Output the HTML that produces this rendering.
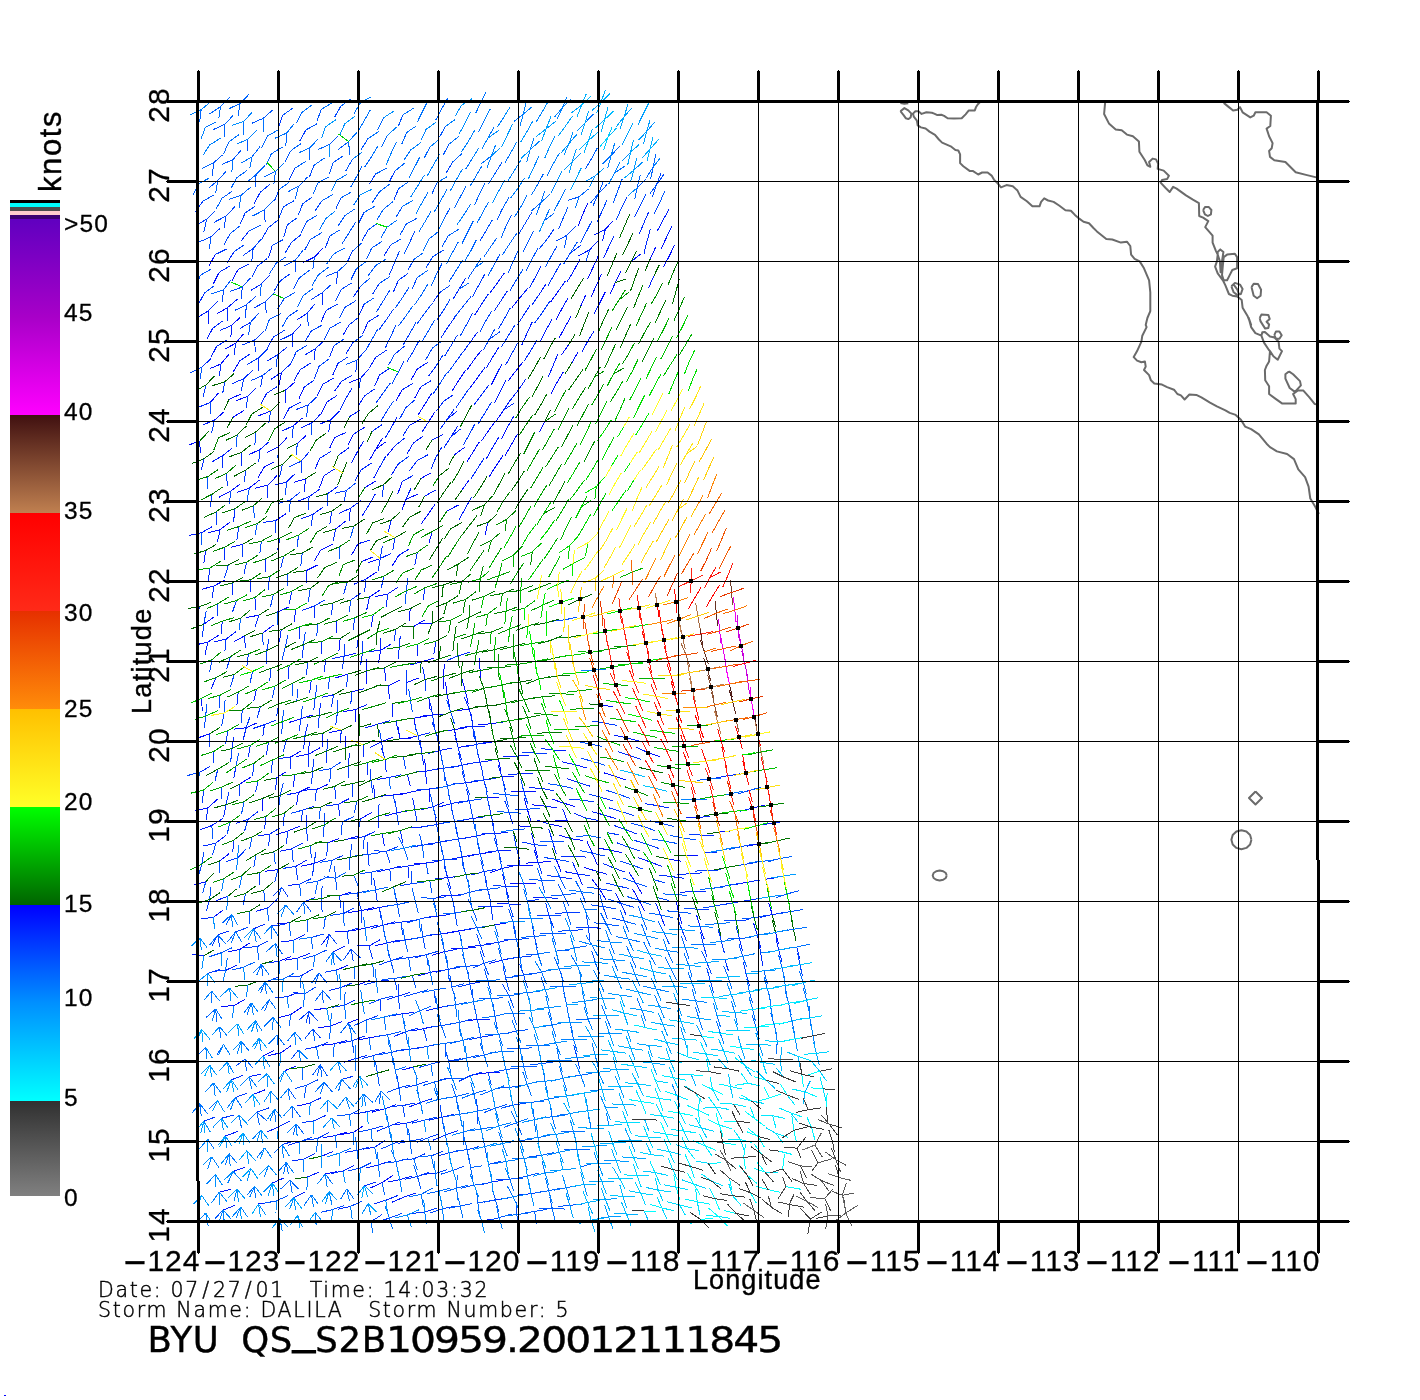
<!DOCTYPE html>
<html lang="en"><head><meta charset="utf-8"><title>BYU QS_S2B10959.20012111845</title>
<style>
#cb{position:absolute;left:10px;top:219px;width:50px;height:977px;background:linear-gradient(to bottom,#6000c0 0.0px,#a800c8 98.0px,#ff00ff 196.0px,#401010 196.0px,#c08050 294.0px,#ff0000 294.0px,#ff2a18 392.0px,#e63000 392.0px,#ff8c0a 490.0px,#ffc000 490.0px,#ffff28 588.0px,#00ff00 588.0px,#006400 686.0px,#0000ff 686.0px,#0090ff 784.0px,#00ffff 882.0px,#303030 882.0px,#808080 977.0px);}
html,body{margin:0;padding:0;background:#fff;}
body{width:1420px;height:1400px;position:relative;overflow:hidden;font-family:"Liberation Sans",sans-serif;color:#000;}
svg{position:absolute;left:0;top:0;}
.t{position:absolute;white-space:nowrap;line-height:1;}
.cl,.xl,.yl{-webkit-text-stroke:0.3px #000;}
#lon,#lat,#kn{-webkit-text-stroke:0.4px #000;}
.cl{font-size:24.5px;height:24px;line-height:24px;letter-spacing:1.2px;}
.xl{font-size:30px;width:100px;height:40px;line-height:40px;text-align:right;letter-spacing:1px;}
.xl .m{display:inline-block;transform:scale(2.5,1.15);transform-origin:100% 62%;margin-right:-2.5px;}
.yl{font-size:30px;letter-spacing:1px;width:60px;height:40px;line-height:40px;text-align:center;transform:rotate(-90deg);transform-origin:50% 50%;}
#lon{left:693px;top:1263.5px;font-size:27px;letter-spacing:1.1px;height:32px;line-height:32px;}
#lat{left:89.5px;top:646px;width:104px;font-size:27px;letter-spacing:1.3px;height:32px;line-height:32px;transform:rotate(-90deg);transform-origin:50% 50%;text-align:center;}
#kn{left:10.5px;top:134.5px;width:80px;font-size:31px;letter-spacing:1.6px;height:34px;line-height:34px;transform:rotate(-90deg);transform-origin:50% 50%;text-align:center;}
.th{font-family:"DejaVu Sans Light","DejaVu Sans","Liberation Sans",sans-serif;font-weight:200;font-size:20px;-webkit-text-stroke:0.45px #000;}
#l1{left:98px;top:1280px;letter-spacing:1.7px;font-size:20.5px;}
.sl{margin:0 2.2px;}
#l2{left:98px;top:1300px;letter-spacing:1.7px;font-size:20.5px;}
#ttl{left:147.5px;top:1321.5px;font-family:"DejaVu Sans","Liberation Sans",sans-serif;font-size:35.5px;letter-spacing:0.6px;word-spacing:10px;-webkit-text-stroke:0.4px #000;}
#ttl .d{display:inline-block;transform:scaleX(1.15);transform-origin:0 50%;letter-spacing:-1.7px;margin-left:-1px;}
#ttl .u{display:inline-block;margin:0 2px;transform:translateY(-7.5px) scaleX(1.25);-webkit-text-stroke:1.2px #000;}
</style></head>
<body>
<svg width="1420" height="1400" viewBox="0 0 1420 1400">
<rect width="1420" height="1400" fill="#fff"/>
<g shape-rendering="crispEdges"><rect x="10" y="200" width="50" height="3" fill="#000"/><rect x="10" y="203" width="50" height="4" fill="#00ffff"/><rect x="10" y="207" width="50" height="4" fill="#4d4d4d"/><rect x="10" y="211" width="50" height="4" fill="#ffcccc"/><rect x="10" y="215" width="50" height="4" fill="#3c0070"/></g>
<g fill="none" stroke-width="1" stroke-linecap="butt" shape-rendering="crispEdges">
<path stroke="#000eff" d="M215.1 254.6L209.0 266.0M582.7 214.5L587.6 203.3M582.7 214.5L577.9 226.6M314.4 257.1L322.8 248.3M314.4 257.1L302.9 262.7M238.2 269.3L232.1 280.4M219.2 272.3L213.3 283.9M605.3 229.2L613.4 220.6M666.3 237.8L661.1 249.1M227.4 307.8L217.2 313.6M669.5 255.6L674.7 244.6M669.5 255.6L663.4 267.3M650.4 258.6L655.7 247.1M631.2 261.6L640.4 254.2M592.9 267.7L598.4 255.6M592.9 267.7L587.6 279.0M573.8 270.8L579.7 259.5M231.5 325.5L240.3 317.3M615.4 282.4L620.9 271.5M615.4 282.4L610.4 293.6M596.3 285.5L601.5 274.1M596.3 285.5L591.1 296.9M558.1 291.5L550.6 302.0M520.0 297.6L511.9 307.5M235.6 343.2L243.6 333.8M235.6 343.2L224.6 349.4M599.7 303.2L605.2 292.1M580.7 306.2L585.5 295.5M561.6 309.3L556.0 319.8M239.7 360.9L233.3 371.7M220.8 364.0L228.8 354.5M220.8 364.0L210.0 368.6M565.1 327.0L571.1 316.2M565.1 327.0L558.7 338.6M281.4 372.6L279.2 384.5M568.6 344.7L561.6 354.8M473.9 359.9L481.5 350.2M473.9 359.9L467.2 369.8M417.2 369.1L410.8 380.4M360.6 378.2L348.7 382.8M304.1 387.3L299.0 398.5M285.3 390.3L294.7 382.3M247.8 396.4L236.4 400.5M229.0 399.5L240.7 394.1M210.3 402.5L218.3 393.2M572.0 362.5L578.3 351.7M515.3 371.6L522.9 362.0M515.3 371.6L507.7 381.5M496.4 374.6L491.2 385.2M477.5 377.7L469.9 388.2M458.6 380.7L465.8 370.0M458.6 380.7L452.3 390.6M420.9 386.8L414.7 398.1M402.1 389.8L396.0 400.9M326.9 402.0L321.1 413.8M270.6 411.1L258.3 415.9M233.1 417.2L243.8 410.6M214.4 420.2L223.9 411.9M556.6 383.2L563.3 372.1M556.6 383.2L551.0 394.0M424.7 404.5L417.8 415.3M293.3 425.8L302.5 418.0M199.8 441.0L188.5 445.1M503.6 410.1L496.4 420.7M428.4 422.2L434.9 411.9M353.4 434.4L348.0 445.4M334.7 437.4L329.6 448.4M297.2 443.5L306.3 435.4M278.6 446.6L287.2 437.4M278.6 446.6L267.4 452.4M259.9 449.6L248.9 454.6M544.8 421.7L539.4 432.2M507.2 427.8L501.4 439.3M488.4 430.9L495.3 421.3M488.4 430.9L481.6 440.7M394.7 446.1L386.7 456.2M375.9 449.1L382.8 437.7M375.9 449.1L369.6 459.8M375.9 449.1L385.6 441.9M263.9 467.3L274.4 461.7M263.9 467.3L258.0 477.9M510.8 445.5L517.5 434.1M510.8 445.5L504.9 455.9M473.3 451.6L479.5 441.6M473.3 451.6L466.6 462.5M454.6 454.7L464.5 447.4M323.8 475.9L319.3 488.4M305.1 479.0L293.8 482.4M267.9 485.1L277.1 475.5M267.9 485.1L255.3 488.2M249.3 488.1L259.5 480.0M249.3 488.1L237.3 492.1M230.7 491.1L240.1 484.2M230.7 491.1L219.1 497.2M495.7 466.3L503.1 455.3M495.7 466.3L488.9 477.2M420.9 478.5L431.3 472.7M402.2 481.5L397.8 494.0M364.9 487.6L375.4 481.3M461.9 490.1L468.9 480.1M406.0 499.2L401.8 510.5M406.0 499.2L418.1 494.0M275.9 520.5L285.8 513.7M220.2 529.6L229.6 522.4M220.2 529.6L208.5 532.7M447.0 510.9L458.5 505.0M428.4 513.9L435.4 503.7M428.4 513.9L421.0 524.1M335.5 529.1L345.5 521.3M242.8 544.3L231.1 547.2M487.9 522.5L485.1 534.9M432.1 531.7L428.9 543.3M357.9 543.8L351.5 555.3M320.8 549.9L332.5 544.3M320.8 549.9L314.2 561.2M398.7 555.5L391.9 566.4M380.2 558.5L368.3 562.5M361.7 561.6L372.9 557.0M306.2 570.7L317.7 564.9M214.0 585.9L225.0 580.0M214.0 585.9L202.3 589.2M365.5 579.3L376.4 572.2M387.8 594.0L398.4 586.9M387.8 594.0L375.2 596.6M369.4 597.0L380.1 589.9M277.2 612.2L289.1 606.8M258.9 615.2L246.5 617.5M203.7 624.4L213.8 617.0M410.1 608.7L409.7 621.2M262.8 633.0L273.3 625.2M244.5 636.0L233.8 641.6M207.8 642.1L218.8 635.1M207.8 642.1L195.6 644.9M432.2 623.4L419.2 623.0M413.8 626.4L424.9 619.9M340.2 638.6L338.9 651.4M380.8 650.2L391.5 643.8M380.8 650.2L378.5 662.6M421.3 661.8L433.8 658.3M421.3 661.8L409.7 665.1M366.3 671.0L366.1 684.0M366.3 671.0L366.3 659.3M348.0 674.0L335.3 678.0M480.1 670.5L481.2 683.3M480.1 670.5L479.5 658.5M443.4 676.5L443.3 689.5M443.4 676.5L444.5 663.7M406.7 682.6L418.5 678.0M388.4 685.7L399.5 680.1M351.8 691.7L363.8 688.9M465.4 691.2L468.3 704.0M465.4 691.2L462.0 679.1M447.1 694.3L449.6 706.6M447.1 694.3L445.4 681.6M428.8 697.3L430.1 709.6M355.6 709.5L342.8 711.8M355.6 709.5L355.8 721.7M300.9 718.6L312.6 715.1M300.9 718.6L289.1 722.5M246.2 727.7L257.4 722.7M246.2 727.7L234.3 729.1M209.8 733.8L198.6 737.7M469.1 709.0L456.1 710.9M432.5 715.0L444.5 714.2M432.5 715.0L419.9 716.4M414.2 718.1L427.2 716.1M414.2 718.1L415.9 730.2M341.2 730.2L329.4 732.6M600.9 705.4L613.0 706.5M491.0 723.7L503.0 722.0M491.0 723.7L478.4 725.0M454.5 729.7L466.6 727.5M454.5 729.7L441.5 731.3M454.5 729.7L456.8 742.1M418.0 735.8L405.6 738.6M399.7 738.9L411.4 738.4M399.7 738.9L398.3 726.8M381.5 741.9L393.2 736.9M345.1 748.0L345.9 736.1M308.7 754.1L320.0 747.8M308.7 754.1L295.8 756.7M290.5 757.1L301.4 750.8M494.7 741.4L482.5 743.7M458.2 747.5L469.7 745.4M276.3 777.9L286.4 771.6M240.0 783.9L250.7 777.2M498.3 759.1L500.9 770.8M425.5 771.3L424.8 759.0M316.5 789.5L328.0 784.3M298.3 792.6L309.4 787.1M262.1 798.6L262.2 811.3M207.8 807.8L217.7 799.1M207.8 807.8L195.6 810.9M647.8 752.5L659.8 756.5M501.9 776.8L514.0 776.2M429.2 789.0L429.3 802.1M411.0 792.0L398.9 795.0M392.9 795.1L404.7 793.3M392.9 795.1L380.3 796.3M614.8 776.3L626.3 780.1M614.8 776.3L603.5 772.7M523.7 791.5L535.6 791.6M523.7 791.5L510.9 791.9M487.4 797.6L499.4 797.0M396.6 812.8L409.3 810.5M396.6 812.8L384.9 816.1M360.4 818.9L371.6 812.6M288.0 831.0L299.9 826.1M288.0 831.0L276.2 834.5M563.7 803.2L575.1 806.5M563.7 803.2L552.2 799.1M545.5 806.2L532.3 804.8M527.3 809.3L530.9 820.5M527.3 809.3L524.1 797.7M346.1 839.7L358.8 835.7M328.0 842.7L339.2 838.5M219.8 860.9L229.3 853.5M567.2 820.9L578.9 822.0M567.2 820.9L555.1 820.2M549.0 824.0L562.0 826.7M530.9 827.0L517.7 825.8M313.9 863.5L301.2 866.2M277.8 869.6L264.6 871.3M205.8 881.7L194.1 884.8M752.5 808.2L764.8 805.0M570.7 838.6L582.6 840.4M570.7 838.6L558.8 835.2M534.5 844.7L537.7 857.6M534.5 844.7L531.6 833.4M480.2 853.8L492.3 852.0M426.0 863.0L413.8 863.0M719.4 832.1L731.8 830.8M610.5 850.3L622.2 852.7M610.5 850.3L598.1 848.0M592.4 853.3L597.6 865.4M592.4 853.3L587.0 841.6M556.2 859.4L560.9 871.4M538.1 862.5L551.2 861.1M538.1 862.5L525.8 863.1M520.0 865.5L533.0 865.9M501.9 868.5L489.7 872.8M339.6 895.9L351.5 891.9M213.7 917.2L223.6 909.8M759.0 843.7L747.3 846.1M686.4 855.9L698.3 855.9M668.3 858.9L681.2 861.3M595.9 871.1L584.0 867.3M523.6 883.2L535.8 883.9M523.6 883.2L510.4 883.8M379.4 907.5L366.6 910.4M361.4 910.6L373.7 907.7M361.4 910.6L348.2 912.5M289.5 922.7L277.2 924.0M635.5 882.7L641.7 893.4M599.4 888.8L605.8 899.5M599.4 888.8L592.1 879.4M365.2 928.3L352.3 930.6M347.2 931.4L335.3 931.9M239.6 949.6L249.6 943.1M239.6 949.6L227.8 951.7M747.5 882.2L734.4 884.6M639.0 900.4L644.4 910.9M639.0 900.4L632.7 889.1M494.7 924.8L507.1 922.8M458.8 930.8L471.0 929.2M458.8 930.8L446.7 933.1M386.9 943.0L375.1 945.8M297.2 958.2L285.2 960.1M279.3 961.2L290.6 956.7M678.5 912.1L676.0 900.6M462.4 948.6L450.7 948.4M444.5 951.6L432.0 955.3M336.9 969.9L348.1 965.3M772.2 914.6L768.8 902.9M430.2 972.4L443.2 970.1M430.2 972.4L417.7 975.9M358.6 984.5L369.8 980.4M233.5 1005.8L244.6 999.6M233.5 1005.8L221.1 1006.3M775.5 932.4L778.7 944.4M326.6 1008.4L314.5 1009.6M290.9 1014.4L301.5 1007.4M290.9 1014.4L278.8 1017.6M437.6 1007.8L449.8 1005.4M348.3 1023.0L359.3 1018.7M330.5 1026.1L342.0 1021.5M330.5 1026.1L318.1 1027.8M477.1 1019.5L465.4 1020.9M369.9 1037.7L382.6 1035.3M369.9 1037.7L358.3 1040.0M334.3 1043.8L321.9 1045.3M280.8 1052.9L290.8 1045.8M280.8 1052.9L268.4 1055.5M263.0 1056.0L273.7 1050.8M284.7 1070.7L295.7 1066.3M413.0 1067.1L401.5 1070.1M253.0 1094.5L265.1 1089.8M488.0 1072.7L499.8 1072.7M488.0 1072.7L475.7 1074.3M310.1 1103.1L297.5 1106.0M384.9 1108.7L372.1 1112.1M353.2 1132.5L363.2 1125.9M353.2 1132.5L340.1 1134.7M335.5 1135.5L347.2 1132.0M325.3 1174.0L337.3 1171.6M219.3 1192.2L230.8 1189.2M382.1 1182.6L393.0 1175.4M382.1 1182.6L370.3 1188.0"/>
<path stroke="#001dff" d="M663.0 220.1L669.1 209.1M663.0 220.1L657.5 230.6M605.3 229.2L594.5 234.8M605.3 229.2L602.6 240.8M666.3 237.8L672.0 226.1M608.7 247.0L603.7 257.7M589.5 250.0L597.4 241.4M589.5 250.0L578.1 255.9M227.4 307.8L237.4 299.2M208.5 310.8L198.3 316.9M208.5 310.8L208.1 323.5M573.8 270.8L567.2 281.7M497.4 282.9L504.5 272.7M497.4 282.9L490.2 292.7M326.2 310.3L321.1 321.7M307.2 313.3L296.6 320.1M231.5 325.5L230.9 337.4M212.6 328.5L206.9 339.0M653.7 276.3L648.5 288.1M558.1 291.5L565.4 281.0M539.1 294.6L545.8 284.4M520.0 297.6L527.7 288.5M481.9 303.7L474.8 314.9M368.0 321.9L362.8 333.7M349.0 325.0L342.8 335.5M292.3 334.1L300.9 324.8M216.7 346.3L211.0 357.1M599.7 303.2L593.9 314.1M561.6 309.3L568.1 297.9M546.1 330.0L551.8 319.5M546.1 330.0L540.5 340.6M527.1 333.1L532.4 321.6M527.1 333.1L521.9 344.8M470.2 342.2L477.7 331.8M375.6 357.4L369.5 368.0M337.9 363.5L332.9 374.7M300.2 369.6L294.2 380.5M281.4 372.6L270.8 379.4M587.5 341.7L594.4 330.5M587.5 341.7L581.6 352.5M492.8 356.9L499.2 346.7M492.8 356.9L486.2 368.2M417.2 369.1L427.6 362.5M379.5 375.1L374.6 386.2M360.6 378.2L368.8 369.0M341.8 381.2L334.7 390.9M323.0 384.2L334.4 377.6M323.0 384.2L317.2 395.7M285.3 390.3L286.0 402.5M266.6 393.4L260.5 404.9M247.8 396.4L256.3 387.6M553.1 365.5L557.9 353.8M553.1 365.5L548.5 376.6M496.4 374.6L501.9 364.1M477.5 377.7L485.2 367.3M364.5 395.9L358.2 405.8M326.9 402.0L337.2 395.4M289.3 408.1L283.3 419.0M214.4 420.2L202.7 425.0M518.9 389.3L526.2 378.4M518.9 389.3L511.0 399.4M500.0 392.3L505.8 380.6M500.0 392.3L494.6 402.9M424.7 404.5L431.7 393.4M349.5 416.7L360.3 410.2M330.8 419.7L339.5 411.0M330.8 419.7L319.6 424.2M312.0 422.8L320.7 414.0M312.0 422.8L300.8 428.1M293.3 425.8L282.6 430.8M199.8 441.0L200.2 453.0M503.6 410.1L511.0 399.1M447.2 419.2L456.8 411.5M428.4 422.2L421.9 432.3M409.6 425.3L420.7 419.1M390.9 428.3L396.9 417.4M353.4 434.4L364.5 427.3M334.7 437.4L345.9 432.6M259.9 449.6L269.1 441.8M222.5 455.7L232.2 448.2M222.5 455.7L212.1 461.8M507.2 427.8L513.7 416.3M450.9 436.9L458.0 425.8M432.1 440.0L442.9 434.6M413.4 443.0L423.0 436.2M413.4 443.0L407.1 453.7M357.2 452.1L363.8 440.7M357.2 452.1L351.6 463.1M338.5 455.2L349.0 447.7M319.9 458.2L314.8 469.3M492.0 448.6L498.6 437.5M492.0 448.6L486.2 458.9M398.4 463.8L391.4 475.0M379.8 466.8L373.9 477.8M323.8 475.9L334.3 469.1M305.1 479.0L304.9 491.9M286.5 482.0L295.0 473.8M286.5 482.0L275.1 485.0M327.7 493.7L338.0 486.1M309.1 496.7L319.5 489.3M309.1 496.7L297.6 501.4M424.6 496.2L436.0 489.9M406.0 499.2L411.3 487.6M368.8 505.3L375.2 494.1M368.8 505.3L361.8 516.3M350.2 508.4L361.0 500.7M350.2 508.4L339.2 513.2M350.2 508.4L349.5 521.1M313.0 514.4L323.3 506.9M313.0 514.4L301.0 518.8M220.2 529.6L217.3 542.2M201.7 532.7L211.9 526.7M201.7 532.7L188.8 535.6M465.6 507.8L471.6 497.1M465.6 507.8L459.1 519.4M391.2 520.0L388.4 531.5M205.8 550.4L203.8 562.9M357.9 543.8L370.5 539.9M398.7 555.5L409.0 549.0M306.2 570.7L306.4 583.4M365.5 579.3L353.6 584.4M369.4 597.0L366.8 609.6M295.7 609.2L294.2 621.9M373.2 614.7L371.1 626.8M336.4 620.8L336.7 633.2M226.1 639.1L236.4 631.4M226.1 639.1L213.6 642.2M207.8 642.1L205.1 654.5M436.0 641.1L433.8 654.2M417.6 644.1L417.7 656.0M380.8 650.2L368.1 651.8M380.8 650.2L380.3 638.5M344.1 656.3L356.2 653.2M215.9 677.6L210.9 689.6M384.6 667.9L385.7 680.9M256.5 689.2L253.8 700.8M201.7 698.3L202.2 711.1M388.4 685.7L389.4 698.6M333.5 694.8L321.7 697.4M392.2 703.4L392.2 716.6M355.6 709.5L367.4 704.4M469.1 709.0L472.5 721.4M396.0 721.1L398.9 733.9M377.7 724.2L390.1 720.6M377.7 724.2L365.3 727.9M323.0 733.3L322.2 746.5M472.7 726.7L485.1 726.5M472.7 726.7L460.2 727.2M381.5 741.9L370.2 747.3M308.7 754.1L309.2 741.2M439.9 750.5L452.5 747.9M439.9 750.5L427.8 753.6M294.4 774.8L293.7 786.6M626.1 737.8L638.5 741.0M626.1 737.8L614.3 735.1M553.0 750.0L566.2 750.8M516.5 756.1L529.3 755.1M516.5 756.1L503.3 756.8M480.1 762.2L492.0 760.5M425.5 771.3L438.0 768.8M425.5 771.3L412.5 772.3M425.5 771.3L426.6 783.7M407.3 774.3L410.4 786.4M389.1 777.4L376.6 779.6M316.5 789.5L303.5 790.2M298.3 792.6L286.7 794.7M298.3 792.6L296.6 804.9M647.8 752.5L636.5 747.4M574.8 764.7L587.5 768.1M574.8 764.7L562.1 761.8M520.1 773.8L533.4 773.6M465.5 782.9L478.3 781.1M411.0 792.0L423.9 789.4M374.7 798.1L373.7 785.3M338.4 804.2L349.0 798.7M247.9 819.4L236.2 823.2M211.8 825.5L222.6 818.6M211.8 825.5L199.5 830.1M578.3 782.4L566.8 778.5M541.9 788.5L529.4 787.6M451.0 803.7L439.3 806.9M432.9 806.7L444.1 802.3M432.9 806.7L421.1 809.8M269.9 834.1L258.2 835.8M215.8 843.2L226.0 835.2M545.5 806.2L557.5 808.1M472.9 818.4L485.0 816.8M472.9 818.4L460.6 820.5M418.5 827.5L406.3 828.1M382.3 833.6L384.2 845.6M291.9 848.8L279.9 851.2M603.5 814.8L615.5 818.6M603.5 814.8L591.6 811.6M567.2 820.9L562.9 809.3M549.0 824.0L537.2 820.3M494.6 833.1L507.9 832.9M476.5 836.1L488.8 833.0M476.5 836.1L463.9 838.2M313.9 863.5L325.9 858.8M295.8 866.5L306.6 860.1M697.9 817.4L710.5 816.5M697.9 817.4L686.1 817.9M498.3 850.8L511.2 850.2M480.2 853.8L467.8 856.4M462.1 856.9L474.2 854.6M462.1 856.9L449.5 859.6M426.0 863.0L438.8 861.4M407.9 866.0L419.8 864.0M389.8 869.0L401.2 866.0M389.8 869.0L377.2 871.8M299.7 884.2L287.9 885.5M227.7 896.4L215.8 900.7M773.9 822.9L761.2 825.0M520.0 865.5L506.7 865.9M501.9 868.5L513.4 866.0M447.7 877.7L459.9 876.1M447.7 877.7L435.1 878.9M267.6 908.1L255.7 911.3M650.2 861.9L662.2 866.6M650.2 861.9L637.9 857.7M595.9 871.1L607.5 874.3M577.8 874.1L565.4 871.8M577.8 874.1L582.6 885.3M505.5 886.3L508.8 898.4M505.5 886.3L502.7 874.4M451.4 895.4L463.5 894.7M451.4 895.4L438.4 896.2M379.4 907.5L391.3 905.1M635.5 882.7L628.8 871.8M545.2 897.9L532.9 897.5M509.1 904.0L496.6 903.2M437.1 916.1L449.9 914.6M437.1 916.1L424.9 918.0M383.1 925.3L395.4 921.7M365.2 928.3L377.7 925.2M329.2 934.4L321.6 944.8M293.4 940.5L304.8 934.8M293.4 940.5L280.7 942.0M203.8 955.7L191.8 954.6M765.6 879.2L777.8 877.5M620.9 903.5L615.5 892.9M440.8 933.9L453.6 932.4M440.8 933.9L427.8 935.5M386.9 943.0L399.4 940.1M369.0 946.0L379.9 939.8M369.0 946.0L356.6 945.1M333.1 952.1L344.5 946.3M297.2 958.2L309.7 953.5M225.6 970.4L237.3 965.0M678.5 912.1L682.1 924.3M660.5 915.1L664.8 926.1M660.5 915.1L655.8 903.3M480.4 945.5L468.5 946.6M462.4 948.6L475.6 947.3M700.0 926.8L704.1 938.8M700.0 926.8L696.6 915.1M502.0 960.2L514.3 957.9M502.0 960.2L489.2 963.5M287.1 996.7L298.3 992.4M757.4 935.4L760.7 947.7M757.4 935.4L753.5 922.8M437.6 1007.8L425.9 1010.9M401.9 1013.9L414.3 1012.3M477.1 1019.5L490.0 1019.4M423.5 1028.6L435.6 1026.2M423.5 1028.6L412.0 1031.1M334.3 1043.8L346.7 1040.6M355.9 1058.5L343.6 1062.6M249.1 1076.7L261.3 1074.0M420.5 1102.6L409.1 1106.9M384.9 1108.7L396.3 1104.7M278.5 1126.9L267.0 1132.0M225.3 1136.0L237.8 1131.4M406.4 1123.3L394.2 1124.6M335.5 1135.5L323.3 1137.7M374.7 1147.2L362.5 1149.3M321.5 1156.3L333.3 1151.3M233.1 1171.5L245.1 1167.3M378.4 1164.9L390.8 1161.0M378.4 1164.9L365.7 1168.1M343.0 1171.0L353.9 1165.6M307.6 1177.0L319.3 1172.0M272.3 1183.1L283.7 1178.0M399.8 1179.6L411.7 1176.2M399.8 1179.6L387.7 1182.0M293.8 1197.8L305.2 1191.8M258.5 1203.9L270.3 1202.2M223.2 1210.0L234.6 1205.5M403.5 1197.3L415.9 1193.1M403.5 1197.3L391.5 1202.4M481.5 1220.6L494.0 1219.2"/>
<path stroke="#002bff" d="M260.2 192.3L254.0 203.9M249.2 230.8L241.1 240.9M272.3 245.4L268.6 257.7M234.2 251.5L227.3 262.6M390.8 244.9L384.1 255.5M238.2 269.3L249.6 263.9M219.2 272.3L230.5 265.6M643.8 223.2L648.5 212.4M643.8 223.2L639.2 234.2M261.3 284.0L270.4 274.5M261.3 284.0L250.6 290.6M204.4 293.1L198.4 304.3M647.1 240.9L650.5 228.6M647.1 240.9L644.0 253.5M608.7 247.0L614.0 236.3M398.4 280.4L393.3 292.2M360.3 286.5L353.5 296.9M322.3 292.6L322.5 305.4M227.4 307.8L227.5 320.6M208.5 310.8L217.8 301.4M535.5 276.9L541.1 266.0M535.5 276.9L529.5 288.0M459.2 289.0L465.8 277.8M459.2 289.0L453.1 299.1M440.2 292.1L433.1 302.0M364.1 304.2L358.8 315.6M307.2 313.3L315.0 303.7M250.4 322.4L240.3 328.4M231.5 325.5L219.9 330.5M212.6 328.5L222.3 321.2M539.1 294.6L531.6 305.4M501.0 300.7L507.5 290.7M501.0 300.7L494.0 311.2M481.9 303.7L488.5 293.9M368.0 321.9L379.3 314.9M292.3 334.1L292.7 346.8M273.4 337.1L267.6 347.7M235.6 343.2L234.0 355.5M216.7 346.3L226.7 340.1M523.6 315.3L530.1 305.3M523.6 315.3L517.1 325.2M447.6 327.5L455.2 316.8M447.6 327.5L441.0 337.8M352.9 342.7L346.1 353.6M334.0 345.8L329.5 357.3M315.1 348.8L324.1 340.8M315.1 348.8L304.6 355.2M315.1 348.8L314.6 360.5M277.4 354.9L287.3 347.0M277.4 354.9L266.7 361.2M258.5 357.9L258.3 371.0M239.7 360.9L250.4 353.8M220.8 364.0L219.5 376.3M202.0 367.0L211.3 358.3M470.2 342.2L463.1 352.0M375.6 357.4L386.6 350.1M300.2 369.6L310.9 363.0M281.4 372.6L291.0 363.5M243.7 378.7L252.6 370.5M243.7 378.7L231.8 383.8M530.6 350.8L537.0 340.2M530.6 350.8L524.2 361.2M511.7 353.9L505.8 364.7M436.1 366.0L428.7 375.9M379.5 375.1L389.9 368.0M341.8 381.2L352.1 375.2M304.1 387.3L314.2 380.0M266.6 393.4L276.9 386.7M210.3 402.5L198.9 407.1M420.9 386.8L431.1 380.7M402.1 389.8L413.3 383.2M364.5 395.9L374.4 389.1M345.7 398.9L352.0 388.0M345.7 398.9L340.2 409.9M289.3 408.1L301.0 402.1M481.1 395.4L488.8 385.0M481.1 395.4L474.1 404.8M443.5 401.5L453.2 394.8M443.5 401.5L435.8 411.6M330.8 419.7L328.7 431.6M503.6 410.1L513.8 403.4M447.2 419.2L454.1 409.5M447.2 419.2L440.2 429.1M409.6 425.3L403.1 435.3M390.9 428.3L384.9 438.5M372.1 431.4L381.8 424.7M241.2 452.6L241.8 465.5M222.5 455.7L222.2 467.7M203.9 458.7L201.4 470.3M450.9 436.9L444.0 447.7M450.9 436.9L460.4 429.0M394.7 446.1L404.9 437.9M319.9 458.2L330.8 451.5M301.2 461.2L309.4 451.6M435.8 457.7L441.8 447.2M435.8 457.7L430.8 469.5M417.1 460.7L428.0 454.7M417.1 460.7L409.4 471.1M379.8 466.8L386.1 455.7M361.1 469.9L371.6 462.9M361.1 469.9L354.6 481.4M267.9 485.1L267.2 498.0M476.9 469.4L484.0 458.3M476.9 469.4L470.7 479.3M402.2 481.5L413.2 475.5M234.7 508.9L233.7 521.6M331.6 511.4L329.8 524.4M275.9 520.5L263.4 522.5M335.5 529.1L333.2 541.1M279.8 538.2L277.7 549.9M224.3 547.4L224.5 560.4M395.0 537.7L392.8 550.2M265.3 559.0L265.1 572.2M209.9 568.1L208.3 581.2M417.3 552.4L414.9 564.7M380.2 558.5L391.1 553.5M250.9 579.8L250.8 591.9M232.4 582.8L232.6 595.0M214.0 585.9L211.9 598.5M365.5 579.3L364.8 592.1M291.7 591.4L289.2 603.8M254.9 597.5L255.8 609.5M424.8 587.9L423.2 599.6M387.8 594.0L386.1 607.1M350.9 600.0L361.5 592.6M314.1 606.1L302.0 610.3M314.1 606.1L314.4 618.0M258.9 615.2L255.2 626.6M222.1 621.3L221.7 633.7M299.6 626.9L299.0 639.3M281.2 629.9L279.5 642.1M244.5 636.0L245.4 648.1M358.6 635.5L356.9 647.9M321.9 641.6L321.3 653.8M399.2 647.2L398.3 659.2M399.2 647.2L400.3 635.5M362.5 653.2L360.6 665.1M344.1 656.3L331.7 658.7M325.8 659.3L324.0 672.0M289.1 665.4L288.1 678.6M458.0 655.8L469.5 652.3M311.3 680.1L309.6 693.3M238.2 692.2L236.9 705.0M425.0 679.6L422.8 667.4M319.1 715.5L320.6 703.3M264.4 724.7L275.7 720.2M264.4 724.7L253.1 728.5M264.4 724.7L262.8 736.4M246.2 727.7L243.1 740.1M469.1 709.0L464.4 697.2M432.5 715.0L430.4 702.7M341.2 730.2L340.5 743.3M304.8 736.3L303.6 749.4M304.8 736.3L307.9 723.7M268.4 742.4L266.5 754.6M250.2 745.4L248.3 757.4M232.0 748.5L233.8 736.8M472.7 726.7L471.1 714.1M418.0 735.8L429.8 732.9M381.5 741.9L383.4 754.8M363.3 744.9L363.1 756.8M326.9 751.0L326.3 763.2M308.7 754.1L308.5 766.8M290.5 757.1L277.8 758.7M290.5 757.1L290.0 770.1M236.0 766.2L233.8 778.0M199.7 772.3L210.1 766.5M476.4 744.4L488.7 741.8M476.4 744.4L464.8 746.9M458.2 747.5L461.5 760.1M458.2 747.5L454.7 734.9M421.7 753.5L423.9 765.4M421.7 753.5L420.3 740.4M385.3 759.6L386.1 771.6M385.3 759.6L381.5 748.1M367.1 762.7L368.0 774.7M348.9 765.7L349.1 753.2M276.3 777.9L275.8 790.2M553.0 750.0L541.2 748.6M480.1 762.2L467.2 763.6M480.1 762.2L483.0 773.9M480.1 762.2L477.0 750.2M461.9 765.2L474.9 762.7M461.9 765.2L449.7 768.1M443.6 768.2L431.0 770.2M389.1 777.4L401.3 774.8M225.9 804.7L223.8 816.7M207.8 807.8L206.1 820.4M629.6 755.6L641.4 759.6M629.6 755.6L617.5 751.6M520.1 773.8L508.3 774.5M501.9 776.8L505.5 789.6M501.9 776.8L498.3 765.4M483.7 779.9L496.4 778.3M465.5 782.9L453.1 783.6M429.2 789.0L441.0 787.3M338.4 804.2L326.1 805.9M338.4 804.2L339.8 816.4M302.2 810.3L313.6 806.5M266.0 816.4L264.6 829.0M247.9 819.4L258.2 811.4M578.3 782.4L590.4 786.3M541.9 788.5L553.7 790.6M451.0 803.7L462.7 801.3M414.8 809.8L412.7 797.8M378.5 815.9L378.5 828.4M306.1 828.0L306.5 815.3M269.9 834.1L280.3 827.6M215.8 843.2L203.3 846.0M727.6 775.8L739.6 773.9M727.6 775.8L715.6 777.9M600.0 797.1L612.5 800.7M509.2 812.3L512.4 823.8M491.0 815.3L494.1 827.4M491.0 815.3L488.6 802.3M436.6 824.5L449.5 821.9M436.6 824.5L434.5 812.5M418.5 827.5L430.6 825.5M400.4 830.5L402.8 842.6M364.2 836.6L375.0 831.4M364.2 836.6L352.4 838.9M291.9 848.8L302.7 843.0M658.1 805.7L669.5 808.2M658.1 805.7L644.9 803.7M585.4 817.9L598.0 820.4M585.4 817.9L573.9 813.2M494.6 833.1L481.5 833.1M458.4 839.1L470.7 837.2M440.3 842.2L452.2 840.0M440.3 842.2L428.5 844.0M752.5 808.2L739.8 811.4M625.2 829.5L636.7 833.9M625.2 829.5L613.9 825.4M552.6 841.7L556.2 853.9M552.6 841.7L548.7 829.1M498.3 850.8L485.9 852.2M407.9 866.0L395.4 868.0M407.9 866.0L409.0 878.1M773.9 822.9L786.0 821.0M701.2 835.1L713.8 835.3M574.3 856.4L586.4 857.1M574.3 856.4L561.5 856.1M538.1 862.5L534.4 850.5M520.0 865.5L517.8 853.2M483.8 871.6L471.6 874.9M447.7 877.7L451.1 889.4M447.7 877.7L444.0 866.0M303.6 902.0L314.8 897.6M267.6 908.1L277.3 899.3M213.7 917.2L200.7 919.0M704.6 852.8L717.5 852.6M614.0 868.0L625.5 872.3M614.0 868.0L603.0 863.5M577.8 874.1L589.9 875.6M577.8 874.1L572.6 862.2M559.7 877.1L572.4 879.0M253.6 928.8L265.2 924.0M217.7 934.9L229.4 930.8M689.8 873.6L702.4 872.9M689.8 873.6L677.0 874.9M671.7 876.6L683.6 878.3M671.7 876.6L658.9 875.1M545.2 897.9L557.9 898.1M509.1 904.0L520.9 904.0M491.1 907.0L503.4 906.7M491.1 907.0L478.1 906.7M401.1 922.2L414.0 920.4M401.1 922.2L388.3 923.9M383.1 925.3L370.7 928.5M347.2 931.4L358.6 928.0M747.5 882.2L759.6 880.0M693.2 891.3L705.8 891.4M693.2 891.3L680.2 892.4M620.9 903.5L626.1 914.9M404.9 940.0L417.5 938.1M404.9 940.0L393.1 942.2M279.3 961.2L266.5 963.0M750.8 899.9L763.4 897.8M750.8 899.9L739.0 901.9M588.4 927.3L601.3 928.3M498.4 942.5L510.5 939.2M498.4 942.5L486.2 943.9M480.4 945.5L493.1 943.7M444.5 951.6L456.7 949.4M301.1 975.9L312.3 969.1M772.2 914.6L784.8 912.4M772.2 914.6L760.4 917.3M376.5 981.5L389.4 980.2M340.7 987.6L352.2 982.9M340.7 987.6L329.1 990.6M739.4 938.4L742.5 951.1M469.8 984.0L481.6 981.6M398.1 996.2L410.1 992.2M398.1 996.2L386.6 999.6M344.5 1005.3L355.5 999.6M796.8 947.0L799.8 959.2M778.7 950.1L782.2 962.3M778.7 950.1L775.9 937.7M760.7 953.1L762.7 965.6M401.9 1013.9L389.2 1016.1M405.6 1031.7L393.7 1036.6M352.1 1040.8L364.5 1036.1M352.1 1040.8L339.2 1043.3M316.5 1046.8L304.5 1049.4M480.7 1037.2L492.9 1035.3M355.9 1058.5L367.4 1055.4M231.4 1079.8L242.6 1075.5M448.7 1061.0L435.7 1062.5M310.1 1103.1L321.5 1097.5M420.5 1102.6L432.4 1098.7M367.2 1111.7L378.7 1109.2M367.2 1111.7L354.5 1114.0M313.9 1120.8L326.1 1115.3M278.5 1126.9L290.1 1121.0M441.9 1117.3L454.3 1114.1M441.9 1117.3L429.1 1120.1M406.4 1123.3L418.0 1119.8M388.7 1126.4L400.0 1122.0M388.7 1126.4L376.5 1131.4M300.0 1141.6L288.3 1145.2M282.3 1144.6L294.5 1140.9M445.6 1135.0L457.6 1130.7M445.6 1135.0L433.3 1140.1M374.7 1147.2L384.7 1140.7M356.9 1150.2L345.2 1152.4M303.8 1159.3L314.8 1153.6M303.8 1159.3L291.9 1160.8M343.0 1171.0L331.5 1173.5M435.2 1173.5L421.9 1174.3M364.4 1185.7L376.4 1182.0M491.9 1182.1L503.6 1179.9M385.8 1200.3L398.1 1195.4M385.8 1200.3L373.9 1203.8M350.5 1206.4L337.6 1209.3M495.5 1199.8L507.9 1198.0M481.5 1220.6L469.8 1223.0"/>
<path stroke="#003aff" d="M282.7 115.3L278.6 126.7M306.0 129.9L299.6 141.2M294.7 168.4L289.1 179.9M394.9 171.0L389.4 181.6M375.6 174.0L369.4 184.1M260.2 192.3L270.4 183.8M202.7 201.4L195.4 212.1M398.6 188.7L394.0 199.6M245.1 213.0L240.3 224.0M206.8 219.1L195.8 225.3M287.4 224.7L283.6 237.4M268.3 227.7L278.5 219.7M268.3 227.7L262.0 238.6M211.0 236.8L220.1 228.3M367.9 230.2L361.9 241.2M329.6 236.3L325.3 248.4M291.4 242.4L301.0 234.7M291.4 242.4L285.1 253.1M253.2 248.5L243.1 255.5M215.1 254.6L226.5 249.1M640.5 205.4L634.7 217.0M621.2 208.5L626.8 197.1M601.9 211.5L596.8 222.6M352.6 251.0L347.3 262.0M257.3 266.2L267.3 258.3M257.3 266.2L252.2 277.1M547.7 238.4L554.3 228.6M394.6 262.7L389.4 274.7M337.4 271.8L336.7 283.7M280.3 280.9L289.9 273.9M280.3 280.9L274.1 291.0M570.3 253.0L580.8 245.4M398.4 280.4L408.0 273.4M379.3 283.4L372.9 293.8M322.3 292.6L311.4 299.5M265.3 301.7L254.1 308.0M554.6 273.8L560.8 263.1M554.6 273.8L548.2 285.4M478.3 286.0L484.7 274.4M478.3 286.0L472.4 296.9M326.2 310.3L337.6 304.1M443.9 309.8L437.0 319.8M386.9 318.9L393.5 309.0M386.9 318.9L379.1 329.6M349.0 325.0L359.2 316.9M311.2 331.1L304.8 341.9M292.3 334.1L280.4 340.0M273.4 337.1L284.6 330.2M254.5 340.2L264.0 331.2M254.5 340.2L242.2 345.0M254.5 340.2L255.5 352.5M542.6 312.3L549.8 301.2M542.6 312.3L534.6 322.9M504.5 318.4L510.2 308.1M504.5 318.4L498.4 329.0M466.6 324.5L472.8 312.8M409.7 333.6L403.2 344.9M390.7 336.6L385.3 348.0M296.2 351.8L291.2 362.9M258.5 357.9L267.9 348.8M258.5 357.9L247.0 364.6M508.1 336.1L514.9 325.1M508.1 336.1L501.5 346.7M451.3 345.2L457.6 334.7M451.3 345.2L444.7 355.9M413.4 351.3L419.4 339.9M413.4 351.3L407.1 361.3M394.5 354.4L404.5 346.2M356.8 360.4L365.1 350.7M356.8 360.4L355.8 372.4M337.9 363.5L348.5 356.5M319.0 366.5L314.3 378.7M262.5 375.6L260.7 387.2M243.7 378.7L241.0 391.4M224.9 381.7L222.7 393.2M206.1 384.8L202.9 397.5M511.7 353.9L517.6 343.3M455.0 363.0L462.7 352.2M436.1 366.0L442.8 355.2M398.3 372.1L403.7 361.4M360.6 378.2L358.7 390.2M247.8 396.4L246.2 408.1M439.8 383.7L433.3 393.7M383.3 392.9L375.9 403.0M308.1 405.0L316.7 397.0M308.1 405.0L296.4 409.4M270.6 411.1L268.7 423.0M214.4 420.2L211.7 432.8M462.3 398.4L469.6 387.8M462.3 398.4L455.7 408.2M405.9 407.6L414.8 399.9M405.9 407.6L399.6 419.0M387.1 410.6L380.6 421.6M293.3 425.8L292.2 438.0M484.8 413.1L491.4 402.1M484.8 413.1L477.8 424.4M259.9 449.6L258.7 462.4M469.6 433.9L475.2 423.4M469.6 433.9L463.2 445.2M301.2 461.2L289.2 466.7M301.2 461.2L301.3 473.2M282.5 464.3L279.5 477.1M245.2 470.4L244.8 482.3M226.6 473.4L227.3 485.9M398.4 463.8L408.8 456.5M212.1 494.2L210.3 506.8M383.6 484.6L382.3 496.9M346.3 490.6L334.9 493.3M346.3 490.6L344.1 502.2M327.7 493.7L327.6 505.7M309.1 496.7L308.0 509.7M290.5 499.8L300.3 492.0M290.5 499.8L278.3 503.6M216.2 511.9L216.2 524.8M313.0 514.4L311.0 526.2M275.9 520.5L275.3 533.4M238.8 526.6L236.9 539.6M242.8 544.3L242.1 557.4M283.8 556.0L280.6 568.5M246.8 562.1L244.0 573.5M228.4 565.1L224.6 577.8M380.2 558.5L378.2 571.1M380.2 558.5L382.4 545.6M269.3 576.8L268.4 589.5M384.0 576.2L381.2 588.0M347.1 582.3L343.8 593.7M236.4 600.6L232.5 612.0M218.0 603.6L217.3 615.7M199.6 606.6L196.1 618.6M332.5 603.1L331.6 615.4M314.1 606.1L325.1 599.9M203.7 624.4L202.3 637.4M354.8 617.8L352.9 630.5M226.1 639.1L224.9 650.9M395.4 629.4L394.6 641.5M303.5 644.6L302.3 657.7M266.8 650.7L267.0 663.9M266.8 650.7L269.1 638.5M248.5 653.8L246.8 666.1M230.2 656.8L226.7 669.1M362.5 653.2L362.7 641.5M344.1 656.3L342.3 668.6M344.1 656.3L344.9 644.0M307.4 662.4L306.6 675.5M270.8 668.4L269.7 681.2M458.0 655.8L446.9 660.5M348.0 674.0L346.4 686.5M425.0 679.6L426.1 691.5M406.7 682.6L406.7 695.0M406.7 682.6L406.5 669.6M351.8 691.7L350.8 704.0M333.5 694.8L331.5 707.3M315.2 697.8L313.8 710.3M278.7 703.9L276.7 716.2M260.4 706.9L257.0 718.2M337.4 712.5L335.8 724.7M319.1 715.5L318.6 728.5M300.9 718.6L299.2 730.9M246.2 727.7L250.1 716.4M228.0 730.8L225.7 743.8M209.8 733.8L209.7 746.7M432.5 715.0L434.6 727.5M286.6 739.4L283.3 751.8M213.8 751.5L213.7 763.4M472.7 726.7L474.4 739.4M436.2 732.8L439.7 744.3M436.2 732.8L431.9 721.7M418.0 735.8L420.8 748.0M326.9 751.0L327.5 739.1M272.3 760.1L271.5 773.3M254.1 763.2L252.5 775.9M217.8 769.2L214.9 781.1M604.3 723.1L616.7 725.3M604.3 723.1L592.3 721.1M439.9 750.5L442.7 762.7M439.9 750.5L437.2 738.4M348.9 765.7L348.7 778.3M312.6 771.8L311.5 784.1M312.6 771.8L313.7 759.1M258.1 780.9L255.5 792.4M240.0 783.9L239.9 796.5M203.7 790.0L202.2 802.7M534.8 753.0L546.6 753.1M534.8 753.0L522.4 752.8M461.9 765.2L458.5 753.5M443.6 768.2L456.5 766.0M370.9 780.4L370.0 768.5M352.8 783.4L353.0 796.7M334.6 786.5L336.0 798.5M316.5 789.5L314.9 801.5M225.9 804.7L229.0 792.2M483.7 779.9L471.0 781.4M483.7 779.9L487.3 792.4M483.7 779.9L481.5 766.8M465.5 782.9L461.8 770.6M429.2 789.0L417.3 789.7M302.2 810.3L301.7 822.3M284.1 813.3L283.8 825.9M247.9 819.4L244.6 831.0M469.2 800.6L457.5 803.4M469.2 800.6L471.8 812.4M469.2 800.6L466.6 789.1M451.0 803.7L453.0 815.4M451.0 803.7L448.2 792.0M414.8 809.8L417.1 822.2M396.6 812.8L395.4 801.2M378.5 815.9L379.1 803.8M342.3 821.9L330.1 821.5M306.1 828.0L308.0 840.8M288.0 831.0L286.2 844.0M269.9 834.1L268.5 846.1M233.8 840.2L232.7 852.3M600.0 797.1L588.4 793.9M581.8 800.1L594.1 801.8M581.8 800.1L569.2 799.3M509.2 812.3L504.8 801.0M436.6 824.5L424.7 826.5M436.6 824.5L438.9 836.3M328.0 842.7L326.6 855.6M237.8 857.9L245.9 849.3M237.8 857.9L225.7 861.8M621.7 811.8L634.2 815.6M621.7 811.8L609.2 807.9M494.6 833.1L497.2 844.6M494.6 833.1L491.7 820.9M458.4 839.1L445.5 840.9M422.2 845.2L434.5 843.8M422.2 845.2L410.5 847.2M386.1 851.3L398.2 846.6M386.1 851.3L373.9 850.8M368.0 854.4L369.1 866.2M368.0 854.4L367.3 842.0M331.9 860.4L343.3 855.3M313.9 863.5L312.5 876.2M313.9 863.5L316.1 851.6M295.8 866.5L282.8 868.4M295.8 866.5L297.6 879.5M259.8 872.6L259.3 884.6M607.0 832.6L619.3 834.9M534.5 844.7L522.3 842.0M516.4 847.8L519.6 859.3M516.4 847.8L513.9 835.3M498.3 850.8L501.4 862.2M444.0 859.9L457.0 859.1M444.0 859.9L432.3 860.7M299.7 884.2L310.8 878.9M281.7 887.3L272.8 896.4M281.7 887.3L288.4 897.4M209.8 899.4L206.3 911.3M701.2 835.1L688.7 834.2M646.8 844.2L659.2 848.6M646.8 844.2L634.5 840.4M628.6 847.3L640.1 851.1M628.6 847.3L616.8 842.7M538.1 862.5L542.0 873.5M483.8 871.6L495.8 869.4M483.8 871.6L486.9 883.0M411.6 883.7L399.6 885.8M375.6 889.8L377.2 901.8M375.6 889.8L373.7 877.5M339.6 895.9L340.7 907.5M559.7 877.1L547.1 875.5M505.5 886.3L518.5 886.0M505.5 886.3L492.6 885.5M433.4 898.4L446.3 896.7M379.4 907.5L381.2 919.1M361.4 910.6L361.7 923.5M361.4 910.6L357.9 898.1M343.4 913.6L354.3 908.0M271.5 925.8L284.7 924.6M217.7 934.9L212.3 945.7M744.2 864.5L757.1 862.4M707.9 870.5L720.6 869.9M707.9 870.5L695.4 871.1M617.5 885.8L628.8 888.5M617.5 885.8L606.0 882.9M599.4 888.8L612.3 890.9M527.2 901.0L539.3 899.5M527.2 901.0L514.5 902.0M491.1 907.0L492.7 919.6M491.1 907.0L489.3 894.4M419.1 919.2L431.8 916.3M257.5 946.5L268.2 940.8M257.5 946.5L244.4 947.7M566.8 912.6L579.9 912.2M566.8 912.6L554.7 913.6M548.8 915.6L536.4 915.0M548.8 915.6L553.8 927.8M548.8 915.6L545.8 903.2M476.8 927.8L464.1 929.7M458.8 930.8L462.1 943.3M369.0 946.0L372.6 958.7M225.6 970.4L213.1 971.3M207.8 973.4L220.3 969.3M732.7 903.0L745.5 900.8M732.7 903.0L720.6 905.1M714.6 906.0L726.6 903.9M696.6 909.1L708.9 909.4M588.4 927.3L575.5 927.0M570.3 930.3L583.0 929.8M534.3 936.4L537.2 947.8M534.3 936.4L532.4 924.8M480.4 945.5L484.4 956.7M426.5 954.6L414.6 957.8M408.6 957.7L421.0 955.7M390.7 960.7L403.3 956.6M390.7 960.7L378.7 965.1M336.9 969.9L324.6 972.2M301.1 975.9L288.1 976.9M265.3 982.0L277.6 977.4M736.1 920.7L748.9 919.8M681.9 929.8L686.5 940.8M681.9 929.8L677.1 917.8M520.0 957.2L532.4 955.9M448.2 969.3L460.0 967.4M448.2 969.3L435.8 972.2M376.5 981.5L363.7 984.8M304.9 993.7L293.0 992.7M287.1 996.7L274.9 997.9M739.4 938.4L736.1 926.5M721.4 941.5L724.5 953.3M721.4 941.5L718.2 929.5M703.3 944.5L706.9 957.1M703.3 944.5L700.6 932.1M523.6 974.9L519.5 963.7M469.8 984.0L457.9 987.0M398.1 996.2L398.3 983.7M380.3 999.2L380.7 1011.4M344.5 1005.3L332.3 1007.2M308.8 1011.4L299.3 1019.8M308.8 1011.4L309.3 1023.7M760.7 953.1L758.7 941.1M724.7 959.2L728.5 971.1M366.2 1020.0L377.8 1015.8M312.6 1029.1L320.5 1037.9M746.0 973.9L749.8 986.3M746.0 973.9L743.4 962.1M405.6 1031.7L417.6 1028.3M316.5 1046.8L328.0 1042.3M480.7 1037.2L468.8 1039.8M427.2 1046.3L438.9 1044.1M427.2 1046.3L415.5 1048.8M409.3 1049.4L421.8 1047.1M409.3 1049.4L396.3 1050.9M373.7 1055.5L385.0 1052.1M373.7 1055.5L361.9 1058.5M448.7 1061.0L460.7 1058.6M341.9 1079.3L353.2 1076.3M235.3 1097.5L246.9 1093.2M470.2 1075.7L482.0 1072.1M470.2 1075.7L459.3 1081.1M452.4 1078.8L440.4 1079.1M416.8 1084.8L428.3 1081.0M416.8 1084.8L404.7 1088.0M256.9 1112.2L269.4 1107.7M221.4 1118.3L234.3 1115.0M203.7 1121.3L215.3 1117.0M402.7 1105.6L414.6 1103.1M402.7 1105.6L390.7 1106.5M313.9 1120.8L302.1 1122.7M424.1 1120.3L411.7 1123.2M370.9 1129.4L382.6 1126.0M317.7 1138.5L329.2 1132.4M317.7 1138.5L304.6 1140.2M427.8 1138.0L439.2 1133.7M410.1 1141.1L398.0 1143.3M392.4 1144.1L404.5 1139.7M356.9 1150.2L369.1 1147.3M449.2 1152.7L437.6 1156.1M413.8 1158.8L424.7 1153.9M417.5 1176.5L428.7 1172.4M417.5 1176.5L404.7 1179.3M491.9 1182.1L479.5 1185.0M530.9 1193.8L518.5 1194.7M424.8 1212.0L436.6 1208.2M424.8 1212.0L411.9 1213.5M389.5 1218.1L377.7 1221.6M371.9 1221.1L381.8 1214.7M371.9 1221.1L359.2 1222.4"/>
<path stroke="#0048ff" d="M340.9 106.1L334.6 117.1M313.9 165.4L309.3 177.4M452.8 161.9L446.0 173.3M279.4 189.2L274.3 201.1M341.0 197.8L336.0 208.5M321.8 200.9L314.8 211.3M302.6 203.9L312.3 197.0M302.6 203.9L298.3 215.2M283.4 206.9L293.8 200.8M283.4 206.9L278.6 218.8M264.3 210.0L265.2 222.3M245.1 213.0L255.0 206.4M226.0 216.1L235.0 206.6M226.0 216.1L214.3 222.2M226.0 216.1L223.9 228.5M206.8 219.1L215.1 210.7M206.8 219.1L203.8 231.8M364.0 212.5L358.4 223.8M306.5 221.6L300.9 233.5M287.4 224.7L297.5 217.6M230.1 233.8L224.0 244.6M211.0 236.8L198.9 242.1M656.5 184.7L661.2 172.6M656.5 184.7L652.4 196.7M656.5 184.7L664.2 173.9M310.5 239.4L304.6 250.2M272.3 245.4L283.0 239.7M253.2 248.5L261.4 238.9M253.2 248.5L251.8 260.7M234.2 251.5L244.3 244.9M659.8 202.4L654.0 213.9M640.5 205.4L645.8 194.6M621.2 208.5L616.3 220.0M601.9 211.5L607.2 199.6M563.4 217.6L558.6 229.2M525.0 223.7L531.8 212.4M525.0 223.7L518.5 234.5M486.6 229.7L480.0 241.1M409.9 241.9L414.8 231.1M295.4 260.1L283.6 266.1M295.4 260.1L295.1 272.2M586.1 232.3L591.6 221.5M586.1 232.3L580.3 243.1M566.9 235.3L576.0 225.8M566.9 235.3L556.0 241.1M547.7 238.4L539.4 248.6M432.8 256.6L443.7 250.2M432.8 256.6L426.1 267.6M413.7 259.6L407.8 270.5M394.6 262.7L399.3 251.4M356.4 268.8L351.0 279.6M337.4 271.8L325.7 276.4M299.3 277.9L293.4 289.3M242.3 287.0L250.6 277.8M242.3 287.0L230.3 291.3M242.3 287.0L241.1 299.4M223.3 290.0L222.6 302.3M204.4 293.1L213.9 286.1M589.5 250.0L586.0 261.7M570.3 253.0L563.8 263.9M551.2 256.1L557.2 245.9M417.4 277.4L412.0 288.9M341.3 289.5L351.6 282.9M341.3 289.5L335.5 301.3M322.3 292.6L331.2 284.6M284.3 298.6L277.7 309.0M265.3 301.7L274.5 292.5M265.3 301.7L266.3 313.5M246.4 304.7L256.3 296.0M246.4 304.7L235.2 310.2M246.4 304.7L245.4 317.5M516.4 279.9L509.9 290.7M440.2 292.1L450.3 285.3M383.1 301.2L389.8 290.1M383.1 301.2L376.5 311.9M345.2 307.2L356.0 300.6M345.2 307.2L339.2 318.2M307.2 313.3L308.4 326.2M288.3 316.4L298.1 309.9M250.4 322.4L259.1 312.9M462.9 306.7L471.0 296.5M462.9 306.7L454.7 317.0M443.9 309.8L449.9 299.6M424.9 312.8L432.7 302.9M424.9 312.8L417.4 323.5M330.1 328.0L340.8 322.1M330.1 328.0L324.1 339.4M311.2 331.1L322.4 324.9M485.5 321.4L491.8 310.7M485.5 321.4L479.7 332.3M466.6 324.5L460.1 336.1M409.7 333.6L416.2 322.0M390.7 336.6L396.0 324.7M371.8 339.7L365.4 351.0M352.9 342.7L363.3 334.8M334.0 345.8L344.2 338.9M296.2 351.8L307.0 345.4M277.4 354.9L276.3 367.1M202.0 367.0L190.5 372.9M489.2 339.2L495.1 328.6M489.2 339.2L483.7 349.8M489.2 339.2L499.9 331.8M432.3 348.3L425.8 359.7M394.5 354.4L388.4 365.4M319.0 366.5L328.4 359.3M262.5 375.6L271.9 368.1M262.5 375.6L251.4 380.4M455.0 363.0L447.4 373.3M398.3 372.1L392.0 383.7M210.3 402.5L210.2 414.5M439.8 383.7L446.6 373.1M383.3 392.9L390.2 383.1M308.1 405.0L306.4 417.3M387.1 410.6L393.6 400.8M312.0 422.8L311.4 435.2M255.8 431.9L254.9 445.0M297.2 443.5L296.5 455.4M278.6 446.6L277.8 458.4M286.5 482.0L285.5 495.0M230.7 491.1L229.4 504.2M346.3 490.6L356.4 482.5M290.5 499.8L289.2 512.2M298.4 535.2L297.3 547.4M261.3 541.3L259.8 553.4M302.3 552.9L300.8 566.0M287.8 573.7L287.7 585.7M310.2 588.4L308.3 601.5M273.3 594.5L270.4 607.2M406.3 590.9L407.8 578.2M350.9 600.0L349.0 612.2M203.7 624.4L206.2 611.3M318.0 623.9L316.7 636.2M262.8 633.0L263.1 644.9M303.5 644.6L305.3 632.0M285.2 647.7L282.1 660.0M285.2 647.7L288.0 634.8M211.9 659.8L209.7 671.6M565.0 619.8L552.0 621.2M252.5 671.5L250.0 683.3M234.2 674.5L230.6 686.7M329.6 677.0L328.2 689.4M274.7 686.2L272.4 698.2M219.9 695.3L219.2 707.7M315.2 697.8L317.0 685.3M297.0 700.9L297.1 689.0M242.2 710.0L241.4 722.9M224.0 713.0L221.7 726.0M205.7 716.1L204.4 728.0M337.4 712.5L338.0 699.9M300.9 718.6L302.4 706.3M282.6 721.6L281.6 733.6M450.8 712.0L454.5 724.1M232.0 748.5L230.7 761.7M418.0 735.8L414.8 724.3M381.5 741.9L379.5 729.6M199.7 772.3L187.0 775.7M476.4 744.4L478.2 756.5M476.4 744.4L474.2 731.5M403.5 756.6L405.5 768.9M330.7 768.7L341.4 761.7M330.7 768.7L319.0 770.8M330.7 768.7L329.8 782.0M221.9 787.0L221.4 798.8M589.5 743.9L601.7 746.3M461.9 765.2L464.7 777.2M370.9 780.4L372.7 793.2M280.2 795.6L278.7 807.2M280.2 795.6L283.3 783.1M593.0 761.6L580.8 758.1M465.5 782.9L469.7 794.6M447.4 786.0L444.2 773.4M392.9 795.1L396.1 807.2M356.6 801.2L354.5 813.5M302.2 810.3L290.7 813.3M229.8 822.4L227.3 833.9M560.1 785.5L572.6 788.4M523.7 791.5L527.7 803.7M523.7 791.5L520.9 779.4M487.4 797.6L489.8 809.5M487.4 797.6L485.9 786.0M469.2 800.6L482.1 798.9M396.6 812.8L398.7 825.0M360.4 818.9L358.3 830.8M342.3 821.9L354.3 816.4M342.3 821.9L341.2 834.6M324.2 825.0L323.3 837.0M324.2 825.0L324.6 812.8M215.8 843.2L212.5 855.3M618.2 794.1L630.3 798.5M618.2 794.1L605.7 790.1M527.3 809.3L515.4 809.6M472.9 818.4L470.5 806.2M454.7 821.4L466.3 819.5M454.7 821.4L456.9 834.3M454.7 821.4L451.5 808.7M364.2 836.6L363.4 849.5M310.0 845.7L311.4 857.6M291.9 848.8L293.2 861.8M255.8 854.9L253.9 866.8M201.8 864.0L198.5 876.1M201.8 864.0L203.8 852.3M749.2 790.5L737.6 794.0M458.4 839.1L456.1 827.4M386.1 851.3L389.9 862.6M368.0 854.4L380.2 852.7M368.0 854.4L354.9 855.9M349.9 857.4L351.8 844.5M277.8 869.6L274.8 881.7M661.5 823.4L674.0 826.4M661.5 823.4L649.9 820.8M643.3 826.5L654.8 830.5M643.3 826.5L630.8 823.1M552.6 841.7L564.5 841.5M534.5 844.7L546.9 845.8M498.3 850.8L494.2 838.3M480.2 853.8L477.0 841.6M462.1 856.9L464.2 868.8M462.1 856.9L459.9 845.4M389.8 869.0L391.0 880.7M371.8 872.1L383.3 869.1M371.8 872.1L359.6 873.7M371.8 872.1L371.3 885.3M317.7 881.2L328.9 876.4M245.7 893.4L242.9 905.3M592.4 853.3L604.9 856.0M556.2 859.4L569.2 861.5M556.2 859.4L543.8 857.4M483.8 871.6L480.6 859.9M411.6 883.7L424.1 882.1M411.6 883.7L411.5 871.0M357.6 892.9L369.1 890.6M357.6 892.9L344.9 894.5M357.6 892.9L359.0 905.2M321.6 898.9L322.1 912.2M321.6 898.9L322.1 886.4M740.9 846.7L753.1 844.2M632.1 865.0L643.3 869.1M632.1 865.0L619.7 860.9M487.5 889.3L490.7 901.6M487.5 889.3L484.8 877.5M469.4 892.3L481.5 889.3M469.4 892.3L457.9 895.8M451.4 895.4L454.4 908.1M451.4 895.4L447.6 883.4M397.4 904.5L394.8 892.0M343.4 913.6L330.4 915.3M343.4 913.6L343.0 901.1M235.6 931.9L247.9 927.4M217.7 934.9L219.6 946.5M744.2 864.5L732.1 866.5M653.6 879.7L665.4 882.8M599.4 888.8L586.9 887.1M509.1 904.0L513.1 916.7M455.1 913.1L457.1 926.0M455.1 913.1L452.9 901.1M419.1 919.2L407.4 922.8M401.1 922.2L402.7 935.4M347.2 931.4L348.5 943.9M329.2 934.4L326.5 946.6M329.2 934.4L336.7 944.0M311.3 937.4L323.5 934.1M729.4 885.2L741.3 883.1M729.4 885.2L717.2 887.5M657.0 897.4L669.0 900.4M620.9 903.5L633.6 907.2M620.9 903.5L608.4 899.1M602.9 906.5L615.8 908.9M602.9 906.5L590.8 904.9M602.9 906.5L607.3 918.6M548.8 915.6L560.6 915.6M422.8 936.9L434.4 933.9M422.8 936.9L425.1 948.7M351.0 949.1L343.5 959.9M351.0 949.1L353.3 961.1M351.0 949.1L360.3 957.9M315.2 955.2L326.5 950.1M315.2 955.2L303.6 958.8M714.6 906.0L702.7 908.1M696.6 909.1L684.0 908.3M624.4 921.2L611.6 917.9M588.4 927.3L589.8 940.3M588.4 927.3L586.3 914.3M570.3 930.3L557.7 931.4M516.4 939.5L529.2 938.4M516.4 939.5L503.6 939.9M480.4 945.5L476.8 934.2M426.5 954.6L438.7 951.1M408.6 957.7L395.5 959.4M754.1 917.7L766.5 915.4M736.1 920.7L723.9 920.8M520.0 957.2L507.3 958.6M484.0 963.3L472.7 968.0M466.1 966.3L479.2 965.3M394.4 978.5L397.2 990.5M304.9 993.7L315.6 987.2M523.6 974.9L527.4 987.6M505.6 978.0L502.8 965.5M433.9 990.1L435.8 1003.1M416.0 993.2L428.5 989.7M416.0 993.2L403.6 996.7M398.1 996.2L399.8 1009.0M380.3 999.2L392.5 996.2M380.3 999.2L368.6 1004.2M308.8 1011.4L306.2 1023.0M308.8 1011.4L317.8 1020.6M706.7 962.2L711.3 973.6M509.2 995.7L502.5 984.4M366.2 1020.0L354.3 1025.5M312.6 1029.1L305.0 1038.5M800.0 964.8L802.5 976.3M800.0 964.8L797.7 953.2M710.1 980.0L713.5 992.7M710.1 980.0L706.7 967.7M459.2 1022.5L471.9 1019.0M441.3 1025.6L454.1 1023.5M441.3 1025.6L429.6 1027.4M423.5 1028.6L426.9 1040.8M387.8 1034.7L375.8 1036.6M298.6 1049.9L290.9 1059.3M245.2 1059.0L235.5 1066.2M516.4 1031.1L503.8 1034.0M391.5 1052.4L403.6 1049.5M430.9 1064.1L442.1 1061.0M430.9 1064.1L418.8 1067.5M306.3 1085.3L318.3 1079.6M306.3 1085.3L294.7 1088.6M577.1 1057.5L579.8 1068.9M577.1 1057.5L573.6 1044.9M505.8 1069.6L494.1 1072.1M399.0 1087.9L410.5 1084.8M399.0 1087.9L387.2 1092.3M399.0 1087.9L396.8 1074.8M402.7 1105.6L404.8 1117.3M349.4 1114.7L360.2 1109.5M513.0 1105.1L525.8 1103.2M477.4 1111.2L478.0 1123.9M477.4 1111.2L476.6 1099.0M441.9 1117.3L440.0 1105.3M424.1 1120.3L436.9 1117.0M370.9 1129.4L358.6 1131.9M300.0 1141.6L312.0 1137.3M427.8 1138.0L416.6 1142.6M410.1 1141.1L423.1 1138.7M392.4 1144.1L381.0 1149.0M467.0 1149.7L479.1 1146.6M449.2 1152.7L461.5 1150.2M431.5 1155.8L442.5 1151.4M413.8 1158.8L401.6 1160.1M396.1 1161.8L408.4 1158.6M360.7 1167.9L371.3 1162.6M360.7 1167.9L347.8 1171.1M488.3 1164.4L501.1 1161.1M452.9 1170.5L464.3 1166.0M435.2 1173.5L446.7 1169.9M509.6 1179.1L496.4 1179.7M350.5 1206.4L361.9 1201.3M332.9 1209.5L344.4 1205.5M332.9 1209.5L320.6 1212.4M530.9 1193.8L543.4 1191.4M495.5 1199.8L483.7 1202.2M442.5 1208.9L454.9 1206.1M442.5 1208.9L430.2 1212.8M389.5 1218.1L401.9 1213.4M516.8 1214.5L516.0 1201.4M499.1 1217.6L486.6 1221.3"/>
<path stroke="#0056ff" d="M321.5 109.2L316.8 121.2M282.7 115.3L293.1 107.9M263.3 118.3L272.4 110.3M263.3 118.3L252.0 123.2M224.6 124.4L213.1 129.6M402.9 114.8L398.3 126.4M306.0 129.9L317.3 123.6M248.0 139.1L247.5 151.2M445.5 126.4L439.6 136.9M368.0 138.6L361.1 149.6M348.6 141.6L338.1 149.7M329.3 144.6L338.0 136.3M290.7 150.7L285.3 161.7M232.9 159.8L241.1 150.1M232.9 159.8L221.8 164.4M213.6 162.9L222.6 154.8M213.6 162.9L212.3 176.0M449.1 144.1L443.0 155.3M352.5 159.3L345.8 170.8M333.2 162.4L343.2 156.0M333.2 162.4L329.1 174.2M256.2 174.5L255.0 187.3M217.7 180.6L225.9 171.6M217.7 180.6L208.5 188.3M298.6 186.2L307.5 177.2M221.9 198.3L231.8 191.5M202.7 201.4L213.4 195.2M591.8 158.3L585.5 168.7M495.0 173.5L501.8 162.6M437.2 182.6L432.0 193.6M379.4 191.8L372.2 202.6M402.4 206.4L396.4 216.7M344.9 215.6L337.9 226.0M306.5 221.6L317.1 215.4M249.2 230.8L260.8 225.0M230.1 233.8L239.5 226.1M211.0 236.8L209.4 248.7M656.5 184.7L649.6 194.3M637.2 187.7L646.2 178.8M617.8 190.7L622.2 179.0M617.8 190.7L613.3 203.0M598.5 193.8L603.0 182.0M598.5 193.8L593.1 205.4M598.5 193.8L607.1 184.5M598.5 193.8L590.5 203.0M579.2 196.8L568.0 200.4M502.2 209.0L497.0 220.1M444.5 218.1L450.1 207.7M406.2 224.2L417.0 218.2M406.2 224.2L400.3 234.4M367.9 230.2L377.9 222.9M348.7 233.3L355.7 222.2M348.7 233.3L341.9 244.0M329.6 236.3L339.5 230.0M310.5 239.4L321.7 232.7M659.8 202.4L664.8 191.0M563.4 217.6L568.2 206.7M505.8 226.7L511.3 215.2M486.6 229.7L492.5 219.6M448.2 235.8L442.2 246.5M409.9 241.9L404.4 253.5M390.8 244.9L401.6 238.7M371.7 248.0L382.2 241.4M371.7 248.0L366.7 258.8M352.6 251.0L361.8 242.9M314.4 257.1L312.9 269.2M295.4 260.1L303.0 250.2M276.3 263.2L286.4 256.7M276.3 263.2L269.1 274.2M200.2 275.3L210.9 269.3M200.2 275.3L196.7 286.6M566.9 235.3L564.5 248.1M528.5 241.4L533.8 230.8M528.5 241.4L522.9 251.7M375.5 265.7L368.3 275.6M337.4 271.8L346.7 263.6M299.3 277.9L309.4 270.3M223.3 290.0L230.9 280.1M570.3 253.0L577.4 241.9M551.2 256.1L545.6 266.9M532.0 259.1L538.3 247.6M532.0 259.1L526.1 270.4M512.9 262.2L518.0 250.8M512.9 262.2L508.0 273.1M493.8 265.2L499.7 254.5M474.7 268.2L468.0 278.4M455.6 271.3L449.2 281.5M436.5 274.3L442.0 263.6M379.3 283.4L389.9 276.6M360.3 286.5L369.6 278.4M284.3 298.6L294.8 292.5M516.4 279.9L523.2 268.8M402.1 298.1L409.0 287.4M402.1 298.1L395.2 308.2M364.1 304.2L374.2 297.8M288.3 316.4L282.1 327.1M269.4 319.4L280.6 313.6M269.4 319.4L265.3 330.7M250.4 322.4L248.5 335.0M405.9 315.9L398.3 326.0M428.6 330.5L434.8 319.7M428.6 330.5L422.3 341.0M371.8 339.7L378.2 328.4M202.0 367.0L200.2 378.8M432.3 348.3L441.8 341.0M356.8 360.4L345.6 364.5M237.1 434.9L236.6 447.0M208.0 476.5L207.4 488.8M249.3 488.1L247.0 501.0M253.3 505.8L254.5 517.7M257.3 523.6L254.9 535.4M201.7 532.7L201.3 545.4M354.0 526.1L350.3 538.0M339.3 546.9L339.7 559.1M406.3 590.9L405.2 603.5M277.2 612.2L278.0 624.7M565.0 619.8L576.8 617.1M293.0 683.1L292.2 695.7M224.0 713.0L225.1 699.8M205.7 716.1L206.8 703.8M410.5 700.4L412.5 712.4M410.5 700.4L408.6 688.6M282.6 721.6L283.5 709.8M450.8 712.0L446.8 700.3M236.0 766.2L238.5 753.2M589.5 743.9L577.2 741.5M443.6 768.2L445.0 781.2M443.6 768.2L441.2 756.6M244.0 801.7L241.5 814.1M593.0 761.6L605.1 765.2M447.4 786.0L459.5 782.8M447.4 786.0L449.7 798.7M320.3 807.2L319.3 819.4M211.8 825.5L213.0 838.7M560.1 785.5L547.6 783.7M505.5 794.6L518.5 795.7M505.5 794.6L493.1 793.4M505.5 794.6L508.4 806.7M505.5 794.6L503.4 782.9M432.9 806.7L436.4 818.3M432.9 806.7L430.4 793.8M251.9 837.1L249.7 848.7M709.4 778.9L697.3 780.3M527.3 809.3L540.0 808.1M509.2 812.3L521.4 813.3M509.2 812.3L496.6 811.6M472.9 818.4L475.4 830.8M454.7 821.4L441.9 823.1M273.9 851.8L275.3 864.1M219.8 860.9L219.7 872.8M749.2 790.5L760.5 787.3M512.8 830.0L524.8 828.9M458.4 839.1L461.0 851.9M440.3 842.2L442.4 854.4M422.2 845.2L419.4 833.7M349.9 857.4L349.7 869.8M331.9 860.4L320.3 862.2M331.9 860.4L329.4 872.1M205.8 881.7L202.7 893.0M588.9 835.6L575.6 836.5M552.6 841.7L540.5 841.3M480.2 853.8L483.5 865.7M444.0 859.9L446.2 872.5M444.0 859.9L441.5 847.6M426.0 863.0L428.2 874.5M353.8 875.1L358.1 886.2M335.7 878.2L324.0 876.9M335.7 878.2L336.7 890.4M335.7 878.2L334.4 865.6M317.7 881.2L305.8 883.3M281.7 887.3L277.8 898.8M263.7 890.3L265.2 902.2M209.8 899.4L210.5 887.4M683.1 838.1L696.0 839.9M683.1 838.1L670.3 835.5M664.9 841.2L677.1 843.5M592.4 853.3L580.1 850.5M501.9 868.5L499.3 856.6M465.8 874.6L469.6 887.3M465.8 874.6L462.0 862.2M429.7 880.7L432.0 893.2M303.6 902.0L311.1 911.5M249.7 911.1L249.5 923.9M740.9 846.7L728.8 849.4M559.7 877.1L565.2 888.7M541.6 880.2L554.7 880.7M541.6 880.2L529.4 879.6M541.6 880.2L544.7 892.6M487.5 889.3L500.0 887.7M487.5 889.3L475.5 891.0M433.4 898.4L420.6 897.6M433.4 898.4L436.3 910.5M397.4 904.5L409.3 902.0M397.4 904.5L385.5 906.4M397.4 904.5L399.5 916.8M325.4 916.7L323.7 929.3M307.4 919.7L307.3 932.5M780.5 858.4L767.9 861.7M635.5 882.7L646.6 886.5M635.5 882.7L623.3 878.1M581.3 891.8L586.1 903.6M563.3 894.9L576.0 893.4M563.3 894.9L550.9 895.8M563.3 894.9L569.0 906.3M563.3 894.9L558.1 883.8M509.1 904.0L506.3 892.0M473.1 910.1L477.2 921.4M473.1 910.1L468.1 898.8M455.1 913.1L467.4 910.8M383.1 925.3L385.1 937.2M383.1 925.3L380.7 913.7M221.7 952.6L232.5 947.5M221.7 952.6L209.1 956.8M639.0 900.4L626.9 896.5M602.9 906.5L599.8 894.0M512.8 921.7L516.1 933.5M512.8 921.7L508.7 909.2M476.8 927.8L488.5 926.0M422.8 936.9L410.0 939.5M422.8 936.9L421.1 923.7M243.5 967.3L231.6 970.1M787.0 893.9L798.7 890.9M787.0 893.9L775.6 897.7M678.5 912.1L691.2 913.3M678.5 912.1L666.7 910.8M606.4 924.2L618.8 926.0M606.4 924.2L593.9 922.7M552.3 933.4L565.5 933.4M552.3 933.4L540.1 933.8M516.4 939.5L513.4 926.5M444.5 951.6L441.6 938.7M426.5 954.6L428.2 966.2M390.7 960.7L394.2 973.5M390.7 960.7L387.9 949.3M319.0 972.9L327.1 983.3M790.3 911.6L803.1 909.5M790.3 911.6L778.3 914.0M754.1 917.7L741.8 918.8M663.9 932.9L669.3 944.1M555.9 951.1L568.9 950.0M537.9 954.1L525.9 954.3M484.0 963.3L496.4 959.7M484.0 963.3L488.6 975.1M484.0 963.3L480.0 951.0M466.1 966.3L453.8 967.2M448.2 969.3L449.3 981.6M412.3 975.4L415.9 987.6M394.4 978.5L406.3 976.1M394.4 978.5L382.5 979.5M739.4 938.4L751.4 937.6M739.4 938.4L726.8 939.1M595.4 962.8L591.7 950.9M559.4 968.8L563.5 981.3M541.5 971.9L528.6 974.9M523.6 974.9L536.3 973.0M523.6 974.9L511.7 976.3M505.6 978.0L518.0 976.4M505.6 978.0L509.1 990.7M487.7 981.0L491.3 993.8M487.7 981.0L484.5 969.0M469.8 984.0L472.5 996.8M469.8 984.0L468.0 971.5M451.8 987.1L463.9 983.7M451.8 987.1L455.5 999.1M451.8 987.1L449.8 974.5M742.7 956.2L738.9 944.1M706.7 962.2L701.6 950.7M509.2 995.7L513.6 1007.5M491.3 998.7L503.4 997.6M491.3 998.7L479.3 998.4M473.4 1001.8L472.0 988.6M455.5 1004.8L467.4 1002.4M455.5 1004.8L443.1 1006.7M494.9 1016.4L497.3 1028.6M494.9 1016.4L493.2 1004.5M477.1 1019.5L480.1 1032.0M477.1 1019.5L474.4 1006.6M459.2 1022.5L446.1 1024.7M387.8 1034.7L400.6 1031.7M352.1 1040.8L354.0 1052.6M516.4 1031.1L528.3 1029.6M445.0 1043.3L445.7 1056.5M391.5 1052.4L379.4 1054.8M320.3 1064.6L312.7 1074.8M320.3 1064.6L327.2 1075.9M520.0 1048.9L532.4 1047.7M520.0 1048.9L507.5 1048.4M484.3 1055.0L472.6 1057.8M466.5 1058.0L479.0 1055.2M466.5 1058.0L454.5 1061.0M448.7 1061.0L444.9 1048.8M377.4 1073.2L379.3 1085.7M377.4 1073.2L375.4 1061.2M306.3 1085.3L304.1 1098.2M288.5 1088.4L295.7 1099.3M541.5 1063.6L554.1 1061.8M541.5 1063.6L529.6 1064.9M523.6 1066.6L536.5 1066.1M505.8 1069.6L517.5 1068.1M488.0 1072.7L491.3 1084.8M452.4 1078.8L465.2 1078.2M434.5 1081.8L446.6 1078.9M434.5 1081.8L423.0 1085.5M509.4 1087.4L522.0 1085.3M509.4 1087.4L496.7 1088.2M349.4 1114.7L337.3 1115.5M513.0 1105.1L500.9 1108.2M495.2 1108.1L507.3 1104.4M495.2 1108.1L483.7 1112.7M441.9 1117.3L444.1 1129.6M520.2 1140.6L531.9 1139.1M520.2 1140.6L508.3 1142.5M484.7 1146.6L487.3 1159.4M484.7 1146.6L482.1 1134.2M467.0 1149.7L454.9 1151.1M396.1 1161.8L383.8 1163.2M577.0 1149.2L564.0 1149.9M541.5 1155.3L528.8 1157.1M452.9 1170.5L440.9 1174.2M417.5 1176.5L420.6 1188.5M276.1 1200.9L287.7 1195.8M276.1 1200.9L264.4 1203.2M223.2 1210.0L214.8 1218.6M527.3 1176.0L539.4 1172.8M527.3 1176.0L515.8 1178.9M509.6 1179.1L522.9 1178.2M474.2 1185.1L485.9 1183.5M474.2 1185.1L461.4 1188.1M495.5 1199.8L491.8 1188.7M477.9 1202.9L489.9 1200.9M460.2 1205.9L471.8 1203.7M460.2 1205.9L448.7 1208.3M569.9 1205.4L582.5 1204.0M569.9 1205.4L557.9 1206.4M552.2 1208.4L565.4 1209.1M552.2 1208.4L539.3 1208.5M534.5 1211.5L546.7 1209.4M534.5 1211.5L522.4 1213.4M516.8 1214.5L518.9 1227.4M499.1 1217.6L511.9 1214.0"/>
<path stroke="#006400" d="M624.5 226.2L629.6 214.3M627.9 243.9L633.0 233.2M627.9 243.9L622.8 254.8M650.4 258.6L645.2 270.8M631.2 261.6L636.6 250.9M631.2 261.6L625.6 272.8M612.0 264.7L616.9 253.0M612.0 264.7L607.4 275.5M653.7 276.3L659.3 265.0M634.5 279.4L638.9 268.0M615.4 282.4L626.6 278.8M577.2 288.5L583.4 278.4M577.2 288.5L570.7 299.3M580.7 306.2L575.8 317.9M584.1 324.0L588.8 312.3M584.1 324.0L579.7 335.7M224.9 381.7L234.1 373.6M224.9 381.7L212.4 385.7M206.1 384.8L214.4 376.1M568.6 344.7L574.9 334.7M549.6 347.8L555.5 337.6M549.6 347.8L543.9 358.8M285.3 390.3L274.4 394.8M229.0 399.5L224.0 410.3M572.0 362.5L565.1 373.8M534.2 368.5L540.4 357.3M534.2 368.5L527.8 379.3M270.6 411.1L280.0 402.3M251.8 414.1L262.5 407.4M233.1 417.2L226.9 428.1M368.3 413.6L377.7 405.7M368.3 413.6L361.9 423.9M349.5 416.7L343.8 428.2M274.6 428.8L285.1 422.2M255.8 431.9L265.6 423.1M255.8 431.9L245.0 437.4M237.1 434.9L246.5 425.9M541.3 404.0L534.8 414.9M466.0 416.2L471.8 405.0M372.1 431.4L367.0 441.9M315.9 440.5L325.8 433.2M297.2 443.5L286.6 448.5M241.2 452.6L250.5 445.1M241.2 452.6L228.9 456.9M203.9 458.7L213.9 451.6M203.9 458.7L191.9 463.5M544.8 421.7L550.5 410.0M432.1 440.0L425.8 450.0M338.5 455.2L333.8 466.9M282.5 464.3L291.8 454.9M245.2 470.4L255.7 462.9M245.2 470.4L234.2 476.2M454.6 454.7L448.8 465.1M342.4 472.9L347.0 461.8M342.4 472.9L337.8 484.8M305.1 479.0L315.9 472.3M458.2 472.4L464.1 461.2M439.6 475.4L449.0 468.2M420.9 478.5L414.3 489.8M383.6 484.6L392.3 476.6M383.6 484.6L372.1 490.0M327.7 493.7L316.4 496.8M518.0 481.0L511.1 491.1M480.6 487.1L486.9 476.6M461.9 490.1L454.8 500.4M443.3 493.2L450.9 482.3M443.3 493.2L436.7 503.3M424.6 496.2L418.5 507.5M387.4 502.3L393.0 491.1M331.6 511.4L342.3 503.7M331.6 511.4L319.7 514.7M294.4 517.5L288.7 527.9M521.5 498.7L515.4 508.8M409.8 517.0L421.1 511.2M409.8 517.0L402.5 527.1M391.2 520.0L400.4 511.9M391.2 520.0L379.8 524.2M372.6 523.0L384.3 518.4M354.0 526.1L364.6 519.0M354.0 526.1L342.3 528.4M335.5 529.1L323.0 532.6M316.9 532.2L327.2 526.2M242.8 544.3L253.1 538.4M205.8 550.4L216.3 544.4M487.9 522.5L497.1 514.1M487.9 522.5L476.6 526.3M450.7 528.6L462.2 522.5M395.0 537.7L406.1 531.4M376.4 540.8L387.4 536.2M376.4 540.8L369.8 551.3M302.3 552.9L313.5 546.8M302.3 552.9L290.3 555.0M228.4 565.1L238.8 559.4M435.8 549.4L442.7 538.2M435.8 549.4L429.0 560.3M306.2 570.7L293.4 572.3M287.8 573.7L275.8 577.9M347.1 582.3L357.7 575.8M310.2 588.4L319.6 581.4M310.2 588.4L298.3 590.7M199.6 606.6L187.8 608.5M443.3 584.9L455.0 580.8M350.9 600.0L339.5 603.4M332.5 603.1L344.3 598.4M277.2 612.2L266.1 615.9M258.9 615.2L269.0 608.8M203.7 624.4L191.5 628.7M502.4 593.5L513.4 589.2M410.1 608.7L421.1 603.0M410.1 608.7L398.1 611.8M391.6 611.7L402.4 606.4M391.6 611.7L381.1 617.3M281.2 629.9L292.5 623.5M262.8 633.0L250.5 636.6M244.5 636.0L255.3 630.2M579.9 599.0L591.7 594.5M579.9 599.0L568.6 604.7M432.2 623.4L443.8 617.2M432.2 623.4L427.8 634.6M432.2 623.4L432.4 610.7M413.8 626.4L401.7 626.6M395.4 629.4L406.3 622.8M377.0 632.5L376.8 645.1M377.0 632.5L380.0 620.7M340.2 638.6L350.3 632.0M285.2 647.7L296.0 642.0M266.8 650.7L278.0 645.0M546.5 622.8L558.5 619.2M546.5 622.8L534.3 625.2M494.8 649.7L482.3 652.1M439.7 658.8L428.2 662.7M421.3 661.8L420.0 673.5M366.3 671.0L354.6 675.4M348.0 674.0L360.8 670.6M461.7 673.5L461.9 686.4M425.0 679.6L437.4 676.2M425.0 679.6L414.2 684.6M388.4 685.7L376.2 685.4M370.1 688.7L358.5 692.9M351.8 691.7L339.3 694.4M333.5 694.8L344.1 689.0M520.4 682.1L532.5 679.8M447.1 694.3L460.0 692.1M447.1 694.3L435.1 696.5M505.7 702.9L494.0 705.8M487.4 705.9L499.2 704.7M487.4 705.9L475.3 706.6M487.4 705.9L490.2 718.8M487.4 705.9L485.2 693.7M469.1 709.0L480.7 706.3M450.8 712.0L438.9 716.6M414.2 718.1L401.5 719.8M377.7 724.2L378.5 737.3M359.5 727.2L371.2 723.8M359.5 727.2L358.8 740.2M359.5 727.2L359.4 714.0M341.2 730.2L352.2 725.3M600.9 705.4L589.2 703.9M491.0 723.7L489.4 711.4M454.5 729.7L450.7 717.8M399.7 738.9L387.5 740.9M345.1 748.0L357.2 744.5M345.1 748.0L345.1 760.3M217.8 769.2L206.3 775.5M512.9 738.3L500.1 738.9M494.7 741.4L507.1 739.2M403.5 756.6L416.5 754.5M348.9 765.7L361.2 761.7M348.9 765.7L337.0 769.6M312.6 771.8L323.2 766.8M312.6 771.8L299.8 773.8M276.3 777.9L264.1 780.3M240.0 783.9L229.4 789.2M498.3 759.1L494.8 747.6M370.9 780.4L382.4 776.3M370.9 780.4L358.9 785.9M280.2 795.6L268.7 798.2M262.1 798.6L273.9 793.8M225.9 804.7L214.2 807.9M501.9 776.8L489.1 778.3M374.7 798.1L386.4 794.2M374.7 798.1L362.2 802.0M320.3 807.2L331.4 802.2M320.3 807.2L308.1 808.6M651.2 770.2L638.8 767.4M487.4 797.6L474.6 797.7M360.4 818.9L347.4 821.8M306.1 828.0L317.2 821.2M306.1 828.0L294.2 832.1M545.5 806.2L539.8 795.4M346.1 839.7L333.6 841.8M273.9 851.8L261.2 854.7M219.8 860.9L207.8 865.2M567.2 820.9L572.5 832.3M549.0 824.0L553.7 835.8M530.9 827.0L543.5 828.2M530.9 827.0L527.4 815.6M512.8 830.0L516.9 841.8M349.9 857.4L362.7 854.8M349.9 857.4L337.4 860.0M277.8 869.6L288.8 863.6M205.8 881.7L214.3 872.5M716.0 814.3L728.6 812.9M716.0 814.3L703.6 815.5M516.4 847.8L529.5 849.3M516.4 847.8L503.8 847.3M353.8 875.1L342.0 876.2M263.7 890.3L273.3 881.9M263.7 890.3L251.5 893.5M245.7 893.4L255.9 885.9M227.7 896.4L236.7 888.8M209.8 899.4L220.1 892.7M719.4 832.1L707.3 833.7M556.2 859.4L552.3 848.3M465.8 874.6L477.6 873.0M393.6 886.8L405.9 881.8M249.7 911.1L260.3 904.5M759.0 843.7L772.0 842.1M686.4 855.9L674.3 855.0M668.3 858.9L656.0 856.4M595.9 871.1L601.4 881.5M325.4 916.7L336.1 911.5M289.5 922.7L301.0 916.5M726.1 867.5L714.2 870.0M473.1 910.1L485.0 907.7M203.8 955.7L214.6 949.7M494.7 924.8L482.5 927.5M261.4 964.3L273.4 960.5M696.6 909.1L700.4 920.5M696.6 909.1L692.4 897.5M372.7 963.8L384.4 960.7M354.8 966.8L367.0 963.9M354.8 966.8L343.0 969.6M247.4 985.1L258.5 981.2M247.4 985.1L235.0 986.3M772.2 914.6L775.5 927.1M718.0 923.7L721.1 936.6M358.6 984.5L345.6 986.2M793.5 929.3L796.0 940.8M793.5 929.3L791.0 917.1M775.5 932.4L772.2 919.6M326.6 1008.4L339.3 1004.7M302.5 1067.6L314.7 1064.3M377.4 1073.2L389.2 1069.8M377.4 1073.2L366.0 1076.7M307.6 1177.0L295.4 1178.9"/>
<path stroke="#0065ff" d="M239.9 103.6L248.7 94.6M239.9 103.6L229.2 108.6M239.9 103.6L238.2 115.9M220.5 106.7L229.7 97.2M220.5 106.7L209.5 114.1M201.2 109.7L199.5 122.4M340.9 106.1L351.1 98.9M302.1 112.2L296.8 122.8M224.6 124.4L233.0 115.6M224.6 124.4L224.4 136.6M441.8 108.7L448.0 97.8M441.8 108.7L435.6 120.4M383.5 117.8L377.6 129.7M286.7 133.0L285.8 145.9M267.4 136.0L261.4 147.9M228.7 142.1L223.5 154.2M406.7 132.5L401.8 144.0M387.3 135.5L381.6 146.7M348.6 141.6L349.7 154.6M329.3 144.6L318.3 149.4M310.0 147.7L309.0 160.4M290.7 150.7L300.8 143.7M271.4 153.8L282.6 147.0M271.4 153.8L265.7 165.4M252.1 156.8L260.1 146.4M213.6 162.9L201.8 168.7M429.8 147.2L424.3 157.9M371.8 156.3L364.9 166.8M313.9 165.4L324.7 157.8M294.7 168.4L305.6 161.5M275.4 171.5L264.4 176.6M275.4 171.5L273.8 184.4M256.2 174.5L265.2 165.4M256.2 174.5L246.6 182.5M236.9 177.6L247.2 170.4M236.9 177.6L231.0 188.3M217.7 180.6L215.7 193.4M198.5 183.7L193.0 195.0M452.8 161.9L462.2 153.4M394.9 171.0L404.8 163.1M375.6 174.0L386.5 168.3M356.3 177.1L361.9 166.1M356.3 177.1L350.5 187.4M317.8 183.1L328.6 177.0M317.8 183.1L313.2 194.1M298.6 186.2L288.1 191.7M298.6 186.2L295.4 198.5M279.4 189.2L289.2 182.4M241.0 195.3L250.8 187.1M241.0 195.3L229.3 199.4M221.9 198.3L216.3 208.7M611.2 155.3L620.2 145.9M591.8 158.3L597.5 147.7M495.0 173.5L488.6 183.8M398.6 188.7L408.4 181.8M379.4 191.8L389.6 184.2M341.0 197.8L351.5 191.9M321.8 200.9L332.7 194.6M264.3 210.0L273.5 200.5M264.3 210.0L252.7 215.9M653.2 166.9L655.8 154.5M653.2 166.9L650.7 178.8M653.2 166.9L646.3 177.8M537.2 185.2L543.3 174.1M479.4 194.3L484.9 183.6M479.4 194.3L474.5 205.1M460.1 197.3L465.8 186.6M460.1 197.3L454.4 207.8M383.2 209.5L392.9 201.7M383.2 209.5L376.7 220.5M364.0 212.5L374.8 206.2M344.9 215.6L355.4 208.6M637.2 187.7L640.3 175.1M637.2 187.7L634.6 199.5M579.2 196.8L588.6 188.8M540.7 202.9L530.8 211.4M502.2 209.0L509.0 197.6M387.0 227.2L381.1 237.6M544.2 220.6L553.7 213.6M505.8 226.7L501.0 238.1M467.4 232.8L473.1 221.2M467.4 232.8L462.1 243.4M448.2 235.8L459.0 229.1M429.1 238.9L438.9 231.3M333.5 254.1L345.1 247.8M333.5 254.1L326.8 263.9M509.3 244.4L516.6 233.5M509.3 244.4L502.3 255.0M490.2 247.5L496.8 237.8M490.2 247.5L483.7 257.2M471.0 250.5L476.3 239.9M451.9 253.6L458.2 242.1M413.7 259.6L423.5 252.6M375.5 265.7L386.3 258.9M356.4 268.8L366.0 261.6M318.4 274.8L328.9 267.0M318.4 274.8L312.1 285.6M261.3 284.0L260.0 296.4M223.3 290.0L210.7 294.2M493.8 265.2L487.8 276.5M474.7 268.2L481.3 257.7M455.6 271.3L462.4 260.3M436.5 274.3L430.9 286.3M417.4 277.4L427.8 270.3M303.3 295.6L313.0 288.6M303.3 295.6L297.4 306.9M459.2 289.0L469.3 282.8M421.2 295.1L427.6 284.5M421.2 295.1L414.5 305.0M405.9 315.9L412.9 306.0M240.5 618.3L239.2 630.1M199.7 772.3L197.1 785.0M389.1 777.4L390.4 789.4M447.4 786.0L435.2 788.9M709.4 778.9L721.4 778.2M476.5 836.1L479.3 848.6M476.5 836.1L475.3 824.4M440.3 842.2L437.6 829.8M422.2 845.2L424.0 857.9M404.1 848.3L407.7 859.5M404.1 848.3L398.6 837.4M588.9 835.6L601.1 838.0M335.7 878.2L346.0 872.3M317.7 881.2L315.3 893.5M299.7 884.2L300.8 896.2M664.9 841.2L652.4 839.0M501.9 868.5L505.4 880.5M393.6 886.8L395.9 899.3M375.6 889.8L388.2 887.0M303.6 902.0L296.6 912.0M267.6 908.1L268.4 921.2M231.7 914.1L222.5 923.1M231.7 914.1L226.1 925.2M559.7 877.1L554.8 866.2M541.6 880.2L537.2 868.1M415.4 901.5L427.3 901.3M415.4 901.5L402.1 901.9M415.4 901.5L418.4 913.4M415.4 901.5L412.1 888.6M343.4 913.6L344.2 925.9M289.5 922.7L290.3 935.9M235.6 931.9L227.3 942.0M780.5 858.4L792.1 856.4M762.3 861.4L775.5 859.7M581.3 891.8L575.6 880.8M455.1 913.1L443.0 914.0M311.3 937.4L312.6 949.3M275.4 943.5L282.6 954.3M257.5 946.5L258.6 959.7M711.3 888.3L723.1 887.2M711.3 888.3L699.7 889.7M675.1 894.4L687.1 895.4M675.1 894.4L662.6 893.9M639.0 900.4L651.1 904.8M566.8 912.6L571.0 924.5M566.8 912.6L563.0 900.8M530.8 918.7L518.6 918.6M494.7 924.8L498.4 936.9M440.8 933.9L437.1 922.4M404.9 940.0L407.7 952.4M404.9 940.0L402.9 928.4M386.9 943.0L388.7 955.6M386.9 943.0L383.5 930.4M297.2 958.2L297.6 970.5M261.4 964.3L262.9 976.1M243.5 967.3L255.0 961.9M660.5 915.1L672.9 917.6M660.5 915.1L648.9 912.9M642.4 918.2L647.3 930.5M642.4 918.2L638.2 905.9M624.4 921.2L636.4 924.3M624.4 921.2L629.0 932.1M624.4 921.2L620.3 910.2M606.4 924.2L600.7 913.0M552.3 933.4L555.9 945.3M534.3 936.4L546.3 935.3M534.3 936.4L521.3 937.4M516.4 939.5L519.9 951.4M444.5 951.6L447.2 963.9M408.6 957.7L410.6 970.8M372.7 963.8L373.9 977.0M354.8 966.8L354.5 978.8M319.0 972.9L311.5 983.2M319.0 972.9L315.4 984.2M301.1 975.9L300.7 987.9M283.2 979.0L293.9 973.3M265.3 982.0L260.5 992.8M663.9 932.9L658.2 921.2M573.9 948.1L587.0 945.9M537.9 954.1L535.3 941.2M520.0 957.2L517.7 944.9M502.0 960.2L505.8 971.7M502.0 960.2L498.3 948.0M466.1 966.3L469.1 978.6M466.1 966.3L462.4 954.0M448.2 969.3L446.6 956.3M358.6 984.5L358.4 996.7M358.6 984.5L358.3 972.6M322.8 990.6L315.4 1000.8M322.8 990.6L323.1 1003.3M322.8 990.6L330.9 999.8M269.2 999.7L264.8 1010.7M215.7 1008.9L206.2 1017.4M215.7 1008.9L216.7 1022.0M793.5 929.3L781.1 931.3M685.3 947.6L689.3 959.5M685.3 947.6L681.6 936.3M631.3 956.7L636.4 968.5M595.4 962.8L599.6 974.0M559.4 968.8L554.1 957.1M541.5 971.9L553.4 969.4M433.9 990.1L446.0 988.0M433.9 990.1L422.0 992.3M344.5 1005.3L345.1 992.2M290.9 1014.4L289.1 1026.0M742.7 956.2L746.8 967.3M563.0 986.6L576.1 986.3M563.0 986.6L550.0 986.9M563.0 986.6L565.4 999.6M563.0 986.6L561.5 973.5M545.1 989.6L541.1 977.0M527.1 992.6L539.5 991.4M509.2 995.7L521.0 993.9M473.4 1001.8L475.6 1013.4M419.8 1010.9L430.9 1006.3M419.8 1010.9L408.8 1015.9M348.3 1023.0L340.6 1033.2M348.3 1023.0L351.4 1034.4M330.5 1026.1L329.6 1038.6M312.6 1029.1L315.1 1041.3M223.5 1044.3L217.1 1054.5M205.7 1047.4L196.9 1055.9M782.0 967.8L785.0 979.4M782.0 967.8L778.7 955.3M764.0 970.9L767.3 983.7M728.1 976.9L723.5 965.6M566.5 1004.3L568.5 1016.0M566.5 1004.3L563.8 992.6M512.8 1013.4L516.8 1025.2M494.9 1016.4L506.4 1013.5M441.3 1025.6L445.6 1037.5M441.3 1025.6L436.9 1013.7M405.6 1031.7L407.6 1044.0M334.3 1043.8L333.1 1057.0M245.2 1059.0L246.5 1071.3M245.2 1059.0L253.3 1068.4M749.4 991.6L752.5 1003.2M588.0 1019.0L575.7 1020.0M498.6 1034.2L511.0 1032.8M480.7 1037.2L478.7 1025.1M462.9 1040.3L474.3 1037.1M462.9 1040.3L450.3 1043.4M445.0 1043.3L457.4 1041.6M391.5 1052.4L393.3 1064.8M320.3 1064.6L317.0 1076.2M320.3 1064.6L321.9 1076.5M302.5 1067.6L302.9 1079.8M573.6 1039.8L570.8 1026.9M484.3 1055.0L495.7 1051.9M484.3 1055.0L480.1 1043.0M448.7 1061.0L450.7 1073.4M395.2 1070.2L397.7 1082.2M324.1 1082.3L332.7 1092.3M217.5 1100.5L208.7 1109.2M199.8 1103.6L196.7 1115.7M773.9 1024.0L770.7 1012.7M756.0 1027.1L752.1 1015.3M523.6 1066.6L511.3 1067.0M399.0 1087.9L400.9 1100.9M381.2 1090.9L379.0 1103.9M292.4 1106.1L292.3 1118.4M292.4 1106.1L300.2 1116.8M256.9 1112.2L259.4 1124.6M256.9 1112.2L266.6 1120.5M580.7 1075.2L592.3 1073.4M580.7 1075.2L568.1 1077.0M491.6 1090.4L480.5 1094.9M473.8 1093.5L486.1 1090.1M456.0 1096.5L468.7 1093.3M456.0 1096.5L443.2 1098.5M456.0 1096.5L458.1 1109.5M456.0 1096.5L451.7 1083.9M296.2 1123.9L293.0 1135.2M296.2 1123.9L303.9 1133.9M530.8 1102.1L543.7 1101.7M459.7 1114.2L472.1 1112.3M459.7 1114.2L446.9 1116.3M406.4 1123.3L408.1 1135.1M282.3 1144.6L274.0 1152.9M552.1 1116.8L550.0 1104.1M534.4 1119.8L532.8 1107.5M516.6 1122.8L504.2 1127.2M516.6 1122.8L522.0 1134.9M481.1 1128.9L492.7 1127.1M463.3 1132.0L463.5 1145.2M445.6 1135.0L447.4 1147.2M410.1 1141.1L411.7 1154.2M410.1 1141.1L408.4 1128.6M356.9 1150.2L358.6 1163.3M573.5 1131.4L561.4 1131.4M467.0 1149.7L469.2 1161.4M467.0 1149.7L464.2 1137.4M431.5 1155.8L418.7 1156.5M396.1 1161.8L391.3 1150.2M290.0 1180.1L280.7 1189.0M290.0 1180.1L298.4 1189.1M577.0 1149.2L590.1 1149.5M541.5 1155.3L553.9 1152.6M470.6 1167.4L482.2 1165.9M470.6 1167.4L472.7 1179.3M470.6 1167.4L468.5 1154.3M417.5 1176.5L413.6 1164.5M382.1 1182.6L384.5 1194.8M580.5 1166.9L592.9 1163.5M456.5 1188.2L468.3 1185.3M456.5 1188.2L444.1 1191.9M456.5 1188.2L457.3 1175.1M438.8 1191.2L426.7 1193.7M421.2 1194.3L432.8 1188.0M548.6 1190.7L561.3 1188.1M548.6 1190.7L535.7 1192.9M495.5 1199.8L498.8 1211.6M477.9 1202.9L476.4 1190.3M552.2 1208.4L549.6 1196.6M534.5 1211.5L536.7 1223.9M516.8 1214.5L529.7 1212.8"/>
<path stroke="#0073ff" d="M220.5 106.7L218.8 118.3M360.3 103.1L354.0 113.5M321.5 109.2L332.2 102.8M302.1 112.2L312.2 104.9M263.3 118.3L263.8 131.5M244.0 121.3L243.1 134.5M205.3 127.4L216.3 121.7M480.7 102.6L485.9 92.0M480.7 102.6L475.6 113.4M422.4 111.7L427.8 100.9M422.4 111.7L417.2 122.3M402.9 114.8L413.8 108.1M364.1 120.8L370.3 109.9M364.1 120.8L358.3 131.0M286.7 133.0L294.2 123.7M286.7 133.0L274.7 138.4M267.4 136.0L278.3 129.8M228.7 142.1L238.9 134.6M523.2 114.2L513.9 121.5M484.3 120.3L478.5 132.0M406.7 132.5L416.6 125.7M368.0 138.6L378.8 131.4M348.6 141.6L357.2 132.0M310.0 147.7L318.1 138.9M310.0 147.7L298.9 152.7M252.1 156.8L240.8 163.2M252.1 156.8L249.7 168.5M232.9 159.8L231.8 172.1M585.0 122.9L593.4 113.9M487.9 138.1L493.9 127.4M449.1 144.1L458.6 136.5M410.4 150.2L403.9 160.4M391.1 153.2L396.5 141.9M371.8 156.3L378.3 145.5M275.4 171.5L284.0 162.9M198.5 183.7L209.6 177.9M510.8 152.7L504.7 163.3M491.5 155.8L481.4 163.7M472.1 158.8L465.7 169.1M414.2 167.9L420.0 156.7M414.2 167.9L408.9 178.5M337.1 180.1L347.3 174.2M241.0 195.3L239.2 207.8M611.2 155.3L602.5 164.2M553.0 164.4L547.2 175.7M475.7 176.6L481.8 166.1M475.7 176.6L469.8 186.6M437.2 182.6L447.3 176.6M360.2 194.8L353.6 205.2M614.5 173.0L625.2 165.9M537.2 185.2L531.3 195.3M440.9 200.4L447.2 188.9M440.9 200.4L434.2 211.8M421.6 203.4L428.1 192.3M402.4 206.4L413.2 200.3M325.7 218.6L319.5 229.9M579.2 196.8L575.3 207.9M560.0 199.8L565.7 188.8M560.0 199.8L554.3 210.5M540.7 202.9L544.6 191.1M540.7 202.9L536.4 214.7M540.7 202.9L549.6 194.3M521.4 205.9L526.9 195.1M521.4 205.9L514.6 216.7M483.0 212.0L488.7 201.7M483.0 212.0L476.9 223.4M463.7 215.1L470.6 204.2M444.5 218.1L438.7 229.4M425.4 221.1L431.4 210.5M425.4 221.1L419.0 231.7M387.0 227.2L396.7 220.3M544.2 220.6L549.7 208.9M429.1 238.9L423.3 250.7M471.0 250.5L464.7 261.3M451.9 253.6L446.5 264.4M474.7 268.2L484.2 261.2M730.9 793.6L743.0 791.2M730.9 793.6L719.3 795.9M694.5 799.6L707.3 799.4M512.8 830.0L500.9 831.7M241.8 875.6L239.4 888.2M375.6 889.8L363.2 892.5M303.6 902.0L304.8 914.3M523.6 883.2L526.9 895.1M469.4 892.3L471.2 904.8M469.4 892.3L468.3 880.0M271.5 925.8L271.5 939.0M271.5 925.8L278.7 936.5M253.6 928.8L260.6 938.5M235.6 931.9L231.2 943.0M235.6 931.9L242.0 942.3M217.7 934.9L209.5 945.3M217.7 934.9L226.5 944.5M762.3 861.4L749.4 862.5M581.3 891.8L594.4 893.3M581.3 891.8L568.5 889.9M527.2 901.0L530.4 913.7M527.2 901.0L523.7 889.3M437.1 916.1L433.7 903.4M419.1 919.2L420.5 932.1M365.2 928.3L363.6 916.6M311.3 937.4L299.0 939.1M275.4 943.5L265.8 952.3M584.8 909.6L596.9 909.8M584.8 909.6L580.3 898.3M530.8 918.7L543.2 918.2M476.8 927.8L481.7 938.7M476.8 927.8L471.3 916.6M440.8 933.9L444.2 946.5M333.1 952.1L326.0 961.6M333.1 952.1L334.2 965.1M333.1 952.1L341.5 961.2M315.2 955.2L313.2 967.0M279.3 961.2L279.2 974.0M261.4 964.3L252.7 973.3M261.4 964.3L256.6 975.4M261.4 964.3L269.0 974.6M225.6 970.4L227.3 958.2M606.4 924.2L611.7 935.1M552.3 933.4L550.6 920.8M498.4 942.5L501.5 954.5M462.4 948.6L464.4 960.4M336.9 969.9L337.2 982.3M283.2 979.0L271.3 979.9M265.3 982.0L266.3 994.3M211.7 991.1L211.9 1002.9M718.0 923.7L730.5 922.6M718.0 923.7L705.0 924.7M645.9 935.9L650.6 947.3M645.9 935.9L641.3 923.7M627.9 938.9L640.2 941.9M627.9 938.9L616.3 936.6M609.9 942.0L614.4 953.9M591.9 945.0L597.8 955.9M591.9 945.0L585.6 934.7M573.9 948.1L562.4 950.5M537.9 954.1L550.3 951.9M537.9 954.1L541.9 966.2M520.0 957.2L522.0 969.9M430.2 972.4L432.8 984.6M430.2 972.4L428.2 959.6M376.5 981.5L374.9 968.5M304.9 993.7L303.0 1006.8M269.2 999.7L261.4 1009.6M269.2 999.7L276.1 1009.2M251.4 1002.8L244.2 1012.5M251.4 1002.8L246.9 1015.3M215.7 1008.9L222.1 1019.4M793.5 929.3L806.5 927.4M703.3 944.5L716.5 944.1M703.3 944.5L691.5 944.1M667.3 950.6L672.6 962.7M649.3 953.6L655.6 965.1M649.3 953.6L643.7 941.9M631.3 956.7L626.4 945.9M613.3 959.7L617.9 971.3M577.4 965.8L570.8 954.8M541.5 971.9L546.4 984.0M487.7 981.0L499.7 979.5M487.7 981.0L475.9 980.9M344.5 1005.3L346.0 1018.5M273.1 1017.5L263.8 1026.8M219.6 1026.6L220.5 1038.3M796.8 947.0L809.6 944.2M688.7 965.3L692.1 977.1M688.7 965.3L684.0 952.9M670.7 968.3L676.3 979.9M670.7 968.3L665.2 957.3M527.1 992.6L514.0 994.0M509.2 995.7L496.9 995.1M455.5 1004.8L457.0 1016.7M455.5 1004.8L453.9 992.2M437.6 1007.8L435.7 996.0M401.9 1013.9L405.2 1025.7M384.0 1017.0L396.9 1013.9M384.0 1017.0L385.8 1030.0M366.2 1020.0L366.6 1032.9M348.3 1023.0L355.4 1033.7M330.5 1026.1L331.4 1013.4M294.8 1032.2L287.4 1041.3M294.8 1032.2L302.3 1041.3M277.0 1035.2L268.6 1044.1M277.0 1035.2L278.4 1048.2M277.0 1035.2L284.3 1044.8M241.3 1041.3L249.4 1051.3M728.1 976.9L732.0 989.0M692.1 983.0L687.7 971.6M548.6 1007.3L551.8 1020.0M512.8 1013.4L524.8 1013.1M512.8 1013.4L500.3 1014.3M512.8 1013.4L508.2 1001.1M494.9 1016.4L482.1 1017.7M459.2 1022.5L460.3 1035.7M405.6 1031.7L403.3 1020.1M387.8 1034.7L389.3 1047.4M369.9 1037.7L370.1 1049.9M352.1 1040.8L350.3 1028.3M316.5 1046.8L318.5 1059.2M803.3 982.5L799.4 971.1M785.3 985.5L786.9 997.7M767.3 988.6L770.6 1000.8M767.3 988.6L763.9 976.6M749.4 991.6L746.7 978.9M695.5 1000.7L699.6 1012.7M695.5 1000.7L692.0 988.8M641.7 1009.9L646.1 1021.6M641.7 1009.9L637.0 998.2M605.9 1015.9L610.9 1028.1M605.9 1015.9L601.4 1004.6M588.0 1019.0L601.1 1018.9M570.1 1022.0L572.7 1033.5M570.1 1022.0L567.3 1010.4M552.2 1025.1L564.8 1022.0M552.2 1025.1L540.6 1026.9M552.2 1025.1L556.0 1037.3M552.2 1025.1L548.1 1012.4M516.4 1031.1L511.7 1019.5M498.6 1034.2L485.5 1034.1M498.6 1034.2L502.8 1046.0M480.7 1037.2L482.7 1049.0M445.0 1043.3L433.3 1045.0M391.5 1052.4L389.4 1040.2M373.7 1055.5L374.5 1067.1M355.9 1058.5L355.3 1070.9M355.9 1058.5L355.7 1045.3M806.6 1000.2L803.3 988.2M788.6 1003.3L791.3 1014.8M788.6 1003.3L785.2 990.9M770.6 1006.3L769.4 994.3M752.7 1009.4L755.3 1020.8M716.8 1015.4L720.5 1027.1M698.9 1018.5L702.5 1029.6M698.9 1018.5L695.5 1006.8M573.6 1039.8L577.5 1052.2M537.9 1045.8L549.9 1045.8M537.9 1045.8L525.5 1045.8M502.2 1051.9L514.2 1051.2M502.2 1051.9L490.0 1052.2M484.3 1055.0L487.7 1066.5M430.9 1064.1L432.6 1076.3M395.2 1070.2L406.4 1066.4M395.2 1070.2L393.1 1057.7M341.9 1079.3L338.5 1091.4M341.9 1079.3L350.6 1089.2M324.1 1082.3L315.3 1091.5M324.1 1082.3L320.3 1094.1M288.5 1088.4L289.3 1100.4M235.3 1097.5L242.1 1107.8M199.8 1103.6L191.9 1113.1M199.8 1103.6L201.2 1115.9M199.8 1103.6L207.3 1113.7M809.8 1018.0L811.6 1029.6M809.8 1018.0L809.0 1006.1M791.9 1021.0L794.6 1033.2M791.9 1021.0L789.3 1008.6M773.9 1024.0L776.9 1035.6M756.0 1027.1L759.3 1039.4M720.2 1033.2L716.4 1021.0M559.3 1060.5L572.3 1060.0M559.3 1060.5L556.8 1047.9M523.6 1066.6L527.4 1079.2M523.6 1066.6L521.8 1054.3M434.5 1081.8L437.8 1094.5M416.8 1084.8L418.7 1096.4M416.8 1084.8L415.8 1071.9M381.2 1090.9L375.0 1101.9M381.2 1090.9L389.5 1099.7M363.4 1094.0L373.2 1102.7M327.9 1100.0L327.8 1112.2M274.6 1109.2L275.6 1122.1M256.9 1112.2L248.0 1121.3M239.2 1115.2L241.5 1128.3M777.3 1041.8L776.0 1054.1M562.8 1078.2L567.0 1090.9M562.8 1078.2L559.6 1066.4M545.0 1081.3L547.8 1093.5M545.0 1081.3L542.8 1068.2M527.2 1084.3L531.5 1096.1M527.2 1084.3L522.9 1072.2M491.6 1090.4L503.8 1085.9M473.8 1093.5L461.5 1098.4M473.8 1093.5L476.5 1105.9M473.8 1093.5L470.7 1081.6M438.2 1099.5L450.6 1097.5M438.2 1099.5L426.0 1103.2M438.2 1099.5L434.0 1087.9M207.6 1139.0L214.3 1149.3M548.6 1099.0L560.8 1096.7M548.6 1099.0L536.2 1102.0M530.8 1102.1L517.6 1102.9M477.4 1111.2L489.9 1108.4M459.7 1114.2L457.4 1101.8M388.7 1126.4L390.9 1138.4M388.7 1126.4L386.6 1114.0M370.9 1129.4L372.3 1141.4M353.2 1132.5L354.0 1145.4M335.5 1135.5L336.5 1148.4M317.7 1138.5L316.5 1151.6M264.6 1147.7L257.2 1157.3M229.2 1153.7L225.1 1165.2M229.2 1153.7L236.6 1162.8M569.9 1113.7L557.4 1115.4M552.1 1116.8L565.3 1115.3M552.1 1116.8L540.3 1118.3M552.1 1116.8L555.4 1128.6M534.4 1119.8L535.6 1132.0M516.6 1122.8L528.4 1118.4M516.6 1122.8L511.2 1111.1M481.1 1128.9L469.3 1130.9M463.3 1132.0L475.5 1128.5M463.3 1132.0L463.0 1120.2M445.6 1135.0L443.4 1123.2M374.7 1147.2L377.0 1159.3M356.9 1150.2L355.7 1137.4M339.2 1153.2L350.8 1148.3M286.1 1162.4L277.7 1172.4M286.1 1162.4L283.5 1174.4M286.1 1162.4L288.5 1174.5M591.2 1128.4L588.5 1116.2M573.5 1131.4L585.5 1131.0M537.9 1137.5L550.1 1135.3M502.4 1143.6L498.8 1132.4M431.5 1155.8L433.7 1168.2M413.8 1158.8L417.4 1170.1M396.1 1161.8L398.5 1174.3M378.4 1164.9L379.7 1177.2M378.4 1164.9L377.5 1151.8M325.3 1174.0L332.8 1184.1M290.0 1180.1L292.2 1192.9M254.6 1186.2L246.8 1195.4M254.6 1186.2L255.4 1198.5M523.8 1158.3L511.9 1158.5M506.0 1161.3L493.6 1163.9M346.8 1188.7L340.6 1199.2M346.8 1188.7L354.0 1199.1M311.4 1194.8L304.0 1205.6M545.1 1173.0L542.1 1161.4M509.6 1179.1L513.7 1190.9M456.5 1188.2L458.1 1200.2M438.8 1191.2L450.3 1188.2M421.2 1194.3L408.9 1196.8M421.2 1194.3L423.4 1207.2M566.3 1187.7L579.0 1185.5M566.3 1187.7L553.6 1190.4M548.6 1190.7L545.7 1178.3M513.2 1196.8L507.4 1186.3M477.9 1202.9L479.6 1215.3M460.2 1205.9L462.8 1218.0M460.2 1205.9L457.0 1193.8M389.5 1218.1L392.6 1229.4M389.5 1218.1L385.1 1206.1M371.9 1221.1L372.1 1233.0M552.2 1208.4L555.4 1221.1M516.8 1214.5L505.1 1216.0M499.1 1217.6L496.5 1206.1"/>
<path stroke="#007400" d="M624.5 226.2L619.5 237.9M672.8 273.3L677.8 262.1M634.5 279.4L630.6 290.7M676.1 291.0L679.1 279.4M676.1 291.0L672.5 303.6M637.9 297.1L633.6 308.1M660.3 311.8L666.0 300.1M622.2 317.9L627.3 307.3M603.1 320.9L608.6 309.4M603.1 320.9L598.1 332.7M206.1 384.8L195.8 390.9M625.5 335.6L630.8 323.8M625.5 335.6L620.4 347.8M251.8 414.1L246.0 425.1M575.5 380.2L583.1 369.3M575.5 380.2L568.6 390.1M537.7 386.3L543.3 375.4M537.7 386.3L531.7 397.3M237.1 434.9L225.9 440.3M218.5 437.9L230.0 432.4M199.8 441.0L208.7 431.4M541.3 404.0L547.2 393.4M466.0 416.2L459.9 427.5M315.9 440.5L309.8 451.5M282.5 464.3L271.1 469.3M212.1 494.2L222.6 487.1M514.4 463.3L520.5 453.0M514.4 463.3L507.7 474.6M458.2 472.4L452.1 482.8M271.9 502.8L283.1 498.8M253.3 505.8L262.4 497.9M253.3 505.8L242.0 510.2M234.7 508.9L245.0 501.7M234.7 508.9L222.3 513.0M216.2 511.9L225.5 504.6M216.2 511.9L204.3 517.2M518.0 481.0L524.3 471.1M499.3 484.0L505.2 472.9M499.3 484.0L493.5 494.8M480.6 487.1L473.5 498.1M387.4 502.3L381.5 512.8M294.4 517.5L306.2 513.2M257.3 523.6L266.7 516.5M521.5 498.7L528.1 488.8M484.2 504.8L492.4 496.2M484.2 504.8L472.2 510.5M484.2 504.8L480.7 516.3M372.6 523.0L366.4 534.4M205.8 550.4L193.7 554.1M469.3 525.6L477.1 515.4M469.3 525.6L461.5 535.7M450.7 528.6L444.1 539.2M339.3 546.9L327.6 551.6M265.3 559.0L276.7 552.7M228.4 565.1L216.3 565.9M324.7 567.6L336.6 562.4M324.7 567.6L317.6 577.9M287.8 573.7L297.9 567.5M269.3 576.8L256.6 578.9M250.9 579.8L238.2 581.2M232.4 582.8L243.1 577.5M232.4 582.8L220.4 585.9M458.1 564.1L468.9 557.1M458.1 564.1L446.7 570.2M458.1 564.1L456.3 576.2M328.6 585.4L340.0 581.3M199.6 606.6L210.7 602.5M443.3 584.9L431.6 588.0M443.3 584.9L441.9 597.5M369.4 597.0L357.3 599.2M332.5 603.1L319.9 605.6M240.5 618.3L249.8 610.4M240.5 618.3L228.9 621.8M447.0 602.6L457.8 595.9M447.0 602.6L435.6 607.3M447.0 602.6L443.9 614.0M318.0 623.9L306.3 625.4M281.2 629.9L269.3 631.4M469.1 617.3L480.9 611.8M469.1 617.3L457.4 623.2M413.8 626.4L413.5 638.6M395.4 629.4L382.8 633.5M358.6 635.5L370.0 629.8M358.6 635.5L348.0 640.8M340.2 638.6L327.7 639.0M303.5 644.6L315.0 639.4M303.5 644.6L291.2 649.5M248.5 653.8L237.1 656.8M491.2 632.0L479.4 634.0M472.8 635.0L460.8 639.1M454.4 638.0L452.9 650.9M454.4 638.0L456.3 625.6M436.0 641.1L447.4 635.4M307.4 662.4L318.3 656.7M307.4 662.4L294.9 664.8M270.8 668.4L282.0 664.4M270.8 668.4L258.8 672.8M234.2 674.5L222.7 677.3M568.5 637.5L580.5 635.0M550.0 640.6L561.9 635.8M550.0 640.6L537.4 644.1M494.8 649.7L507.0 646.0M458.0 655.8L459.2 667.7M439.7 658.8L440.2 646.2M384.6 667.9L395.9 662.2M384.6 667.9L372.1 669.3M366.3 671.0L378.8 667.5M461.7 673.5L473.9 669.6M461.7 673.5L449.3 678.2M461.7 673.5L462.2 661.2M443.4 676.5L455.5 673.2M370.1 688.7L381.1 684.5M297.0 700.9L285.2 704.6M260.4 706.9L271.4 700.2M260.4 706.9L247.3 708.3M557.1 676.0L569.9 675.2M557.1 676.0L545.2 677.9M538.8 679.1L526.4 683.8M520.4 682.1L508.0 683.4M483.7 688.2L486.2 699.9M483.7 688.2L479.5 676.5M392.2 703.4L405.0 701.4M319.1 715.5L331.4 712.1M319.1 715.5L307.1 717.8M209.8 733.8L220.0 727.4M505.7 702.9L517.3 700.3M450.8 712.0L462.6 708.3M323.0 733.3L333.8 727.1M323.0 733.3L311.4 735.1M232.0 748.5L220.6 751.2M509.3 720.6L513.1 732.4M491.0 723.7L493.3 736.6M345.1 748.0L333.2 751.9M326.9 751.0L338.0 746.3M326.9 751.0L315.1 755.6M549.5 732.3L562.1 732.5M549.5 732.3L536.7 733.5M512.9 738.3L526.1 737.3M494.7 741.4L497.8 753.0M421.7 753.5L434.7 751.7M421.7 753.5L409.1 754.5M403.5 756.6L390.4 757.4M498.3 759.1L510.3 758.0M407.3 774.3L419.4 771.5M352.8 783.4L365.0 780.8M352.8 783.4L341.0 786.0M334.6 786.5L345.4 780.7M334.6 786.5L322.5 789.4M280.2 795.6L290.9 789.9M262.1 798.6L249.5 802.7M225.9 804.7L238.3 800.3M538.3 770.8L525.4 770.6M538.3 770.8L534.0 758.5M520.1 773.8L525.1 785.9M520.1 773.8L514.4 762.3M356.6 801.2L343.9 802.7M284.1 813.3L293.7 805.4M651.2 770.2L663.1 773.1M541.9 788.5L547.5 799.4M541.9 788.5L537.5 776.8M251.9 837.1L262.3 831.4M251.9 837.1L240.4 841.2M233.8 840.2L243.8 832.2M545.5 806.2L550.2 817.3M491.0 815.3L503.2 813.5M328.0 842.7L314.9 842.3M273.9 851.8L283.9 845.4M255.8 854.9L266.6 848.7M255.8 854.9L245.7 860.8M549.0 824.0L543.0 813.3M530.9 827.0L534.4 838.5M259.8 872.6L247.1 874.9M241.8 875.6L250.6 867.5M679.7 820.4L667.3 818.2M570.7 838.6L575.0 850.0M570.7 838.6L564.8 828.1M245.7 893.4L233.9 896.9M209.8 899.4L198.0 903.4M574.3 856.4L579.3 867.4M574.3 856.4L568.1 845.1M465.8 874.6L453.6 877.4M393.6 886.8L381.9 892.0M339.6 895.9L326.9 895.8M321.6 898.9L332.9 895.0M249.7 911.1L237.4 913.5M777.2 840.7L789.8 838.1M307.4 919.7L319.4 914.6M726.1 867.5L738.6 865.4M653.6 879.7L649.5 868.4M617.5 885.8L623.4 896.7M617.5 885.8L612.3 874.5M473.1 910.1L461.0 911.9M372.7 963.8L359.9 966.0M754.1 917.7L751.1 905.1M718.0 923.7L714.7 912.3M412.3 975.4L424.5 973.1M302.5 1067.6L289.4 1068.5M413.0 1067.1L425.9 1064.0M321.5 1156.3L309.4 1158.9"/>
<path stroke="#0082ff" d="M201.2 109.7L210.3 102.2M201.2 109.7L190.3 114.6M360.3 103.1L370.8 97.0M244.0 121.3L252.0 112.3M205.3 127.4L200.9 139.4M248.0 139.1L256.4 130.3M248.0 139.1L236.5 144.2M209.5 145.1L220.4 138.2M209.5 145.1L203.1 155.2M562.1 108.2L566.8 97.1M562.1 108.2L557.0 119.4M562.1 108.2L570.8 99.3M562.1 108.2L554.4 117.2M542.6 111.2L535.9 122.2M523.2 114.2L526.2 102.7M523.2 114.2L520.0 126.2M523.2 114.2L532.4 106.5M503.7 117.3L497.3 127.2M484.3 120.3L490.4 108.7M445.5 126.4L455.1 119.5M426.1 129.4L420.9 140.2M387.3 135.5L397.2 126.6M487.9 138.1L481.9 148.9M468.5 141.1L474.9 129.9M468.5 141.1L461.6 151.8M429.8 147.2L439.2 139.3M410.4 150.2L420.9 142.6M391.1 153.2L386.3 164.6M352.5 159.3L362.3 151.8M530.2 149.7L533.8 138.5M530.2 149.7L526.6 162.0M530.2 149.7L539.9 140.9M510.8 152.7L516.5 142.4M491.5 155.8L495.7 144.7M491.5 155.8L487.1 167.5M472.1 158.8L478.5 148.5M433.5 164.9L439.6 154.1M433.5 164.9L427.0 176.3M337.1 180.1L331.4 191.1M611.2 155.3L614.6 143.4M611.2 155.3L607.8 167.9M553.0 164.4L559.4 153.1M533.7 167.4L539.2 155.6M514.4 170.5L520.7 160.3M514.4 170.5L507.5 181.5M456.4 179.6L462.5 169.0M456.4 179.6L450.2 191.0M417.9 185.7L424.3 175.2M417.9 185.7L410.8 196.8M653.2 166.9L660.5 157.7M614.5 173.0L619.9 161.9M614.5 173.0L608.5 184.4M556.5 182.1L550.8 193.4M517.9 188.2L524.4 178.2M517.9 188.2L510.4 198.4M498.6 191.2L504.9 180.0M421.6 203.4L415.6 214.5M325.7 218.6L335.1 211.1M463.7 215.1L456.9 224.9M593.9 670.0L605.6 669.2M593.9 670.0L580.8 670.8M237.8 857.9L236.5 870.3M237.8 857.9L238.3 845.2M694.5 799.6L681.4 799.7M404.1 848.3L416.6 844.9M404.1 848.3L391.3 850.4M223.8 878.7L221.7 890.6M227.7 896.4L226.8 909.6M285.6 905.0L277.4 914.1M285.6 905.0L281.0 917.0M285.6 905.0L293.7 914.4M231.7 914.1L232.3 926.7M231.7 914.1L237.5 924.6M722.7 849.8L734.9 847.3M722.7 849.8L710.0 852.3M523.6 883.2L518.6 871.1M271.5 925.8L263.5 934.5M253.6 928.8L256.1 941.7M545.2 897.9L550.9 908.3M365.2 928.3L366.5 940.8M293.4 940.5L293.6 953.2M275.4 943.5L277.1 956.6M239.6 949.6L239.7 962.7M584.8 909.6L589.5 920.4M512.8 921.7L499.7 922.5M225.6 970.4L222.7 982.4M498.4 942.5L494.5 930.8M462.4 948.6L460.2 936.3M265.3 982.0L257.7 991.6M265.3 982.0L273.0 992.9M247.4 985.1L246.7 997.3M211.7 991.1L204.1 1000.1M211.7 991.1L219.4 1000.8M700.0 926.8L713.0 927.1M700.0 926.8L687.8 925.8M627.9 938.9L633.5 950.8M627.9 938.9L623.1 926.6M609.9 942.0L596.8 940.5M609.9 942.0L605.7 930.0M591.9 945.0L579.4 941.1M555.9 951.1L559.0 963.5M555.9 951.1L552.1 938.5M376.5 981.5L377.6 993.2M340.7 987.6L340.7 999.6M287.1 996.7L288.5 1008.5M251.4 1002.8L253.3 1014.7M251.4 1002.8L258.4 1012.5M233.5 1005.8L232.7 1017.7M215.7 1008.9L212.3 1020.9M757.4 935.4L769.9 932.9M757.4 935.4L745.7 937.7M721.4 941.5L734.1 939.6M667.3 950.6L679.2 952.3M667.3 950.6L663.5 939.4M577.4 965.8L582.0 976.7M559.4 968.8L572.3 967.9M541.5 971.9L535.0 961.2M362.4 1002.3L364.4 1014.5M362.4 1002.3L360.8 990.2M273.1 1017.5L272.9 1030.0M273.1 1017.5L281.2 1027.7M255.3 1020.5L261.8 1030.5M219.6 1026.6L227.0 1035.7M796.8 947.0L784.7 948.5M760.7 953.1L773.1 951.3M742.7 956.2L754.6 953.8M634.8 974.4L639.6 985.6M634.8 974.4L630.4 961.9M598.9 980.5L604.0 991.6M598.9 980.5L593.4 969.6M580.9 983.5L579.8 971.6M545.1 989.6L549.0 1001.0M527.1 992.6L530.2 1005.0M491.3 998.7L493.9 1010.9M473.4 1001.8L484.9 999.6M473.4 1001.8L461.0 1004.4M437.6 1007.8L440.2 1020.2M419.8 1010.9L423.3 1023.6M419.8 1010.9L415.5 999.6M384.0 1017.0L371.4 1019.9M294.8 1032.2L295.4 1045.1M259.2 1038.2L261.2 1051.3M241.3 1041.3L237.0 1053.6M223.5 1044.3L218.6 1055.0M223.5 1044.3L229.7 1054.4M205.7 1047.4L207.1 1059.4M692.1 983.0L696.1 994.3M656.2 989.1L669.0 991.8M656.2 989.1L643.2 986.1M584.5 1001.2L587.4 1013.7M584.5 1001.2L581.8 989.5M548.6 1007.3L545.9 996.0M459.2 1022.5L458.3 1010.2M298.6 1049.9L300.7 1061.9M298.6 1049.9L307.6 1059.1M227.5 1062.0L233.5 1073.0M803.3 982.5L806.3 994.1M785.3 985.5L783.2 973.4M695.5 1000.7L707.3 1002.6M659.6 1006.8L654.7 995.3M588.0 1019.0L592.6 1030.1M588.0 1019.0L584.1 1006.9M516.4 1031.1L520.9 1042.9M498.6 1034.2L493.8 1021.8M462.9 1040.3L465.1 1052.1M462.9 1040.3L459.9 1028.7M338.1 1061.5L340.6 1073.0M249.1 1076.7L240.5 1085.6M249.1 1076.7L251.7 1089.4M249.1 1076.7L257.0 1087.3M213.6 1082.8L205.1 1092.2M213.6 1082.8L215.1 1095.8M213.6 1082.8L221.2 1093.3M806.6 1000.2L809.3 1012.1M770.6 1006.3L773.1 1019.2M752.7 1009.4L748.9 996.9M734.8 1012.4L737.4 1024.8M734.8 1012.4L731.3 1000.7M716.8 1015.4L713.5 1003.0M573.6 1039.8L561.3 1039.8M555.7 1042.8L543.6 1044.9M555.7 1042.8L560.3 1054.9M537.9 1045.8L540.8 1058.4M537.9 1045.8L534.1 1033.7M520.0 1048.9L522.2 1060.7M520.0 1048.9L516.5 1036.8M502.2 1051.9L499.7 1040.3M466.5 1058.0L468.8 1071.0M466.5 1058.0L465.3 1046.1M413.0 1067.1L417.5 1079.1M341.9 1079.3L334.9 1089.3M288.5 1088.4L280.7 1097.7M270.8 1091.4L279.1 1100.8M235.3 1097.5L227.4 1107.5M235.3 1097.5L230.6 1109.6M720.2 1033.2L724.1 1044.4M595.0 1054.4L598.0 1066.4M595.0 1054.4L591.9 1042.9M559.3 1060.5L547.1 1060.8M559.3 1060.5L562.4 1072.2M505.8 1069.6L509.4 1081.1M505.8 1069.6L502.8 1057.4M452.4 1078.8L456.5 1090.5M363.4 1094.0L355.4 1104.3M363.4 1094.0L365.8 1105.7M345.6 1097.0L338.1 1107.0M345.6 1097.0L349.6 1108.7M292.4 1106.1L283.6 1115.8M274.6 1109.2L270.1 1120.7M274.6 1109.2L282.5 1118.5M813.1 1035.7L815.1 1047.5M777.3 1041.8L775.2 1029.0M580.7 1075.2L585.1 1087.2M580.7 1075.2L575.5 1063.7M562.8 1078.2L550.5 1081.3M545.0 1081.3L531.9 1082.5M527.2 1084.3L539.6 1081.0M420.5 1102.6L422.7 1114.1M420.5 1102.6L416.8 1090.4M349.4 1114.7L350.7 1126.4M296.2 1123.9L287.1 1132.7M296.2 1123.9L297.1 1135.6M260.8 1129.9L252.8 1138.8M207.6 1139.0L199.3 1149.0M602.0 1089.9L589.6 1090.3M495.2 1108.1L498.8 1120.8M477.4 1111.2L465.3 1113.5M459.7 1114.2L462.3 1126.8M282.3 1144.6L283.3 1157.6M282.3 1144.6L289.3 1155.9M264.6 1147.7L271.6 1157.8M229.2 1153.7L230.2 1166.3M211.6 1156.8L207.7 1169.2M211.6 1156.8L219.0 1167.6M498.8 1125.9L511.1 1122.8M481.1 1128.9L478.0 1116.7M463.3 1132.0L451.8 1135.3M427.8 1138.0L431.1 1150.6M339.2 1153.2L326.5 1157.1M303.8 1159.3L303.4 1171.8M286.1 1162.4L293.8 1172.8M268.5 1165.4L264.4 1176.8M233.1 1171.5L227.7 1183.3M233.1 1171.5L241.6 1181.1M215.4 1174.5L206.8 1183.9M609.0 1125.4L606.5 1113.3M537.9 1137.5L525.0 1139.3M502.4 1143.6L507.1 1155.7M325.3 1174.0L317.6 1183.8M325.3 1174.0L327.2 1187.1M307.6 1177.0L306.8 1190.2M254.6 1186.2L249.8 1197.1M237.0 1189.2L233.9 1201.2M219.3 1192.2L211.5 1202.8M559.2 1152.2L547.0 1155.2M523.8 1158.3L536.9 1157.0M506.0 1161.3L518.1 1159.6M435.2 1173.5L437.1 1186.1M435.2 1173.5L434.6 1161.0M399.8 1179.6L401.7 1191.9M346.8 1188.7L349.4 1201.3M329.1 1191.7L331.9 1204.6M311.4 1194.8L313.7 1207.4M311.4 1194.8L318.4 1204.2M240.8 1206.9L232.4 1216.5M240.8 1206.9L235.9 1218.3M240.8 1206.9L247.6 1217.2M223.2 1210.0L218.8 1222.4M223.2 1210.0L224.3 1222.9M223.2 1210.0L231.4 1219.3M205.6 1213.0L197.3 1222.2M205.6 1213.0L208.1 1225.7M509.6 1179.1L505.3 1167.8M474.2 1185.1L470.1 1174.0M350.5 1206.4L352.1 1218.8M315.2 1212.5L316.1 1224.6M279.9 1218.6L282.3 1231.2M548.6 1190.7L552.2 1202.8M513.2 1196.8L526.1 1194.4M513.2 1196.8L500.2 1199.3M513.2 1196.8L518.4 1208.6M442.5 1208.9L443.9 1221.7M424.8 1212.0L426.3 1223.6M499.1 1217.6L502.5 1229.5M481.5 1220.6L477.5 1209.6"/>
<path stroke="#008300" d="M672.8 273.3L667.8 285.4M657.0 294.1L662.3 283.1M637.9 297.1L642.9 285.2M660.3 311.8L655.4 322.5M622.2 317.9L616.2 329.4M644.5 332.6L638.5 344.3M647.9 350.3L642.3 361.8M609.9 356.4L615.4 344.4M609.9 356.4L604.8 367.8M613.3 374.1L624.0 367.9M594.4 377.1L600.5 366.7M274.6 428.8L268.8 440.8M218.5 437.9L213.8 450.0M579.0 397.9L585.6 387.2M522.4 407.0L529.4 397.3M522.4 407.0L515.8 417.8M544.8 421.7L555.3 414.2M526.0 424.8L533.0 414.8M526.0 424.8L519.4 434.9M226.6 473.4L236.0 465.0M226.6 473.4L215.3 478.5M208.0 476.5L218.1 469.6M208.0 476.5L196.1 480.4M567.1 436.4L573.1 424.7M567.1 436.4L561.3 447.2M529.5 442.5L534.8 432.0M529.5 442.5L523.7 454.1M212.1 494.2L200.6 500.1M364.9 487.6L358.0 498.4M271.9 502.8L265.6 513.9M238.8 526.6L227.3 530.2M558.9 492.6L565.0 481.5M502.9 501.8L509.7 491.9M502.9 501.8L496.9 512.2M447.0 510.9L439.8 521.9M316.9 532.2L310.4 542.6M279.8 538.2L291.4 532.2M261.3 541.3L271.9 535.3M261.3 541.3L248.9 543.8M224.3 547.4L234.9 541.4M224.3 547.4L213.1 551.2M543.8 513.4L555.1 507.4M506.5 519.5L515.8 510.8M432.1 531.7L442.8 525.4M395.0 537.7L383.3 542.6M339.3 546.9L349.6 540.1M283.8 556.0L294.9 549.2M283.8 556.0L271.5 561.0M265.3 559.0L252.9 562.8M246.8 562.1L257.9 555.2M246.8 562.1L235.0 564.9M491.5 540.3L500.5 532.5M491.5 540.3L479.7 546.1M472.9 543.3L479.1 532.4M472.9 543.3L467.2 554.2M417.3 552.4L406.2 556.5M361.7 561.6L355.9 572.7M343.2 564.6L355.6 559.8M250.9 579.8L260.9 573.0M476.6 561.0L484.0 550.5M421.0 570.2L432.4 564.9M384.0 576.2L394.1 570.1M347.1 582.3L334.4 583.4M273.3 594.5L284.0 588.3M461.7 581.8L471.2 573.6M461.7 581.8L449.8 584.6M461.7 581.8L459.0 594.4M539.4 587.4L550.9 583.0M520.9 590.4L532.7 585.7M520.9 590.4L508.6 592.1M502.4 593.5L489.9 595.7M483.9 596.5L495.3 590.7M483.9 596.5L472.3 600.1M465.4 599.5L475.9 591.6M465.4 599.5L452.9 603.2M465.4 599.5L463.1 612.5M336.4 620.8L348.0 615.1M336.4 620.8L324.3 624.1M318.0 623.9L329.7 617.9M506.0 611.2L517.0 607.1M506.0 611.2L493.7 613.8M469.1 617.3L466.8 629.0M469.1 617.3L470.0 604.6M450.7 620.3L448.7 633.2M266.8 650.7L255.3 654.9M230.2 656.8L240.8 650.0M230.2 656.8L218.7 662.4M528.1 625.9L539.5 622.7M528.1 625.9L516.0 630.4M491.2 632.0L502.6 627.5M472.8 635.0L484.3 631.0M399.2 647.2L410.3 643.1M399.2 647.2L387.2 648.8M215.9 677.6L227.3 671.5M568.5 637.5L556.6 637.8M513.2 646.6L524.5 643.2M513.2 646.6L500.5 649.5M476.4 652.7L487.9 649.7M458.0 655.8L457.2 643.0M439.7 658.8L451.3 654.8M293.0 683.1L304.5 677.0M238.2 692.2L227.5 697.0M498.4 667.4L511.4 666.6M498.4 667.4L486.7 667.7M480.1 670.5L492.0 668.4M480.1 670.5L468.6 672.8M443.4 676.5L431.0 681.1M297.0 700.9L308.1 697.2M278.7 703.9L267.8 708.7M242.2 710.0L251.9 702.5M242.2 710.0L229.1 710.0M538.8 679.1L550.4 676.6M520.4 682.1L522.9 693.7M520.4 682.1L517.2 670.1M483.7 688.2L495.5 686.4M483.7 688.2L471.6 692.6M428.8 697.3L440.5 694.1M428.8 697.3L416.8 701.9M373.9 706.4L385.7 702.9M542.3 696.8L554.9 695.8M542.3 696.8L530.3 698.8M524.0 699.8L535.7 697.5M396.0 721.1L408.6 718.6M396.0 721.1L383.1 723.4M304.8 736.3L317.3 731.9M304.8 736.3L292.7 738.8M268.4 742.4L279.4 736.8M232.0 748.5L243.5 742.6M527.6 717.6L540.1 715.1M509.3 720.6L504.6 708.7M436.2 732.8L448.5 729.8M436.2 732.8L424.9 736.3M363.3 744.9L350.8 745.5M254.1 763.2L263.9 755.6M217.8 769.2L228.9 762.6M494.7 741.4L491.7 729.9M516.5 756.1L521.9 768.0M516.5 756.1L510.0 744.8M498.3 759.1L485.1 759.4M407.3 774.3L394.8 777.9M244.0 801.7L253.9 794.8M556.6 767.7L568.9 768.6M556.6 767.7L544.6 766.0M538.3 770.8L550.1 770.7M538.3 770.8L543.0 782.1M356.6 801.2L368.0 796.3M266.0 816.4L254.4 819.5M414.8 809.8L427.5 808.0M378.5 815.9L390.5 812.7M378.5 815.9L367.3 821.3M324.2 825.0L311.8 828.9M233.8 840.2L222.4 844.7M672.9 784.9L685.3 787.5M563.7 803.2L571.0 814.2M563.7 803.2L555.7 792.8M491.0 815.3L477.8 816.7M400.4 830.5L412.5 826.6M400.4 830.5L388.1 833.6M310.0 845.7L321.6 841.0M259.8 872.6L270.6 865.6M241.8 875.6L230.7 880.0M223.8 878.7L233.8 872.1M770.7 805.2L783.7 803.1M770.7 805.2L758.7 807.1M429.7 880.7L442.1 879.0M429.7 880.7L416.8 881.7M321.6 898.9L309.6 899.3M777.2 840.7L764.7 843.8M632.1 865.0L638.8 876.3M632.1 865.0L625.4 854.0M614.0 868.0L619.5 879.2M614.0 868.0L608.4 857.5M325.4 916.7L313.4 918.9M307.4 919.7L295.2 922.0M653.6 879.7L658.1 891.4M657.0 897.4L661.2 909.9M657.0 897.4L652.9 885.4M790.3 911.6L792.8 924.1M790.3 911.6L788.4 899.1M754.1 917.7L757.4 929.9M736.1 920.7L734.4 908.2M412.3 975.4L400.7 978.4M362.4 1002.3L375.1 999.9M362.4 1002.3L350.9 1004.8"/>
<path stroke="#0090ff" d="M244.0 121.3L231.5 125.4M461.2 105.6L455.2 116.1M383.5 117.8L393.8 111.1M344.7 123.9L339.9 134.9M325.4 126.9L321.5 138.5M542.6 111.2L548.7 100.7M503.7 117.3L510.3 106.6M464.9 123.4L470.5 112.2M464.9 123.4L459.1 134.0M426.1 129.4L436.2 122.0M329.3 144.6L329.1 157.1M585.0 122.9L576.9 131.4M526.7 132.0L533.2 120.5M487.9 138.1L498.6 130.5M646.7 131.5L655.3 121.4M569.0 143.6L573.1 132.1M569.0 143.6L564.1 154.7M569.0 143.6L576.8 134.4M549.6 146.7L555.4 135.6M549.6 146.7L544.8 158.0M491.5 155.8L500.4 147.7M630.6 152.2L622.2 161.1M572.4 161.3L581.1 152.8M533.7 167.4L528.5 178.6M360.2 194.8L371.8 189.4M633.9 170.0L643.0 161.8M595.2 176.0L584.5 181.8M595.2 176.0L589.5 186.6M556.5 182.1L561.9 171.1M498.6 191.2L492.6 202.6M637.2 187.7L628.3 195.5M544.2 220.6L539.5 231.8M213.7 917.2L214.3 929.5M253.6 928.8L244.3 937.4M199.8 937.9L191.3 946.0M199.8 937.9L201.3 949.7M199.8 937.9L206.9 947.3M545.2 897.9L538.9 887.3M221.7 952.6L222.0 965.7M203.8 955.7L201.9 968.6M783.7 876.1L771.4 877.9M530.8 918.7L534.5 931.4M512.8 921.7L525.2 921.0M333.1 952.1L331.2 964.6M243.5 967.3L244.8 980.1M207.8 973.4L198.8 981.1M207.8 973.4L207.5 986.5M768.9 896.9L781.4 895.2M570.3 930.3L574.6 941.3M570.3 930.3L565.5 918.3M229.6 988.1L220.3 996.6M229.6 988.1L230.8 1000.7M229.6 988.1L237.5 997.6M645.9 935.9L658.4 938.7M645.9 935.9L634.4 933.4M609.9 942.0L621.7 942.7M591.9 945.0L604.6 947.8M573.9 948.1L577.0 960.7M573.9 948.1L570.3 935.4M340.7 987.6L339.6 974.4M304.9 993.7L302.6 981.3M775.5 932.4L787.6 929.8M775.5 932.4L763.5 935.0M721.4 941.5L709.7 942.7M667.3 950.6L655.2 948.2M613.3 959.7L625.3 961.0M613.3 959.7L600.3 958.8M613.3 959.7L609.1 948.7M559.4 968.8L546.8 970.2M326.6 1008.4L329.3 1021.2M255.3 1020.5L247.1 1029.8M255.3 1020.5L257.6 1032.0M219.6 1026.6L211.8 1035.4M742.7 956.2L730.1 958.9M724.7 959.2L712.0 959.1M634.8 974.4L622.3 972.3M616.8 977.4L629.6 979.1M616.8 977.4L604.2 975.2M616.8 977.4L621.8 989.3M580.9 983.5L584.4 995.7M527.1 992.6L523.0 980.1M491.3 998.7L487.6 986.7M241.3 1041.3L232.7 1050.6M241.3 1041.3L242.0 1053.1M205.7 1047.4L212.3 1057.9M764.0 970.9L776.4 969.9M656.2 989.1L661.1 1000.8M656.2 989.1L651.2 977.8M620.3 995.2L632.0 996.7M602.4 998.2L598.1 985.8M584.5 1001.2L596.6 999.4M584.5 1001.2L572.5 1002.7M548.6 1007.3L561.5 1006.6M548.6 1007.3L537.0 1009.0M530.7 1010.4L533.0 1022.1M280.8 1052.9L279.8 1065.6M263.0 1056.0L254.8 1065.0M263.0 1056.0L270.2 1067.1M227.5 1062.0L219.3 1070.7M731.4 994.7L735.6 1006.9M731.4 994.7L727.0 983.3M695.5 1000.7L682.5 999.3M659.6 1006.8L664.4 1018.4M570.1 1022.0L582.0 1022.0M534.3 1028.1L529.2 1016.7M427.2 1046.3L428.4 1058.7M409.3 1049.4L410.7 1061.8M409.3 1049.4L408.1 1037.5M338.1 1061.5L346.7 1071.2M284.7 1070.7L277.7 1080.2M284.7 1070.7L280.3 1081.6M284.7 1070.7L291.7 1081.4M266.9 1073.7L258.3 1081.7M266.9 1073.7L267.6 1087.0M609.4 1033.7L621.6 1033.6M609.4 1033.7L597.7 1033.2M609.4 1033.7L605.3 1021.0M591.5 1036.7L578.3 1036.5M573.6 1039.8L586.6 1040.0M555.7 1042.8L567.4 1041.1M555.7 1042.8L552.0 1031.4M502.2 1051.9L504.7 1063.5M359.6 1076.2L353.0 1086.5M270.8 1091.4L263.9 1102.0M270.8 1091.4L271.0 1103.2M217.5 1100.5L224.3 1111.8M684.4 1039.2L680.5 1026.8M577.1 1057.5L565.2 1058.5M470.2 1075.7L474.5 1087.6M452.4 1078.8L447.4 1067.1M363.4 1094.0L361.9 1107.1M345.6 1097.0L353.9 1106.6M310.1 1103.1L309.7 1115.1M274.6 1109.2L267.5 1119.1M239.2 1115.2L230.6 1123.3M221.4 1118.3L212.9 1127.5M203.7 1121.3L210.6 1132.3M813.1 1035.7L811.0 1023.8M795.2 1038.7L797.5 1051.4M795.2 1038.7L792.6 1027.0M598.5 1072.2L603.6 1083.8M545.0 1081.3L557.6 1079.6M527.2 1084.3L515.4 1087.8M491.6 1090.4L494.4 1103.2M491.6 1090.4L488.3 1078.7M384.9 1108.7L386.9 1120.3M384.9 1108.7L382.2 1096.4M331.7 1117.8L323.0 1127.7M331.7 1117.8L340.1 1127.3M313.9 1120.8L313.2 1133.5M278.5 1126.9L277.1 1138.7M260.8 1129.9L256.7 1141.8M260.8 1129.9L262.6 1142.9M225.3 1136.0L226.8 1148.0M513.0 1105.1L517.2 1117.0M513.0 1105.1L510.1 1092.6M495.2 1108.1L492.7 1095.4M424.1 1120.3L425.7 1132.4M300.0 1141.6L299.1 1153.6M264.6 1147.7L260.3 1159.0M229.2 1153.7L221.1 1163.7M211.6 1156.8L202.5 1165.4M676.8 1095.5L672.0 1084.0M605.5 1107.6L600.6 1096.2M587.7 1110.7L586.3 1098.9M569.9 1113.7L582.6 1111.0M534.4 1119.8L522.2 1122.3M498.8 1125.9L486.5 1130.6M498.8 1125.9L502.2 1138.0M498.8 1125.9L495.5 1113.4M481.1 1128.9L483.6 1141.0M392.4 1144.1L393.7 1156.7M392.4 1144.1L390.6 1131.7M321.5 1156.3L321.5 1168.0M321.5 1156.3L322.0 1143.7M268.5 1165.4L276.6 1175.2M250.8 1168.4L247.2 1180.8M233.1 1171.5L224.3 1179.9M215.4 1174.5L215.8 1187.4M215.4 1174.5L222.3 1185.0M573.5 1131.4L576.4 1143.2M573.5 1131.4L570.2 1119.6M555.7 1134.5L568.7 1132.1M555.7 1134.5L543.1 1135.2M537.9 1137.5L539.5 1150.1M537.9 1137.5L536.4 1124.5M520.2 1140.6L523.8 1152.1M520.2 1140.6L515.1 1128.6M502.4 1143.6L514.3 1140.5M502.4 1143.6L489.6 1146.4M484.7 1146.6L497.2 1142.9M484.7 1146.6L472.7 1149.5M360.7 1167.9L359.0 1180.6M343.0 1171.0L345.2 1183.4M272.3 1183.1L263.3 1192.2M254.6 1186.2L262.0 1195.8M219.3 1192.2L219.2 1204.9M219.3 1192.2L227.0 1201.6M201.7 1195.3L193.6 1204.0M559.2 1152.2L571.0 1149.7M523.8 1158.3L527.2 1170.2M523.8 1158.3L520.1 1146.3M488.3 1164.4L491.6 1176.7M452.9 1170.5L456.7 1181.6M399.8 1179.6L397.4 1167.9M364.4 1185.7L357.4 1195.1M364.4 1185.7L373.2 1194.3M293.8 1197.8L285.1 1206.8M293.8 1197.8L289.8 1208.9M293.8 1197.8L295.6 1209.9M276.1 1200.9L276.0 1213.3M258.5 1203.9L265.6 1214.6M616.0 1160.8L604.2 1160.4M598.3 1163.9L594.1 1152.4M545.1 1173.0L557.2 1171.7M545.1 1173.0L532.5 1176.3M545.1 1173.0L548.8 1185.3M527.3 1176.0L530.2 1188.7M527.3 1176.0L525.6 1164.0M491.9 1182.1L493.5 1194.5M491.9 1182.1L489.8 1170.5M474.2 1185.1L478.6 1196.9M438.8 1191.2L441.9 1203.3M368.2 1203.4L362.1 1213.8M368.2 1203.4L370.8 1215.1M332.9 1209.5L331.4 1221.1M315.2 1212.5L323.4 1222.7M279.9 1218.6L288.2 1227.4M584.0 1184.6L587.3 1196.4M566.3 1187.7L569.7 1199.8M566.3 1187.7L562.3 1175.1M530.9 1193.8L534.1 1206.3M530.9 1193.8L528.5 1181.9M442.5 1208.9L440.0 1195.9M424.8 1212.0L423.7 1199.6M407.2 1215.0L418.7 1209.9M407.2 1215.0L394.7 1218.0M407.2 1215.0L411.2 1226.7M481.5 1220.6L484.6 1233.3"/>
<path stroke="#009200" d="M657.0 294.1L650.9 304.4M618.8 300.1L628.9 292.2M679.3 308.8L684.5 296.9M679.3 308.8L674.1 320.4M641.2 314.8L646.7 302.8M641.2 314.8L636.1 325.9M644.5 332.6L650.4 322.2M606.5 338.7L601.4 349.6M647.9 350.3L653.6 338.5M628.9 353.3L622.6 363.7M591.0 359.4L596.6 348.9M591.0 359.4L585.1 370.3M594.4 377.1L588.3 388.7M594.4 377.1L604.5 370.7M579.0 397.9L572.3 408.9M560.1 401.0L565.6 390.5M560.1 401.0L554.7 411.9M582.4 415.7L588.4 404.1M582.4 415.7L576.9 426.3M563.6 418.7L569.1 407.7M548.3 439.5L542.7 449.7M589.4 451.1L595.1 440.6M589.4 451.1L584.1 461.9M551.8 457.2L558.2 447.2M551.8 457.2L545.4 467.3M533.1 460.2L539.7 448.7M439.6 475.4L433.1 485.4M555.4 474.9L561.7 463.7M555.4 474.9L548.7 486.3M536.7 478.0L530.6 488.2M257.3 523.6L245.1 527.7M238.8 526.6L250.4 521.2M558.9 492.6L553.0 504.3M298.4 535.2L308.8 528.5M279.8 538.2L267.4 542.0M506.5 519.5L495.4 525.3M506.5 519.5L505.1 531.2M432.1 531.7L420.9 537.4M413.5 534.7L423.8 529.1M209.9 568.1L220.9 561.1M491.5 540.3L487.9 552.5M454.4 546.4L460.9 536.3M454.4 546.4L447.9 556.8M417.3 552.4L427.5 545.0M343.2 564.6L339.1 575.6M269.3 576.8L280.0 569.8M532.3 551.9L530.6 564.8M476.6 561.0L469.5 571.5M439.5 567.1L446.4 556.4M439.5 567.1L432.2 577.7M421.0 570.2L414.6 580.4M402.5 573.2L413.8 568.2M384.0 576.2L372.5 579.9M328.6 585.4L322.3 595.8M291.7 591.4L302.6 584.9M273.3 594.5L261.6 596.9M254.9 597.5L264.9 589.7M236.4 600.6L224.0 604.1M218.0 603.6L228.7 597.0M218.0 603.6L207.0 608.6M480.2 578.8L479.5 591.9M480.2 578.8L483.1 566.4M424.8 587.9L436.7 583.6M424.8 587.9L413.6 594.3M222.1 621.3L233.8 617.7M222.1 621.3L211.0 625.7M539.4 587.4L528.1 592.0M354.8 617.8L366.7 612.5M450.7 620.3L437.6 622.2M377.0 632.5L366.9 639.0M321.9 641.6L333.1 636.1M321.9 641.6L309.2 642.8M248.5 653.8L259.7 649.3M211.9 659.8L220.9 652.0M211.9 659.8L199.8 664.0M509.6 628.9L498.5 633.6M454.4 638.0L466.2 633.9M436.0 641.1L424.4 644.2M325.8 659.3L337.5 653.3M234.2 674.5L244.7 666.7M215.9 677.6L203.5 682.1M513.2 646.6L513.1 658.6M513.2 646.6L513.3 633.7M476.4 652.7L464.8 655.7M476.4 652.7L474.4 664.6M476.4 652.7L478.9 640.4M403.0 664.9L416.0 662.8M293.0 683.1L281.6 688.6M238.2 692.2L249.3 685.7M627.3 646.1L639.0 644.7M627.3 646.1L614.1 646.7M553.6 658.3L566.4 655.8M553.6 658.3L541.1 661.3M516.8 664.4L529.6 662.7M498.4 667.4L499.2 680.1M498.4 667.4L498.2 654.3M278.7 703.9L291.2 700.0M502.1 685.1L514.0 681.9M502.1 685.1L489.9 687.4M465.4 691.2L477.9 689.7M465.4 691.2L453.2 693.0M373.9 706.4L361.8 709.5M560.7 693.8L548.9 693.8M524.0 699.8L511.5 703.0M524.0 699.8L518.7 688.6M286.6 739.4L274.9 743.2M582.5 708.5L594.4 708.6M545.9 714.5L534.2 713.4M527.6 717.6L515.3 719.4M527.6 717.6L530.8 729.2M527.6 717.6L522.6 705.9M363.3 744.9L374.9 739.9M512.9 738.3L515.9 750.4M512.9 738.3L509.8 726.8M367.1 762.7L354.3 766.0M294.4 774.8L305.8 771.5M294.4 774.8L281.7 775.8M221.9 787.0L232.7 782.1M699.3 725.7L686.9 725.5M534.8 753.0L529.6 742.5M244.0 801.7L232.1 804.9M284.1 813.3L272.0 817.0M266.0 816.4L276.2 808.2M560.1 785.5L554.6 774.0M414.8 809.8L402.4 811.3M324.2 825.0L335.4 818.0M672.9 784.9L661.2 782.5M636.4 791.0L648.4 796.0M636.4 791.0L625.2 786.9M382.3 833.6L395.2 831.4M382.3 833.6L370.6 835.8M310.0 845.7L298.5 848.9M201.8 864.0L211.4 857.0M223.8 878.7L212.6 882.4M679.7 820.4L691.8 821.6M353.8 875.1L364.7 870.0M628.6 847.3L634.8 859.0M628.6 847.3L622.0 835.9M736.1 920.7L739.0 933.6"/>
<path stroke="#009bff" d="M461.2 105.6L472.3 98.4M344.7 123.9L355.4 115.9M325.4 126.9L335.8 119.7M643.4 113.7L638.1 124.5M624.0 116.8L632.1 107.6M546.1 128.9L555.8 121.2M526.7 132.0L520.5 142.4M507.3 135.0L512.6 124.1M507.3 135.0L501.7 146.8M646.7 131.5L650.0 120.1M646.7 131.5L643.4 144.2M646.7 131.5L638.4 140.1M627.3 134.5L621.7 145.6M569.0 143.6L561.1 152.8M530.2 149.7L521.1 158.5M572.4 161.3L576.3 148.8M572.4 161.3L569.2 173.0M572.4 161.3L564.1 170.0M633.9 170.0L636.6 158.5M633.9 170.0L630.5 181.9M595.2 176.0L604.1 168.1M253.6 928.8L247.9 940.1M783.7 876.1L796.4 874.0M530.8 918.7L527.9 906.8M207.8 973.4L215.1 983.0M642.4 918.2L654.6 921.9M642.4 918.2L629.5 915.0M283.2 979.0L282.4 991.6M681.9 929.8L694.7 930.6M685.3 947.6L698.3 948.2M685.3 947.6L672.1 947.2M595.4 962.8L607.9 963.2M595.4 962.8L582.4 961.9M577.4 965.8L589.8 965.5M577.4 965.8L564.5 966.2M255.3 1020.5L251.6 1031.9M237.4 1023.6L238.9 1035.5M724.7 959.2L737.5 958.5M652.8 971.4L656.4 983.5M652.8 971.4L649.6 960.0M634.8 974.4L646.5 976.7M616.8 977.4L612.3 966.5M259.2 1038.2L251.7 1047.5M259.2 1038.2L254.5 1049.5M764.0 970.9L751.1 971.8M674.2 986.0L686.9 987.4M638.3 992.1L650.8 994.8M638.3 992.1L625.8 988.9M638.3 992.1L632.3 980.6M620.3 995.2L607.9 993.4M602.4 998.2L615.2 998.2M602.4 998.2L606.3 1009.4M530.7 1010.4L543.9 1009.3M530.7 1010.4L518.5 1011.1M530.7 1010.4L529.5 998.5M263.0 1056.0L264.3 1068.9M227.5 1062.0L229.1 1073.7M209.7 1065.1L200.6 1074.3M209.7 1065.1L211.6 1077.2M209.7 1065.1L216.5 1075.0M713.5 997.7L709.3 985.1M677.6 1003.8L681.7 1016.1M659.6 1006.8L671.3 1008.7M641.7 1009.9L629.9 1008.1M570.1 1022.0L557.9 1022.8M534.3 1028.1L538.4 1039.8M266.9 1073.7L274.4 1084.1M231.4 1079.8L222.8 1089.4M231.4 1079.8L226.7 1091.9M231.4 1079.8L238.4 1090.4M681.0 1021.5L677.3 1010.2M663.1 1024.5L667.7 1036.3M663.1 1024.5L658.1 1012.7M645.2 1027.6L641.1 1014.9M627.3 1030.6L630.9 1042.3M609.4 1033.7L613.8 1045.8M591.5 1036.7L604.3 1036.3M591.5 1036.7L597.0 1048.1M359.6 1076.2L355.8 1087.8M359.6 1076.2L368.2 1085.7M253.0 1094.5L244.7 1103.4M217.5 1100.5L212.5 1111.3M577.1 1057.5L590.3 1056.5M541.5 1063.6L544.6 1075.0M541.5 1063.6L539.1 1051.8M327.9 1100.0L320.2 1109.0M327.9 1100.0L337.6 1108.9M239.2 1115.2L248.1 1124.9M221.4 1118.3L223.3 1129.9M221.4 1118.3L228.3 1128.2M203.7 1121.3L200.8 1132.8M759.3 1044.8L762.9 1056.2M598.5 1072.2L610.8 1070.9M598.5 1072.2L585.8 1072.2M598.5 1072.2L591.9 1061.0M562.8 1078.2L575.6 1076.2M367.2 1111.7L368.2 1123.8M331.7 1117.8L334.3 1129.5M260.8 1129.9L268.2 1139.5M243.1 1133.0L234.6 1142.8M243.1 1133.0L243.3 1145.3M243.1 1133.0L250.0 1143.0M225.3 1136.0L217.8 1145.6M225.3 1136.0L231.9 1146.1M207.6 1139.0L207.9 1152.1M619.8 1086.9L624.0 1097.9M619.8 1086.9L615.2 1076.0M602.0 1089.9L614.2 1089.7M566.4 1096.0L579.2 1094.3M566.4 1096.0L553.6 1096.2M548.6 1099.0L551.8 1111.2M530.8 1102.1L533.2 1114.8M246.9 1150.7L248.7 1163.6M246.9 1150.7L255.4 1160.8M605.5 1107.6L618.0 1107.8M605.5 1107.6L610.4 1119.8M587.7 1110.7L590.3 1123.2M534.4 1119.8L545.9 1116.9M339.2 1153.2L339.8 1165.7M268.5 1165.4L259.3 1174.6M555.7 1134.5L559.4 1145.6M555.7 1134.5L550.3 1122.6M449.2 1152.7L451.1 1164.7M449.2 1152.7L446.4 1139.9M272.3 1183.1L268.0 1195.6M272.3 1183.1L273.8 1196.3M237.0 1189.2L238.4 1201.6M237.0 1189.2L244.9 1198.6M201.7 1195.3L209.0 1206.1M594.7 1146.1L607.1 1145.4M594.7 1146.1L581.9 1146.8M577.0 1149.2L579.5 1161.1M577.0 1149.2L574.9 1136.3M559.2 1152.2L563.5 1163.2M559.2 1152.2L555.7 1140.9M506.0 1161.3L508.3 1173.9M506.0 1161.3L502.3 1149.1M488.3 1164.4L487.0 1151.6M452.9 1170.5L449.5 1158.0M329.1 1191.7L322.2 1201.5M329.1 1191.7L325.4 1203.8M329.1 1191.7L337.5 1200.3M258.5 1203.9L260.5 1216.6M240.8 1206.9L241.1 1219.4M205.6 1213.0L212.3 1223.2M616.0 1160.8L628.8 1161.5M598.3 1163.9L611.4 1163.7M598.3 1163.9L603.0 1176.1M562.8 1169.9L575.7 1168.5M562.8 1169.9L550.5 1170.6M385.8 1200.3L387.5 1212.6M297.6 1215.5L290.3 1225.3M297.6 1215.5L302.6 1227.4M279.9 1218.6L272.3 1227.6M584.0 1184.6L580.8 1172.0M605.3 1199.3L617.3 1198.7M569.9 1205.4L566.1 1193.6M608.7 1217.0L621.3 1216.0M608.7 1217.0L596.9 1218.6M608.7 1217.0L604.5 1204.8"/>
<path stroke="#00a200" d="M618.8 300.1L625.4 289.9M618.8 300.1L611.8 311.4M606.5 338.7L612.0 326.9M628.9 353.3L634.4 342.9M616.7 391.8L610.3 401.9M597.8 394.9L603.6 383.7M597.8 394.9L591.8 405.0M563.6 418.7L558.1 429.8M548.3 439.5L554.2 429.2M533.1 460.2L527.1 470.3M536.7 478.0L542.9 467.7M540.2 495.7L546.7 485.3M298.4 535.2L286.1 539.9M413.5 534.7L408.5 546.0M209.9 568.1L197.0 569.7M513.7 555.0L522.4 546.3M495.1 558.0L501.6 547.7M402.5 573.2L395.6 583.3M291.7 591.4L280.2 595.0M254.9 597.5L243.1 601.0M517.3 572.7L523.8 562.9M517.3 572.7L510.3 583.8M498.8 575.7L510.4 571.5M498.8 575.7L487.4 579.8M406.3 590.9L417.1 586.3M406.3 590.9L395.5 596.6M502.4 593.5L500.4 606.4M428.5 605.6L439.3 600.5M542.9 605.1L553.7 600.2M542.9 605.1L531.1 610.6M487.5 614.2L497.3 606.8M487.5 614.2L475.6 617.4M450.7 620.3L462.0 614.7M509.6 628.9L521.3 624.6M325.8 659.3L314.1 664.2M289.1 665.4L300.4 659.0M289.1 665.4L277.1 670.3M403.0 664.9L390.2 667.4M274.7 686.2L285.5 680.2M256.5 689.2L245.6 693.8M219.9 695.3L231.2 689.2M219.9 695.3L207.9 698.5M608.8 649.2L621.0 647.5M608.8 649.2L597.2 651.1M516.8 664.4L504.5 665.2M516.8 664.4L514.0 652.4M410.5 700.4L422.4 697.2M337.4 712.5L348.9 708.4M337.4 712.5L326.5 717.8M228.0 730.8L239.0 724.2M579.0 690.7L591.8 689.4M560.7 693.8L573.7 694.3M524.0 699.8L529.2 712.0M286.6 739.4L298.4 734.3M268.4 742.4L256.4 746.2M250.2 745.4L237.5 748.9M213.8 751.5L223.5 745.0M213.8 751.5L201.3 755.4M582.5 708.5L570.3 709.4M545.9 714.5L557.6 715.3M509.3 720.6L521.9 719.1M509.3 720.6L496.8 722.7M272.3 760.1L284.1 754.7M254.1 763.2L242.2 767.9M236.0 766.2L246.4 759.3M236.0 766.2L226.3 772.8M586.0 726.2L598.6 725.6M586.0 726.2L573.9 726.0M385.3 759.6L396.5 755.1M385.3 759.6L372.3 762.3M367.1 762.7L378.9 759.0M258.1 780.9L268.8 773.1M221.9 787.0L210.0 791.1M699.3 725.7L712.4 724.7M534.8 753.0L540.3 763.5M611.3 758.6L623.8 761.6M611.3 758.6L599.5 756.9M229.8 822.4L240.0 815.4M760.9 752.0L748.5 754.7M669.5 767.2L681.3 768.8M669.5 767.2L656.7 765.3M560.1 785.5L566.1 796.2M201.8 864.0L190.1 869.8M676.3 802.7L688.5 803.7M676.3 802.7L663.5 802.2M588.9 835.6L583.9 824.9M610.5 850.3L616.0 862.1M610.5 850.3L604.4 839.0M671.7 876.6L675.2 888.1M714.6 906.0L711.7 894.6"/>
<path stroke="#00a6ff" d="M601.1 102.1L591.9 110.7M581.6 105.1L571.3 112.8M643.4 113.7L648.7 103.1M624.0 116.8L628.0 104.2M624.0 116.8L620.1 128.9M624.0 116.8L616.2 126.8M585.0 122.9L588.7 111.0M585.0 122.9L581.2 134.8M565.6 125.9L572.4 116.1M565.6 125.9L557.9 136.5M546.1 128.9L551.0 116.6M546.1 128.9L541.6 140.9M546.1 128.9L536.4 136.4M627.3 134.5L633.1 123.1M650.0 149.2L642.0 158.2M630.6 152.2L633.5 140.3M630.6 152.2L627.7 164.9M630.6 152.2L639.3 144.4M633.9 170.0L624.7 177.8M575.8 179.1L581.4 167.8M575.8 179.1L570.8 189.8M768.9 896.9L756.7 898.8M681.9 929.8L669.0 929.8M663.9 932.9L676.9 934.7M663.9 932.9L652.1 931.5M631.3 956.7L643.8 958.7M631.3 956.7L618.5 953.9M237.4 1023.6L228.4 1032.4M237.4 1023.6L243.8 1034.0M201.8 1029.6L196.7 1040.8M201.8 1029.6L202.5 1041.9M201.8 1029.6L210.2 1039.6M778.7 950.1L791.1 947.8M778.7 950.1L765.9 953.0M706.7 962.2L718.8 961.7M706.7 962.2L693.6 963.4M688.7 965.3L701.1 966.6M688.7 965.3L675.8 964.3M598.9 980.5L610.7 981.6M598.9 980.5L585.7 981.5M580.9 983.5L593.4 982.2M545.1 989.6L557.4 987.7M545.1 989.6L532.9 991.5M259.2 1038.2L267.3 1048.5M710.1 980.0L721.9 980.9M710.1 980.0L697.2 980.0M674.2 986.0L662.4 986.3M674.2 986.0L679.2 998.1M674.2 986.0L669.4 975.0M638.3 992.1L643.4 1003.4M602.4 998.2L590.4 997.8M566.5 1004.3L579.0 1004.0M713.5 997.7L717.4 1009.6M677.6 1003.8L673.5 992.6M659.6 1006.8L647.7 1004.9M641.7 1009.9L653.8 1012.3M605.9 1015.9L619.1 1015.6M534.3 1028.1L545.7 1025.3M338.1 1061.5L330.2 1070.4M231.4 1079.8L233.7 1092.1M698.9 1018.5L710.5 1019.7M681.0 1021.5L685.2 1032.7M591.5 1036.7L585.4 1025.9M359.6 1076.2L363.0 1088.3M253.0 1094.5L255.0 1106.6M253.0 1094.5L260.5 1105.5M738.1 1030.1L734.3 1018.6M702.3 1036.2L707.4 1047.5M702.3 1036.2L696.7 1025.2M684.4 1039.2L687.8 1050.6M666.5 1042.3L671.7 1054.4M666.5 1042.3L661.9 1031.2M648.6 1045.3L636.9 1043.7M648.6 1045.3L652.5 1057.1M630.7 1048.4L634.9 1059.4M203.7 1121.3L196.0 1130.5M203.7 1121.3L204.8 1133.4M759.3 1044.8L755.8 1032.8M741.4 1047.9L745.1 1059.4M741.4 1047.9L738.2 1036.5M652.1 1063.0L664.8 1064.7M616.4 1069.1L629.4 1069.2M616.4 1069.1L603.2 1068.9M616.4 1069.1L613.4 1057.3M509.4 1087.4L511.9 1099.1M225.3 1136.0L219.7 1146.9M816.3 1053.4L819.3 1065.4M816.3 1053.4L813.5 1041.9M566.4 1096.0L563.5 1084.6M548.6 1099.0L545.4 1087.5M246.9 1150.7L239.2 1160.0M676.8 1095.5L680.1 1107.4M587.7 1110.7L575.9 1112.4M569.9 1113.7L574.1 1124.7M250.8 1168.4L242.7 1177.0M250.8 1168.4L257.8 1178.5M591.2 1128.4L603.9 1128.5M591.2 1128.4L578.0 1127.3M237.0 1189.2L228.4 1197.4M201.7 1195.3L197.5 1206.6M630.3 1140.1L635.1 1152.0M630.3 1140.1L625.1 1128.5M364.4 1185.7L367.6 1197.0M293.8 1197.8L301.7 1208.4M633.7 1157.8L646.5 1158.5M633.7 1157.8L622.0 1156.9M598.3 1163.9L585.6 1163.3M562.8 1169.9L560.3 1158.1M368.2 1203.4L376.3 1212.0M315.2 1212.5L308.3 1222.1M297.6 1215.5L299.9 1227.7M601.8 1181.6L613.7 1181.7M601.8 1181.6L589.1 1181.4M605.3 1199.3L593.0 1199.6M569.9 1205.4L573.2 1218.1M608.7 1217.0L613.0 1229.1M591.1 1220.1L579.1 1223.6"/>
<path stroke="#00b1ff" d="M601.1 102.1L605.2 90.2M601.1 102.1L596.7 113.1M601.1 102.1L609.9 93.7M581.6 105.1L586.4 93.6M581.6 105.1L577.0 116.7M604.5 119.8L607.9 107.5M604.5 119.8L601.2 132.2M604.5 119.8L595.6 127.7M588.4 140.6L592.4 129.1M588.4 140.6L584.1 152.6M588.4 140.6L597.7 132.5M588.4 140.6L579.2 149.8M650.0 149.2L653.0 137.1M650.0 149.2L646.8 161.5M650.0 149.2L658.5 139.5M201.8 1029.6L193.5 1039.4M670.7 968.3L683.6 969.0M670.7 968.3L657.7 967.7M652.8 971.4L665.7 973.9M580.9 983.5L568.9 984.9M782.0 967.8L770.0 969.7M746.0 973.9L757.9 973.3M620.3 995.2L624.5 1006.9M209.7 1065.1L204.6 1076.5M623.8 1012.9L627.7 1024.5M605.9 1015.9L593.2 1016.0M698.9 1018.5L686.9 1016.5M663.1 1024.5L675.0 1026.1M663.1 1024.5L651.1 1022.2M627.3 1030.6L639.0 1032.4M627.3 1030.6L614.5 1029.0M791.9 1021.0L804.5 1018.0M648.6 1045.3L661.6 1046.4M630.7 1048.4L643.2 1050.2M630.7 1048.4L617.9 1045.7M630.7 1048.4L626.2 1036.3M595.0 1054.4L607.6 1054.6M595.0 1054.4L582.9 1055.8M652.1 1063.0L639.8 1061.6M652.1 1063.0L656.8 1075.2M652.1 1063.0L648.0 1051.1M616.4 1069.1L620.2 1080.5M509.4 1087.4L507.5 1075.1M798.4 1056.5L800.2 1068.3M780.6 1059.5L781.8 1047.1M744.8 1065.6L738.5 1055.5M691.2 1074.7L696.1 1086.2M584.2 1092.9L597.2 1091.1M584.2 1092.9L586.6 1105.6M566.4 1096.0L569.4 1107.8M623.3 1104.6L635.9 1105.1M623.3 1104.6L611.6 1103.9M623.3 1104.6L619.0 1093.5M587.7 1110.7L600.4 1109.0M569.9 1113.7L563.9 1103.2M805.0 1091.9L810.1 1081.2M272.3 1183.1L279.4 1193.4M630.3 1140.1L642.2 1141.0M630.3 1140.1L617.9 1140.2M612.5 1143.1L625.5 1142.2M612.5 1143.1L599.8 1143.7M541.5 1155.3L545.7 1167.5M541.5 1155.3L537.6 1143.0M364.4 1185.7L361.7 1198.2M258.5 1203.9L252.0 1214.0M616.0 1160.8L611.5 1149.0M580.5 1166.9L584.4 1179.5M580.5 1166.9L577.3 1154.0M619.5 1178.5L612.8 1167.3M601.8 1181.6L606.3 1193.9M601.8 1181.6L597.4 1169.6M584.0 1184.6L596.4 1184.1M584.0 1184.6L572.3 1186.5M623.0 1196.3L626.5 1207.9M605.3 1199.3L610.0 1211.0M605.3 1199.3L601.3 1188.0M587.6 1202.4L599.7 1200.4M587.6 1202.4L575.8 1205.1M587.6 1202.4L592.7 1214.1M626.4 1214.0L638.3 1214.7M626.4 1214.0L614.5 1213.7M591.1 1220.1L603.7 1218.1M591.1 1220.1L594.9 1231.9M591.1 1220.1L588.1 1207.6"/>
<path stroke="#00b200" d="M663.6 329.5L668.9 318.4M663.6 329.5L657.3 341.2M685.9 344.2L691.9 334.0M685.9 344.2L679.5 354.8M666.9 347.3L672.5 336.0M613.3 374.1L607.5 385.6M616.7 391.8L622.8 381.0M570.6 454.1L577.3 442.7M570.6 454.1L564.3 465.0M540.2 495.7L533.7 507.3M562.4 510.4L568.7 499.4M562.4 510.4L555.7 521.2M525.1 516.5L531.0 505.9M525.1 516.5L518.7 527.6M565.9 528.1L560.8 539.7M550.8 548.9L557.7 537.7M513.7 555.0L502.6 560.8M513.7 555.0L513.3 566.9M495.1 558.0L489.1 568.1M236.4 600.6L246.9 594.8M554.4 566.6L548.5 577.4M498.8 575.7L494.9 588.0M498.8 575.7L501.9 563.0M480.2 578.8L489.4 570.9M480.2 578.8L467.8 582.2M295.7 609.2L283.7 609.8M632.1 572.2L643.6 567.8M632.1 572.2L619.9 577.5M428.5 605.6L421.9 616.9M373.2 614.7L383.3 607.2M354.8 617.8L342.8 621.4M299.6 626.9L311.5 623.1M299.6 626.9L287.6 631.2M524.5 608.2L534.9 600.7M524.5 608.2L511.9 610.8M487.5 614.2L485.8 626.4M377.0 632.5L389.4 628.0M491.2 632.0L490.1 644.2M472.8 635.0L470.4 647.3M472.8 635.0L474.8 623.0M417.6 644.1L429.1 638.3M362.5 653.2L374.7 648.9M362.5 653.2L350.3 657.4M531.6 643.6L543.8 641.6M531.6 643.6L519.6 645.8M494.8 649.7L494.2 661.5M256.5 689.2L267.5 682.1M201.7 698.3L212.5 692.7M535.2 661.3L548.2 658.8M535.2 661.3L523.2 663.8M516.8 664.4L518.3 676.6M315.2 697.8L327.6 693.2M315.2 697.8L303.5 702.0M205.7 716.1L194.5 719.4M612.3 666.9L600.1 668.9M410.5 700.4L398.4 703.4M282.6 721.6L293.6 717.5M652.5 678.6L665.4 678.8M652.5 678.6L639.3 678.4M615.7 684.6L628.2 685.5M579.0 690.7L566.8 692.2M250.2 745.4L260.2 739.4M272.3 760.1L260.4 765.5M531.2 735.3L544.4 735.8M531.2 735.3L518.9 736.2M258.1 780.9L246.5 782.8M203.7 790.0L213.2 782.1M203.7 790.0L191.1 793.1M607.8 740.9L596.9 736.3M684.4 746.4L697.5 747.0M684.4 746.4L671.7 746.7M666.1 749.5L677.8 751.3M760.9 752.0L773.3 749.8M764.2 769.7L751.2 771.7M712.7 796.6L725.9 794.8M712.7 796.6L699.8 799.0M639.9 808.8L652.4 812.2M639.9 808.8L627.6 806.1M585.4 817.9L589.9 828.9M607.0 832.6L612.7 843.8M588.9 835.6L594.3 846.0M671.7 876.6L667.5 865.2M711.3 888.3L714.2 900.2M711.3 888.3L708.6 876.8M675.1 894.4L679.4 906.2M675.1 894.4L670.9 882.7M714.6 906.0L718.3 917.9"/>
<path stroke="#00bcff" d="M581.6 105.1L590.7 96.5M604.5 119.8L613.4 111.0M607.8 137.5L616.6 128.0M633.0 773.3L644.6 776.9M633.0 773.3L620.6 770.1M654.7 788.0L667.3 791.4M649.3 953.6L661.8 956.1M649.3 953.6L637.1 950.3M652.8 971.4L640.1 967.9M800.0 964.8L788.2 966.3M782.0 967.8L793.8 965.8M728.1 976.9L740.1 976.2M692.1 983.0L704.7 983.5M692.1 983.0L680.0 984.0M785.3 985.5L772.9 987.4M767.3 988.6L755.2 989.4M749.4 991.6L737.1 993.3M731.4 994.7L718.7 996.7M623.8 1012.9L636.5 1015.7M623.8 1012.9L611.9 1009.7M623.8 1012.9L620.3 1001.4M734.8 1012.4L747.1 1013.5M734.8 1012.4L722.3 1011.5M791.9 1021.0L779.3 1024.3M612.9 1051.4L625.7 1053.1M612.9 1051.4L600.8 1049.8M612.9 1051.4L617.2 1063.5M612.9 1051.4L608.1 1039.9M759.3 1044.8L746.5 1044.6M723.6 1050.9L718.5 1038.8M669.9 1060.0L674.8 1071.8M669.9 1060.0L665.7 1047.5M634.2 1066.1L638.8 1077.8M634.2 1066.1L629.2 1055.4M243.1 1133.0L239.3 1144.3M780.6 1059.5L781.4 1071.4M744.8 1065.6L751.5 1075.6M637.7 1083.8L643.4 1095.6M637.7 1083.8L632.1 1072.9M619.8 1086.9L632.8 1086.9M619.8 1086.9L607.8 1086.8M602.0 1089.9L605.4 1101.2M602.0 1089.9L598.6 1077.4M584.2 1092.9L572.0 1094.9M623.3 1104.6L628.1 1116.4M805.0 1091.9L803.4 1104.0M644.6 1119.3L649.1 1131.4M609.0 1125.4L621.5 1124.4M609.0 1125.4L596.6 1125.0M612.5 1143.1L617.0 1155.0M612.5 1143.1L608.7 1131.1M594.7 1146.1L591.2 1133.5M616.0 1160.8L620.6 1172.8M623.0 1196.3L635.1 1197.0M623.0 1196.3L619.8 1184.8M587.6 1202.4L582.9 1191.1M644.1 1211.0L649.4 1222.8M626.4 1214.0L631.0 1225.4M626.4 1214.0L621.3 1201.9"/>
<path stroke="#00c100" d="M666.9 347.3L660.9 358.8M670.2 365.0L677.1 354.4M670.2 365.0L663.5 375.9M632.3 371.1L637.9 359.6M632.3 371.1L626.4 382.0M613.3 374.1L619.9 362.9M620.1 409.6L625.1 397.9M620.1 409.6L615.0 420.8M601.3 412.6L607.3 400.8M601.3 412.6L595.6 424.2M585.9 433.4L591.4 421.3M585.9 433.4L580.2 444.4M574.1 471.9L580.1 461.6M577.6 489.6L584.6 479.9M577.6 489.6L569.9 499.8M581.1 507.3L590.6 500.6M543.8 513.4L550.8 502.2M543.8 513.4L536.9 524.6M565.9 528.1L571.3 517.2M550.8 548.9L543.8 559.2M532.3 551.9L541.2 543.2M532.3 551.9L520.7 556.7M554.4 566.6L560.4 555.6M535.8 569.6L542.8 559.6M295.7 609.2L307.0 602.8M520.9 590.4L520.3 602.9M520.9 590.4L521.3 578.2M483.9 596.5L481.2 608.4M506.0 611.2L504.9 623.6M509.6 628.9L508.6 641.9M509.6 628.9L512.2 616.1M417.6 644.1L406.3 647.1M494.8 649.7L495.4 637.1M329.6 677.0L341.7 674.0M329.6 677.0L317.7 679.9M274.7 686.2L262.3 689.8M590.4 652.2L602.3 651.4M590.4 652.2L577.6 651.7M205.7 716.1L217.7 710.7M612.3 666.9L625.3 665.0M502.1 685.1L503.8 698.1M282.6 721.6L271.0 726.1M228.0 730.8L216.1 734.7M615.7 684.6L603.5 683.5M505.7 702.9L507.4 715.3M545.9 714.5L550.7 725.8M545.9 714.5L541.6 703.4M622.7 720.1L609.6 718.0M567.7 729.2L579.5 729.3M567.7 729.2L554.5 729.1M531.2 735.3L535.4 747.8M644.4 734.8L657.0 737.5M644.4 734.8L632.7 732.1M607.8 740.9L620.1 745.2M666.1 749.5L653.7 747.4M229.8 822.4L218.5 827.0M687.8 764.2L699.5 764.7M687.8 764.2L674.8 764.1M596.5 779.4L608.6 782.9M596.5 779.4L584.8 775.5M578.3 782.4L584.5 793.2M764.2 769.7L776.6 767.8M603.5 814.8L609.4 825.6M603.5 814.8L597.4 804.3M625.2 829.5L632.3 840.7M625.2 829.5L618.7 818.5M650.2 861.9L656.3 873.3M650.2 861.9L643.4 852.1M693.2 891.3L697.4 903.6M693.2 891.3L690.0 878.8M768.9 896.9L766.8 884.1"/>
<path stroke="#00c8ff" d="M607.8 137.5L612.3 126.5M607.8 137.5L603.7 150.1M654.7 788.0L643.0 785.5M800.0 964.8L811.7 962.7M728.1 976.9L715.7 977.9M803.3 982.5L815.5 979.9M803.3 982.5L791.6 986.1M785.3 985.5L797.6 983.6M767.3 988.6L779.1 987.6M749.4 991.6L761.9 989.8M731.4 994.7L743.4 993.3M716.8 1015.4L729.9 1016.3M681.0 1021.5L694.1 1023.8M684.4 1039.2L671.8 1038.2M666.5 1042.3L678.9 1044.8M666.5 1042.3L654.1 1039.1M759.3 1044.8L771.2 1045.1M723.6 1050.9L711.3 1049.0M723.6 1050.9L728.2 1063.1M634.2 1066.1L646.9 1067.5M798.4 1056.5L787.2 1052.1M762.7 1062.5L775.4 1064.4M762.7 1062.5L757.9 1050.9M726.9 1068.6L718.3 1058.7M673.4 1077.7L678.2 1088.4M673.4 1077.7L669.2 1066.7M637.7 1083.8L650.5 1085.6M637.7 1083.8L625.0 1082.8M819.6 1071.2L811.3 1061.0M783.9 1077.2L775.7 1067.6M766.0 1080.3L774.9 1088.3M766.0 1080.3L756.6 1071.2M730.3 1086.4L733.0 1098.0M730.3 1086.4L728.6 1073.7M626.8 1122.3L622.5 1110.7M594.7 1146.1L597.7 1157.5M651.5 1154.7L646.1 1143.2M654.9 1172.5L642.6 1171.0M619.5 1178.5L632.6 1178.9M619.5 1178.5L607.6 1178.5M619.5 1178.5L625.3 1189.3M658.4 1190.2L646.3 1187.5M640.7 1193.2L629.2 1190.8M623.0 1196.3L610.3 1195.5"/>
<path stroke="#00d000" d="M348.6 141.6L338.7 134.2M275.4 171.5L267.2 162.5M284.3 298.6L273.1 293.9M682.6 326.5L687.8 315.2M682.6 326.5L676.4 338.1M651.2 368.0L656.3 357.0M635.6 388.8L629.6 400.3M604.7 430.3L611.6 419.6M608.1 448.1L613.9 437.5M592.8 468.8L598.8 458.6M574.1 471.9L567.3 483.1M596.3 486.6L594.9 498.8M599.7 504.3L605.9 493.4M599.7 504.3L593.5 516.0M581.1 507.3L586.9 496.5M581.1 507.3L575.6 518.4M584.5 525.1L578.1 536.1M547.3 531.1L554.6 520.3M528.7 534.2L536.1 524.3M528.7 534.2L522.2 545.3M510.1 537.2L515.9 526.7M510.1 537.2L503.8 548.1M569.4 545.8L568.4 558.6M572.9 563.6L584.7 557.6M572.9 563.6L562.7 569.4M535.8 569.6L528.3 580.2M557.9 584.3L569.3 579.8M373.2 614.7L361.7 617.7M506.0 611.2L507.3 598.1M311.3 680.1L323.2 676.1M311.3 680.1L299.1 683.0M201.7 698.3L190.9 703.1M572.0 655.3L584.8 653.5M572.0 655.3L559.2 656.8M630.7 663.9L642.6 663.5M630.7 663.9L618.2 664.6M505.7 702.9L503.8 690.3M619.2 702.4L631.4 704.1M619.2 702.4L606.2 700.5M622.7 720.1L635.6 721.6M531.2 735.3L526.1 723.8M662.7 731.8L674.9 733.4M662.7 731.8L650.3 730.0M556.6 767.7L553.3 755.3M578.3 782.4L572.6 772.1M581.8 800.1L586.7 810.8M734.2 811.3L721.5 813.1M646.8 844.2L651.9 855.0M646.8 844.2L641.2 833.2M768.9 896.9L771.6 908.6M750.8 899.9L753.4 912.9M750.8 899.9L748.3 887.4"/>
<path stroke="#00d3ff" d="M607.8 137.5L600.1 146.4M713.5 997.7L726.7 998.4M681.0 1021.5L668.7 1019.8M809.8 1018.0L821.8 1015.8M809.8 1018.0L796.8 1019.6M738.1 1030.1L750.1 1030.5M738.1 1030.1L726.4 1030.5M684.4 1039.2L697.3 1040.1M777.3 1041.8L765.2 1040.6M705.7 1053.9L718.1 1055.7M705.7 1053.9L693.0 1052.1M705.7 1053.9L710.4 1065.4M687.8 1057.0L687.9 1045.0M669.9 1060.0L681.6 1062.5M669.9 1060.0L657.7 1057.5M634.2 1066.1L621.3 1064.0M816.3 1053.4L828.7 1051.8M762.7 1062.5L750.7 1060.0M762.7 1062.5L766.5 1073.9M655.5 1080.8L668.4 1082.9M819.6 1071.2L826.7 1081.1M662.4 1116.2L668.1 1127.2M626.8 1122.3L614.9 1121.8M626.8 1122.3L631.4 1134.4M790.5 1112.7L798.1 1122.1M701.4 1127.9L713.8 1131.2M701.4 1127.9L707.1 1138.5M701.4 1127.9L695.5 1117.6M648.0 1137.0L660.6 1137.9M648.0 1137.0L635.0 1135.7M687.0 1148.7L676.0 1144.7M669.3 1151.7L681.4 1154.5M669.3 1151.7L656.9 1149.2M651.5 1154.7L664.0 1156.1M651.5 1154.7L640.0 1152.5M633.7 1157.8L638.3 1168.7M654.9 1172.5L667.6 1175.4M637.2 1175.5L649.4 1176.0M637.2 1175.5L641.3 1187.4M637.2 1175.5L633.3 1164.2M693.8 1184.1L706.1 1188.3M693.8 1184.1L681.7 1179.7M676.1 1187.2L663.8 1184.7M658.4 1190.2L670.5 1192.0M658.4 1190.2L662.9 1201.1M658.4 1190.2L655.3 1178.5M640.7 1193.2L653.4 1195.1M640.7 1193.2L645.4 1204.7M640.7 1193.2L635.0 1181.9M661.8 1207.9L667.0 1219.3"/>
<path stroke="#00deff" d="M713.5 997.7L700.6 997.7M806.6 1000.2L818.3 997.8M806.6 1000.2L794.2 1003.4M645.2 1027.6L657.0 1030.1M777.3 1041.8L789.9 1040.3M723.6 1050.9L735.5 1053.4M705.7 1053.9L700.4 1041.9M687.8 1057.0L699.4 1059.9M687.8 1057.0L676.8 1051.9M816.3 1053.4L804.2 1054.3M798.4 1056.5L810.5 1060.6M691.2 1074.7L678.4 1074.7M655.5 1080.8L660.2 1091.8M712.4 1089.4L718.6 1100.6M658.9 1098.5L654.9 1087.5M641.1 1101.6L636.1 1090.6M822.9 1088.9L826.1 1101.4M751.5 1101.0L764.0 1103.5M751.5 1101.0L738.8 1097.6M715.8 1107.1L728.8 1109.4M715.8 1107.1L703.0 1108.2M715.8 1107.1L721.9 1118.3M680.2 1113.2L685.8 1124.2M662.4 1116.2L650.3 1114.5M662.4 1116.2L656.3 1104.5M626.8 1122.3L640.0 1122.6M701.4 1127.9L688.7 1124.7M683.6 1130.9L688.9 1141.7M683.6 1130.9L678.6 1119.7M665.8 1134.0L678.8 1135.9M665.8 1134.0L653.2 1131.8M648.0 1137.0L653.0 1148.1M648.0 1137.0L643.5 1125.6M776.0 1133.5L765.6 1127.5M740.4 1139.5L744.6 1152.1M687.0 1148.7L698.7 1150.7M669.3 1151.7L674.5 1163.1M669.3 1151.7L664.1 1139.5M633.7 1157.8L628.7 1145.6M708.2 1163.3L696.4 1161.2M672.7 1169.4L677.6 1180.4M672.7 1169.4L668.3 1158.5M654.9 1172.5L660.3 1184.6M637.2 1175.5L624.2 1174.9M711.6 1181.1L723.0 1185.7M676.1 1187.2L688.0 1189.7M732.7 1195.8L728.7 1183.5M697.3 1201.8L699.8 1214.5M679.5 1204.9L667.4 1201.8M679.5 1204.9L685.3 1215.1M661.8 1207.9L657.0 1197.0"/>
<path stroke="#00e000" d="M387.0 227.2L375.8 223.4M242.3 287.0L231.0 282.0M398.3 372.1L387.3 367.3M689.1 361.9L694.6 350.3M689.1 361.9L684.4 374.1M651.2 368.0L645.7 379.4M692.4 379.7L697.3 368.6M692.4 379.7L688.2 391.1M673.4 382.7L678.1 372.0M673.4 382.7L668.7 394.3M654.5 385.8L660.8 374.2M654.5 385.8L648.9 396.6M635.6 388.8L641.2 377.8M639.0 406.5L645.0 394.7M639.0 406.5L633.5 418.2M604.7 430.3L597.4 440.6M608.1 448.1L602.3 459.4M592.8 468.8L585.9 480.1M633.7 480.5L627.4 490.9M618.4 501.3L625.9 490.5M584.5 525.1L590.9 514.0M547.3 531.1L539.9 540.2M588.0 542.8L585.6 555.7M569.4 545.8L578.0 536.3M569.4 545.8L558.5 553.2M557.9 584.3L547.2 589.5M542.9 605.1L540.9 618.0M620.4 610.7L631.8 607.8M252.5 671.5L263.5 666.2M252.5 671.5L240.2 675.2M642.3 625.4L655.4 623.6M642.3 625.4L630.3 627.6M605.4 631.4L617.2 628.9M605.4 631.4L592.8 634.1M649.1 660.8L636.3 663.4M575.5 673.0L588.6 671.9M575.5 673.0L562.3 674.1M502.1 685.1L499.7 673.4M542.3 696.8L545.5 708.1M637.6 699.3L649.8 702.0M553.0 750.0L559.7 760.0M553.0 750.0L545.1 739.3M721.0 740.4L733.8 739.0M721.0 740.4L709.2 741.6M556.6 767.7L559.6 779.4M581.8 800.1L576.0 788.3M734.2 811.3L747.0 810.1M755.7 826.0L768.5 822.7M755.7 826.0L743.8 829.4M664.9 841.2L670.8 852.7M664.9 841.2L658.5 830.2M726.1 867.5L729.8 878.6M729.4 885.2L733.8 897.7M729.4 885.2L725.8 873.4M787.0 893.9L789.4 906.1M787.0 893.9L784.1 881.0M732.7 903.0L736.3 915.0M732.7 903.0L729.2 890.7"/>
<path stroke="#00e9ff" d="M788.6 1003.3L800.3 1001.2M788.6 1003.3L776.7 1005.9M752.7 1009.4L765.2 1008.0M752.7 1009.4L739.9 1011.2M645.2 1027.6L633.6 1024.8M720.2 1033.2L733.3 1034.9M720.2 1033.2L707.9 1031.3M744.8 1065.6L755.0 1072.1M709.1 1071.7L706.3 1058.7M673.4 1077.7L686.2 1080.2M673.4 1077.7L661.6 1075.5M655.5 1080.8L651.1 1069.3M748.1 1083.3L760.2 1085.8M748.1 1083.3L741.4 1073.5M730.3 1086.4L742.0 1089.1M712.4 1089.4L710.0 1076.8M694.6 1092.4L701.9 1101.9M694.6 1092.4L684.9 1085.8M676.8 1095.5L688.1 1099.8M658.9 1098.5L671.2 1100.1M658.9 1098.5L645.9 1096.2M658.9 1098.5L662.8 1110.6M641.1 1101.6L645.9 1113.5M822.9 1088.9L820.1 1076.9M805.0 1091.9L792.4 1089.1M787.2 1095.0L795.0 1105.2M733.6 1104.1L745.7 1106.5M733.6 1104.1L720.5 1103.3M715.8 1107.1L708.7 1097.2M698.0 1110.2L700.1 1098.3M680.2 1113.2L674.7 1101.1M662.4 1116.2L674.2 1118.3M790.5 1112.7L779.6 1108.2M772.6 1115.7L785.3 1118.5M772.6 1115.7L760.9 1116.0M772.6 1115.7L775.9 1127.7M683.6 1130.9L696.1 1132.9M683.6 1130.9L671.2 1129.4M776.0 1133.5L788.2 1137.3M776.0 1133.5L783.3 1143.6M740.4 1139.5L728.4 1139.1M740.4 1139.5L733.6 1129.6M704.8 1145.6L712.2 1156.1M704.8 1145.6L699.6 1133.9M687.0 1148.7L694.4 1158.8M687.0 1148.7L682.0 1137.6M690.4 1166.4L694.3 1178.0M654.9 1172.5L650.1 1161.5M764.8 1172.0L778.1 1172.8M711.6 1181.1L701.7 1174.1M732.7 1195.8L740.9 1205.2M697.3 1201.8L695.6 1189.4M679.5 1204.9L692.1 1207.9M661.8 1207.9L673.6 1210.7M718.4 1216.5L730.3 1218.3M700.7 1219.6L689.7 1223.8"/>
<path stroke="#00f000" d="M642.3 424.3L649.0 413.0M642.3 424.3L635.6 435.3M623.5 427.3L617.4 437.3M630.3 462.8L623.8 472.6M611.6 465.8L617.9 455.4M596.3 486.6L604.6 477.2M596.3 486.6L585.0 493.1M618.4 501.3L611.7 511.2M572.9 563.6L572.2 575.7M561.4 602.1L573.9 598.3M561.4 602.1L549.1 607.1M542.9 605.1L545.1 593.1M524.5 608.2L524.6 620.1M620.4 610.7L607.5 613.9M546.5 622.8L546.9 635.9M546.5 622.8L546.1 610.9M528.1 625.9L526.6 638.2M531.6 643.6L533.4 656.6M531.6 643.6L529.6 631.3M535.2 661.3L536.9 674.0M535.2 661.3L533.8 648.4M649.1 660.8L661.6 658.5M538.8 679.1L541.2 690.5M538.8 679.1L535.3 666.8M637.6 699.3L624.7 697.6M564.2 711.5L559.3 699.7M641.0 717.1L652.4 720.3M641.0 717.1L628.5 714.1M549.5 732.3L553.8 743.9M549.5 732.3L546.1 720.3M574.8 764.7L580.2 776.4M574.8 764.7L569.1 754.1M742.6 755.0L755.2 752.6M600.0 797.1L605.6 808.5M726.1 867.5L722.3 855.7M747.5 882.2L749.8 894.2"/>
<path stroke="#00f4ff" d="M770.6 1006.3L783.7 1004.8M770.6 1006.3L759.1 1008.4M756.0 1027.1L769.2 1026.4M756.0 1027.1L743.9 1027.2M795.2 1038.7L806.9 1037.0M795.2 1038.7L783.1 1041.4M741.4 1047.9L753.6 1049.5M744.8 1065.6L734.9 1057.6M691.2 1074.7L702.9 1076.0M748.1 1083.3L735.1 1085.3M730.3 1086.4L718.5 1083.9M712.4 1089.4L701.7 1084.3M676.8 1095.5L665.3 1091.3M641.1 1101.6L654.1 1103.4M641.1 1101.6L629.0 1099.6M805.0 1091.9L817.0 1096.9M751.5 1101.0L741.0 1094.8M698.0 1110.2L708.7 1115.1M698.0 1110.2L686.9 1105.3M698.0 1110.2L699.9 1123.2M790.5 1112.7L802.0 1116.9M754.8 1118.8L750.2 1106.8M719.2 1124.9L731.5 1128.9M811.6 1127.4L814.9 1139.8M811.6 1127.4L806.7 1116.5M793.8 1130.4L791.9 1115.9M758.2 1136.5L748.2 1128.5M740.4 1139.5L751.7 1142.4M704.8 1145.6L693.3 1140.8M779.3 1151.2L792.1 1154.4M743.7 1157.3L745.6 1144.2M708.2 1163.3L720.6 1162.9M690.4 1166.4L685.1 1154.4M729.3 1178.0L731.9 1190.0M715.0 1198.8L709.4 1188.2M697.3 1201.8L709.7 1204.1M697.3 1201.8L684.9 1199.0M661.8 1207.9L649.8 1204.2M718.4 1216.5L706.1 1215.3"/>
<path stroke="#00ffff" d="M773.9 1024.0L787.0 1022.6M773.9 1024.0L761.4 1025.4M702.3 1036.2L714.1 1038.1M741.4 1047.9L729.7 1046.1M819.6 1071.2L807.4 1075.3M801.7 1074.2L803.5 1087.3M766.0 1080.3L753.6 1076.5M712.4 1089.4L723.4 1094.6M822.9 1088.9L811.1 1087.8M787.2 1095.0L780.4 1084.1M769.3 1098.0L781.0 1094.0M769.3 1098.0L758.0 1101.1M769.3 1098.0L764.2 1087.0M680.2 1113.2L693.1 1115.6M680.2 1113.2L667.9 1111.2M826.1 1106.6L827.2 1093.2M754.8 1118.8L764.5 1125.9M754.8 1118.8L744.8 1111.1M737.0 1121.8L724.5 1121.5M719.2 1124.9L708.0 1119.5M719.2 1124.9L723.0 1136.5M719.2 1124.9L715.9 1112.9M665.8 1134.0L670.9 1144.9M665.8 1134.0L660.7 1121.9M793.8 1130.4L796.3 1141.3M758.2 1136.5L746.5 1131.6M758.2 1136.5L764.6 1147.4M722.6 1142.6L735.6 1144.8M704.8 1145.6L716.2 1150.4M761.5 1154.2L754.5 1144.2M743.7 1157.3L745.5 1169.2M782.6 1168.9L784.5 1154.1M764.8 1172.0L753.6 1168.3M764.8 1172.0L757.2 1162.5M747.1 1175.0L756.9 1183.5M747.1 1175.0L738.8 1165.4M693.8 1184.1L699.9 1194.3M693.8 1184.1L687.6 1173.2M676.1 1187.2L679.8 1199.9M676.1 1187.2L673.8 1174.5M785.9 1186.6L800.6 1189.2M768.2 1189.7L780.5 1192.4M768.2 1189.7L755.8 1186.4M750.4 1192.7L756.3 1202.9M715.0 1198.8L719.5 1209.7M644.1 1211.0L656.4 1211.0M736.1 1213.5L723.8 1210.5M718.4 1216.5L727.2 1225.9M718.4 1216.5L708.4 1208.0M700.7 1219.6L713.0 1218.0"/>
<path stroke="#383838" d="M677.6 1003.8L690.1 1005.6M677.6 1003.8L665.9 1002.2M702.3 1036.2L690.0 1034.4M813.1 1035.7L801.2 1038.3M726.9 1068.6L739.4 1071.2M709.1 1071.7L721.2 1073.9M801.7 1074.2L814.2 1077.0M801.7 1074.2L790.4 1070.8M801.7 1074.2L800.0 1062.5M783.9 1077.2L795.6 1081.8M766.0 1080.3L778.9 1083.5M751.5 1101.0L761.1 1109.0M644.6 1119.3L657.2 1120.1M644.6 1119.3L632.1 1119.2M826.1 1106.6L827.7 1121.2M808.3 1109.7L821.2 1107.8M808.3 1109.7L795.8 1112.4M737.0 1121.8L750.0 1122.2M737.0 1121.8L731.9 1111.1M811.6 1127.4L824.4 1129.3M811.6 1127.4L799.5 1123.2M793.8 1130.4L807.0 1127.0M793.8 1130.4L782.3 1137.7M758.2 1136.5L770.3 1139.6M722.6 1142.6L725.5 1155.3M797.1 1148.1L800.8 1158.2M797.1 1148.1L806.4 1136.6M779.3 1151.2L768.8 1149.8M761.5 1154.2L766.5 1165.2M726.0 1160.3L735.6 1168.6M708.2 1163.3L715.5 1174.2M690.4 1166.4L703.0 1170.2M672.7 1169.4L660.8 1166.1M782.6 1168.9L791.9 1181.2M747.1 1175.0L753.2 1186.1M747.1 1175.0L739.6 1165.6M711.6 1181.1L720.8 1188.7M711.6 1181.1L700.4 1176.9M750.4 1192.7L745.4 1182.1M732.7 1195.8L744.9 1197.1M644.1 1211.0L631.6 1210.3M789.2 1204.4L788.8 1216.7M736.1 1213.5L748.5 1216.0M736.1 1213.5L745.2 1221.1M700.7 1219.6L708.9 1228.1M700.7 1219.6L690.3 1212.5"/>
<path stroke="#404040" d="M813.1 1035.7L825.1 1033.4M726.9 1068.6L713.7 1066.9M819.6 1071.2L831.8 1068.8M783.9 1077.2L772.6 1071.5M694.6 1092.4L705.0 1098.9M694.6 1092.4L684.2 1086.6M822.9 1088.9L835.5 1089.5M787.2 1095.0L799.2 1099.5M787.2 1095.0L776.0 1090.1M737.0 1121.8L743.3 1133.2M829.4 1124.3L837.3 1134.8M722.6 1142.6L710.8 1141.3M722.6 1142.6L720.7 1130.9M832.7 1142.1L828.8 1129.8M832.7 1142.1L834.3 1152.0M797.1 1148.1L784.3 1147.5M761.5 1154.2L771.5 1161.7M761.5 1154.2L751.0 1146.6M743.7 1157.3L755.6 1156.4M743.7 1157.3L731.0 1158.2M690.4 1166.4L678.4 1163.0M672.7 1169.4L685.5 1172.3M800.4 1165.9L806.2 1177.7M782.6 1168.9L770.0 1173.1M764.8 1172.0L773.6 1182.0M729.3 1178.0L720.0 1169.9M768.2 1189.7L761.9 1179.0M750.4 1192.7L761.2 1198.2M750.4 1192.7L738.9 1188.5M732.7 1195.8L720.4 1193.8M715.0 1198.8L726.7 1200.4M715.0 1198.8L703.0 1195.8M789.2 1204.4L804.2 1207.2M771.5 1207.4L781.9 1213.7M771.5 1207.4L761.6 1198.8M753.8 1210.5L756.8 1222.4M736.1 1213.5L727.4 1204.0M828.0 1216.0L816.0 1218.5M810.3 1219.1L807.9 1234.1M810.3 1219.1L821.7 1212.1M810.3 1219.1L800.2 1208.0"/>
<path stroke="#484848" d="M780.6 1059.5L793.3 1059.6M733.6 1104.1L740.0 1114.7M808.3 1109.7L803.3 1098.5M829.4 1124.3L841.9 1127.7M829.4 1124.3L821.2 1114.8M726.0 1160.3L715.2 1154.1M835.9 1159.8L831.4 1148.2M818.1 1162.8L811.9 1170.8M818.1 1162.8L811.6 1150.2M803.7 1183.6L816.6 1185.3M803.7 1183.6L792.1 1178.5M803.7 1183.6L810.2 1193.8M785.9 1186.6L782.8 1177.0M785.9 1186.6L777.9 1199.0M824.7 1198.3L830.6 1210.7M807.0 1201.3L815.3 1211.1M807.0 1201.3L799.7 1191.9M789.2 1204.4L794.2 1193.9M789.2 1204.4L777.6 1201.9M771.5 1207.4L768.3 1196.0M753.8 1210.5L749.7 1198.6"/>
<path stroke="#4d1b16" d="M729.4 684.1L732.2 696.8M732.7 701.9L729.3 690.0M754.4 716.6L756.8 728.0"/>
<path stroke="#505050" d="M780.6 1059.5L768.1 1058.5M709.1 1071.7L696.3 1070.7M829.4 1124.3L817.8 1119.5M835.9 1159.8L840.4 1171.6M800.4 1165.9L788.2 1161.7M729.3 1178.0L740.1 1185.3M839.2 1177.5L835.5 1165.1M821.4 1180.6L833.7 1185.4M821.4 1180.6L810.6 1173.9M821.4 1180.6L829.0 1191.3M821.4 1180.6L811.3 1174.4M803.7 1183.6L800.2 1171.1M824.7 1198.3L833.1 1188.9M845.7 1213.0L843.7 1197.2M828.0 1216.0L825.7 1228.8"/>
<path stroke="#585858" d="M814.9 1145.1L822.3 1157.1M835.9 1159.8L846.3 1165.4M835.9 1159.8L825.5 1152.1M818.1 1162.8L832.0 1158.8M800.4 1165.9L812.4 1166.9M842.4 1195.3L846.2 1183.4M842.4 1195.3L831.7 1191.2M842.4 1195.3L854.1 1193.1M824.7 1198.3L810.4 1197.8M753.8 1210.5L763.9 1217.5M828.0 1216.0L825.7 1204.0M828.0 1216.0L841.4 1215.0"/>
<path stroke="#5a261d" d="M716.3 613.2L717.6 626.1M701.1 634.0L702.7 646.0M701.1 634.0L698.8 621.7M732.7 701.9L735.7 714.1"/>
<path stroke="#606060" d="M814.9 1145.1L821.5 1132.7M726.0 1160.3L731.3 1171.5M726.0 1160.3L720.0 1150.0M839.2 1177.5L851.5 1180.5M839.2 1177.5L827.7 1173.6M807.0 1201.3L818.1 1207.6M807.0 1201.3L795.6 1195.7M845.7 1213.0L834.6 1221.6M845.7 1213.0L852.2 1226.2M845.7 1213.0L857.8 1205.3"/>
<path stroke="#663223" d="M716.3 613.2L715.1 601.3M704.4 651.7L708.3 664.3M704.4 651.7L700.3 639.9M707.7 669.4L710.7 681.2M707.7 669.4L703.7 658.2"/>
<path stroke="#686868" d="M842.4 1195.3L845.6 1209.9M753.8 1210.5L743.6 1203.1"/>
<path stroke="#707070" d="M814.9 1145.1L801.9 1150.2"/>
<path stroke="#733d2a" d="M731.5 592.4L730.6 580.4"/>
<path stroke="#804830" d="M731.5 592.4L732.7 605.4"/>
<path stroke="#8d5336" d="M711.0 687.2L713.9 698.6M711.0 687.2L707.8 675.0M714.4 704.9L717.5 717.5M714.4 704.9L711.7 692.2"/>
<path stroke="#9a5e3d" d="M686.0 654.8L690.0 667.0M736.0 719.6L738.7 731.5"/>
<path stroke="#a66a43" d="M697.8 616.2L700.2 629.0M682.6 637.0L685.2 649.1M686.0 654.8L680.9 642.9"/>
<path stroke="#b3754a" d="M697.8 616.2L695.8 603.4M682.6 637.0L680.0 625.5M689.3 672.5L691.7 684.6M689.3 672.5L687.2 660.3M757.6 734.3L755.2 721.8"/>
<path stroke="#b900d3" d="M744.6 663.4L747.5 675.7"/>
<path stroke="#c08050" d="M657.4 604.6L655.1 592.7M679.3 619.3L680.5 631.7M679.3 619.3L678.6 606.8M707.7 669.4L720.4 666.6M707.7 669.4L695.6 672.0M711.0 687.2L723.6 684.0M711.0 687.2L698.7 689.4M692.7 690.2L695.4 702.0M692.7 690.2L689.4 678.1M717.7 722.6L721.0 734.1M717.7 722.6L714.6 711.0M760.9 752.0L764.0 764.2M760.9 752.0L758.7 739.4"/>
<path stroke="#c200d8" d="M744.6 663.4L741.7 650.5"/>
<path stroke="#cb00de" d="M738.1 627.9L739.3 640.7M738.1 627.9L737.4 615.5M741.3 645.6L744.0 657.1M741.3 645.6L738.9 633.7M747.8 681.1L749.6 693.9M747.8 681.1L746.1 669.1"/>
<path stroke="#dc00e9" d="M719.6 630.9L721.0 642.8M719.6 630.9L718.6 618.7M726.1 666.4L728.2 679.4M726.1 666.4L724.0 654.1"/>
<path stroke="#e500ee" d="M722.9 648.7L725.4 661.5M722.9 648.7L720.6 635.9"/>
<path stroke="#e83901" d="M672.6 583.8L677.5 573.0M672.6 583.8L667.2 595.8M731.5 592.4L743.7 588.3M731.5 592.4L720.0 596.7M601.9 613.7L600.1 600.6M738.1 627.9L725.7 632.2M692.7 690.2L681.0 691.1M751.1 698.8L762.9 696.4M751.1 698.8L738.5 702.1M622.7 720.1L628.4 731.8M622.7 720.1L616.7 708.8M626.1 737.8L620.2 726.7M629.6 755.6L623.2 744.6M730.9 793.6L727.4 781.4M716.0 814.3L719.7 826.0M716.0 814.3L712.7 802.0M773.9 822.9L770.3 810.3M755.7 826.0L753.1 813.6"/>
<path stroke="#eb4202" d="M706.4 560.0L700.7 571.0M601.9 613.7L602.9 626.4M738.1 627.9L749.3 624.0M667.5 657.8L655.9 660.4M692.7 690.2L704.9 689.4"/>
<path stroke="#ee00f4" d="M734.8 610.2L736.1 622.3M734.8 610.2L733.3 597.2M751.1 698.8L750.5 687.1"/>
<path stroke="#ee4c03" d="M706.4 560.0L711.7 547.8M654.0 586.9L648.4 597.3M635.5 589.9L629.0 599.8M617.0 593.0L621.6 582.0M617.0 593.0L611.9 604.3M686.0 654.8L698.0 652.9M686.0 654.8L673.8 655.3M667.5 657.8L679.6 655.1M593.9 670.0L598.1 680.9M593.9 670.0L589.7 658.0M629.6 755.6L635.6 765.9M755.7 826.0L758.7 837.9"/>
<path stroke="#f05504" d="M721.7 539.2L726.2 528.2M725.0 557.0L719.3 568.8M687.8 563.1L681.6 573.8M654.0 586.9L660.6 575.7M635.5 589.9L642.7 579.1M583.4 616.8L583.7 628.6M583.4 616.8L584.9 604.4M586.9 634.5L588.8 646.3M586.9 634.5L584.8 621.7M719.6 630.9L731.1 626.9M719.6 630.9L707.1 634.3M590.4 652.2L593.4 664.7M590.4 652.2L588.1 640.7M722.9 648.7L710.9 651.5M604.3 723.1L609.7 735.0M604.3 723.1L599.3 712.0M754.4 716.6L767.1 712.6M754.4 716.6L742.7 719.6M702.7 743.4L715.5 740.8M702.7 743.4L691.1 745.5M654.7 788.0L648.7 776.3M676.3 802.7L681.2 814.0M676.3 802.7L671.4 790.9M734.2 811.3L738.5 823.6M734.2 811.3L729.3 800.6"/>
<path stroke="#f25e05" d="M721.7 539.2L716.6 551.3M725.0 557.0L730.7 546.2M687.8 563.1L693.9 552.9M716.3 613.2L704.3 618.4M722.9 648.7L735.6 646.1M726.1 666.4L738.3 664.0M747.8 681.1L760.3 679.2M747.8 681.1L735.3 682.4M654.7 788.0L660.3 798.6"/>
<path stroke="#f56706" d="M715.2 503.8L709.1 514.0M718.5 521.5L724.7 510.6M718.5 521.5L712.4 532.5M632.1 572.2L632.5 585.3M632.1 572.2L631.4 560.4M716.3 613.2L728.5 608.7M741.3 645.6L753.0 641.1M741.3 645.6L729.8 651.2M726.1 666.4L713.1 668.4M600.9 705.4L605.3 716.8M600.9 705.4L596.6 694.0M714.4 704.9L702.9 708.1M697.9 817.4L701.2 829.4"/>
<path stroke="#f600fa" d="M751.1 698.8L753.4 711.4"/>
<path stroke="#f87007" d="M715.2 503.8L721.4 493.4M703.1 542.3L708.3 531.7M703.1 542.3L697.7 553.7M669.2 566.1L675.1 555.2M669.2 566.1L663.6 577.5M734.8 610.2L722.7 613.8M704.4 651.7L716.1 648.2M729.4 684.1L742.0 682.0M729.4 684.1L717.2 686.6M714.4 704.9L726.1 702.4M736.0 719.6L748.3 717.4M736.0 719.6L723.8 721.4M697.9 817.4L694.6 806.0"/>
<path stroke="#fa7a08" d="M712.0 486.1L707.6 498.0M613.5 575.2L612.8 588.2M675.9 601.6L663.6 604.9M734.8 610.2L746.7 605.9M679.3 619.3L667.5 623.5M607.8 740.9L612.8 751.9M607.8 740.9L601.7 729.6M611.3 758.6L605.2 748.2M737.6 829.0L735.5 816.8M777.2 840.7L779.9 852.2"/>
<path stroke="#fc8309" d="M699.8 524.6L705.5 514.2M699.8 524.6L693.8 535.3M684.5 545.3L690.2 534.0M650.6 569.1L645.5 579.6M598.4 596.0L604.2 585.6M598.4 596.0L592.0 607.5M675.9 601.6L688.2 597.5M679.3 619.3L691.0 614.5M660.8 622.3L672.9 619.6M674.3 693.2L686.3 693.2M674.3 693.2L661.7 693.5M611.3 758.6L617.9 769.4M633.0 773.3L627.1 762.4M658.1 805.7L663.3 817.5M658.1 805.7L653.0 793.9M737.6 829.0L740.0 840.6M777.2 840.7L773.8 827.8"/>
<path stroke="#ff00ff" d="M729.4 684.1L726.9 672.0M754.4 716.6L752.0 704.4"/>
<path stroke="#ff0402" d="M713.0 595.5L719.4 585.2M713.0 595.5L706.5 606.6M694.4 598.5L688.3 608.9M657.4 604.6L658.8 616.9M757.6 734.3L760.6 745.9M739.3 737.3L742.4 749.4M739.3 737.3L734.9 725.4"/>
<path stroke="#ff0805" d="M694.4 598.5L701.0 587.6M675.9 601.6L676.7 613.4M675.9 601.6L674.5 588.9M696.0 707.9L698.9 719.5M696.0 707.9L693.1 695.8M699.3 725.7L703.6 738.2M699.3 725.7L694.8 714.5"/>
<path stroke="#ff0d07" d="M709.7 577.8L720.5 572.0M660.8 622.3L659.1 610.2M667.5 657.8L670.9 670.6M744.6 663.4L756.2 660.2M670.9 675.5L674.6 687.8M670.9 675.5L667.1 663.9M742.6 755.0L744.9 766.9M724.3 758.1L727.0 769.8M745.9 772.8L742.9 761.4"/>
<path stroke="#ff110a" d="M660.8 622.3L662.5 635.0M645.7 643.1L648.9 654.5M645.7 643.1L642.1 631.6M667.5 657.8L663.9 645.4M744.6 663.4L733.1 666.4M674.3 693.2L671.1 681.0M677.6 711.0L681.9 722.9M721.0 740.4L724.7 752.3M721.0 740.4L717.5 728.7M684.4 746.4L688.8 758.1M684.4 746.4L680.7 734.6M666.1 749.5L660.8 739.0M724.3 758.1L721.8 746.5M706.0 761.1L701.5 749.0M687.8 764.2L692.6 776.1M687.8 764.2L683.4 752.1M764.2 769.7L767.3 781.8M745.9 772.8L748.6 785.0"/>
<path stroke="#ff150c" d="M649.1 660.8L647.1 648.7M674.3 693.2L678.2 705.4M681.0 728.7L685.7 741.0M681.0 728.7L675.8 716.6M666.1 749.5L671.4 761.3M706.0 761.1L710.0 773.2M764.2 769.7L760.9 757.0M767.4 787.5L765.7 775.9M749.2 790.5L752.3 801.9M752.5 808.2L748.8 797.0"/>
<path stroke="#ff190e" d="M709.7 577.8L716.1 566.8M664.2 640.1L666.3 652.4M664.2 640.1L661.8 628.1M649.1 660.8L651.8 673.4M655.9 696.3L660.8 707.6M655.9 696.3L650.9 684.0M662.7 731.8L657.4 720.1M702.7 743.4L699.2 731.4M669.5 767.2L674.1 778.1M767.4 787.5L770.1 800.1M770.7 805.2L772.6 817.1M770.7 805.2L768.7 792.6"/>
<path stroke="#ff1d11" d="M728.3 574.7L732.9 562.7M728.3 574.7L722.9 586.7M709.7 577.8L704.4 588.4M691.1 580.8L690.8 593.2M638.9 607.6L640.2 619.7M638.9 607.6L637.3 595.2M623.8 628.4L625.9 640.3M623.8 628.4L621.6 615.6M630.7 663.9L633.8 676.4M652.5 678.6L656.9 690.1M637.6 699.3L642.9 710.9M662.7 731.8L668.2 743.2M644.4 734.8L649.6 746.0M651.2 770.2L645.1 759.8M727.6 775.8L731.0 788.5M727.6 775.8L725.0 763.4M691.1 781.9L695.5 794.1M752.5 808.2L755.7 821.0"/>
<path stroke="#ff2213" d="M691.1 580.8L691.0 567.8M642.3 625.4L645.1 638.0M642.3 625.4L640.2 612.7M627.3 646.1L629.6 659.0M627.3 646.1L624.9 633.3M608.8 649.2L611.3 660.9M630.7 663.9L626.7 651.7M652.5 678.6L648.5 666.8M634.1 681.6L629.6 670.4M615.7 684.6L620.2 696.0M615.7 684.6L610.4 673.5M597.4 687.7L593.0 675.3M637.6 699.3L632.6 688.4M619.2 702.4L613.1 690.8M659.3 714.0L663.8 725.2M659.3 714.0L654.0 702.0M641.0 717.1L635.9 706.3M644.4 734.8L638.3 724.3M651.2 770.2L657.2 781.5M694.5 799.6L697.5 811.2M694.5 799.6L691.3 787.2"/>
<path stroke="#ff2616" d="M691.1 580.8L679.2 586.5M620.4 610.7L621.3 622.9M605.4 631.4L607.4 644.0M605.4 631.4L603.9 618.3M608.8 649.2L606.2 636.9M612.3 666.9L609.9 654.2M634.1 681.6L638.8 693.3M619.2 702.4L625.2 714.1M641.0 717.1L645.9 727.7M626.1 737.8L631.9 748.3M647.8 752.5L653.3 762.9M647.8 752.5L642.2 741.5M691.1 781.9L687.0 770.3M672.9 784.9L668.5 773.9M712.7 796.6L709.6 784.5"/>
<path stroke="#ff2a18" d="M691.1 580.8L702.8 575.3M620.4 610.7L618.9 597.9M701.1 634.0L712.7 631.6M701.1 634.0L688.1 636.3M612.3 666.9L615.0 679.0M597.4 687.7L601.2 700.0M709.4 778.9L713.6 790.3M709.4 778.9L705.3 767.7M672.9 784.9L678.2 795.9M730.9 793.6L733.9 805.1M712.7 796.6L715.4 808.9M773.9 822.9L776.7 834.5"/>
<path stroke="#ff8c0a" d="M712.0 486.1L716.7 474.3M696.5 506.8L702.9 495.6M684.5 545.3L678.8 555.9M650.6 569.1L656.1 557.8M660.8 622.3L648.5 624.6M582.5 708.5L585.9 720.1M696.0 707.9L682.8 707.2M633.0 773.3L638.3 784.7M636.4 791.0L642.0 801.8M719.4 832.1L722.8 844.7"/>
<path stroke="#ffc604" d="M705.4 450.6L711.6 438.9M705.4 450.6L699.3 461.5M696.5 506.8L690.7 517.2M681.2 527.6L687.1 516.8M681.2 527.6L675.1 538.2M579.9 599.0L581.3 587.3M579.0 690.7L583.1 702.5M579.0 690.7L572.5 679.6M582.5 708.5L579.5 695.9M696.0 707.9L707.8 707.8M717.7 722.6L730.4 720.5M717.7 722.6L705.7 725.0M636.4 791.0L630.8 780.2M679.7 820.4L684.4 831.7M719.4 832.1L716.3 820.1M759.0 843.7L761.8 856.7M759.0 843.7L756.1 831.7"/>
<path stroke="#ffcd08" d="M708.7 468.3L713.9 457.2M689.9 471.4L695.1 460.8M689.9 471.4L684.6 483.2M693.2 489.1L687.7 500.6M674.5 492.1L668.4 502.8M677.8 509.9L671.7 521.6M662.5 530.6L669.1 519.2M662.5 530.6L656.4 541.6M595.0 578.3L596.0 590.9M579.9 599.0L578.3 611.5M697.8 616.2L709.0 612.3M697.8 616.2L686.1 620.1M689.3 672.5L701.4 670.7M586.0 726.2L592.9 737.0M586.0 726.2L578.9 716.9M679.7 820.4L674.4 809.4"/>
<path stroke="#ffd30c" d="M702.2 432.9L706.6 421.2M708.7 468.3L703.4 480.4M693.2 489.1L698.7 477.1M674.5 492.1L680.7 480.4M677.8 509.9L683.7 499.0M665.9 548.4L671.2 537.7M665.9 548.4L660.6 559.9M601.9 613.7L614.6 610.0M575.5 673.0L579.2 685.3M575.5 673.0L572.1 660.3M689.3 672.5L676.8 674.9M732.7 701.9L745.0 699.5M732.7 701.9L720.9 704.7M681.0 728.7L694.3 729.2M681.0 728.7L668.0 728.6M691.1 781.9L703.1 782.2M701.2 835.1L698.0 822.6"/>
<path stroke="#ffd910" d="M702.2 432.9L697.6 445.2M677.8 509.9L687.3 502.7M659.1 512.9L653.1 523.7M647.2 551.4L640.9 562.7M601.9 613.7L589.1 616.9M623.8 628.4L635.7 625.5M623.8 628.4L611.4 631.2M568.5 637.5L569.8 650.4M568.5 637.5L568.5 625.0M682.6 637.0L694.1 633.8M572.0 655.3L574.2 667.8M572.0 655.3L569.6 642.2M597.4 687.7L610.0 689.7M614.8 776.3L621.0 787.2M614.8 776.3L608.8 765.2M745.9 772.8L757.7 770.3M745.9 772.8L734.3 775.5M691.1 781.9L678.1 779.9M701.2 835.1L703.4 847.0M740.9 846.7L737.6 834.2M722.7 849.8L725.4 861.2"/>
<path stroke="#ffe014" d="M698.9 415.1L694.0 426.1M686.6 453.6L697.1 446.5M671.2 474.4L676.9 463.3M659.1 512.9L665.3 502.2M647.2 551.4L653.2 541.2M682.6 637.0L671.0 639.4M645.7 643.1L658.3 641.2M557.1 676.0L561.2 688.4M557.1 676.0L555.2 662.9M670.9 675.5L658.1 675.8M597.4 687.7L585.3 685.6M677.6 711.0L690.1 712.0M724.3 758.1L711.8 760.0M767.4 787.5L779.6 785.2M767.4 787.5L755.8 789.8M639.9 808.8L646.4 820.3M639.9 808.8L633.4 797.2M740.9 846.7L743.6 858.9M722.7 849.8L719.9 838.1M780.5 858.4L783.6 870.0M780.5 858.4L777.8 846.3"/>
<path stroke="#ffe618" d="M695.6 397.4L700.7 386.0M695.6 397.4L689.6 409.1M698.9 415.1L704.0 403.5M686.6 453.6L692.7 443.4M686.6 453.6L680.6 464.8M667.8 456.7L672.4 445.0M667.8 456.7L663.1 468.1M671.2 474.4L666.4 485.4M652.4 477.4L659.0 466.4M652.4 477.4L646.0 487.4M655.8 495.2L662.2 484.7M655.8 495.2L649.1 505.8M640.5 516.0L634.2 526.6M643.9 533.7L650.6 522.3M643.9 533.7L637.9 545.1M606.6 539.8L599.5 550.9M628.7 554.5L635.1 544.4M610.1 557.5L603.7 568.3M638.9 607.6L650.4 604.6M565.0 619.8L563.4 632.4M550.0 640.6L550.1 653.3M645.7 643.1L632.7 644.9M670.9 675.5L683.8 674.9M677.6 711.0L665.8 710.1M385.3 759.6L374.7 752.4M739.3 737.3L752.2 734.6M739.3 737.3L727.0 739.8M724.3 758.1L736.2 755.4M706.0 761.1L718.6 759.7M618.2 794.1L623.7 805.0M618.2 794.1L613.5 783.3"/>
<path stroke="#ffec1c" d="M680.0 418.2L685.0 406.8M680.0 418.2L675.2 430.5M683.3 435.9L689.9 424.6M683.3 435.9L676.6 447.2M640.5 516.0L646.7 505.3M380.2 558.5L370.2 550.3M606.6 539.8L612.6 528.5M628.7 554.5L622.0 564.4M610.1 557.5L615.8 546.8M613.5 575.2L601.5 580.9M595.0 578.3L604.1 570.3M657.4 604.6L669.8 600.4M638.9 607.6L626.9 609.8M565.0 619.8L564.6 606.6M252.5 671.5L242.1 665.7M655.9 696.3L643.1 694.0M659.3 714.0L671.5 715.6M567.7 729.2L573.0 741.1M567.7 729.2L563.5 718.1M571.3 747.0L566.3 735.3M593.0 761.6L587.2 750.7M706.0 761.1L693.4 762.7M661.5 823.4L667.3 834.7M661.5 823.4L655.5 812.2M704.6 852.8L708.6 864.5M704.6 852.8L699.7 840.9M762.3 861.4L765.5 874.2M762.3 861.4L759.1 849.9M744.2 864.5L747.7 876.7M744.2 864.5L741.3 852.7M765.6 879.2L769.2 891.6"/>
<path stroke="#fff220" d="M270.6 411.1L259.6 403.7M428.4 422.2L417.7 416.2M342.4 472.9L331.7 466.0M664.5 438.9L670.9 428.1M664.5 438.9L658.2 449.8M645.7 442.0L652.4 430.6M645.7 442.0L639.2 452.7M649.1 459.7L656.4 449.2M649.1 459.7L642.0 469.7M637.1 498.2L642.4 486.5M637.1 498.2L632.4 510.5M395.0 537.7L384.1 531.1M603.2 522.0L597.1 533.8M625.2 536.7L631.0 525.1M625.2 536.7L619.5 547.6M613.5 575.2L624.1 570.1M595.0 578.3L583.3 582.9M576.4 581.3L581.9 571.0M576.4 581.3L570.8 592.9M561.4 602.1L561.5 614.1M561.4 602.1L560.9 589.2M583.4 616.8L572.1 620.8M664.2 640.1L651.1 641.9M224.0 713.0L211.0 715.5M560.7 693.8L565.6 705.5M560.7 693.8L556.9 682.3M341.2 730.2L330.2 726.1M655.9 696.3L667.6 698.5M564.2 711.5L576.8 711.4M564.2 711.5L551.2 711.8M418.0 735.8L406.4 730.4M363.3 744.9L351.5 740.4M589.5 743.9L596.7 754.6M589.5 743.9L583.7 733.3M593.0 761.6L599.7 772.8M643.3 826.5L638.1 815.5M765.6 879.2L762.4 866.9"/>
<path stroke="#fff924" d="M657.9 403.5L662.9 392.9M301.2 461.2L291.5 454.4M621.8 519.0L627.0 508.4M621.8 519.0L616.5 530.2M603.2 522.0L609.3 510.7M588.0 542.8L577.2 548.3M591.5 560.5L598.8 549.8M591.5 560.5L584.5 570.4M557.9 584.3L558.1 596.8M557.9 584.3L559.2 572.2M539.4 587.4L537.4 599.0M657.4 604.6L645.6 608.4M583.4 616.8L595.1 612.8M664.2 640.1L676.6 637.7M553.6 658.3L555.2 670.5M553.6 658.3L551.6 645.2M634.1 681.6L646.4 683.4M634.1 681.6L621.6 680.5M659.3 714.0L646.7 711.3M571.3 747.0L559.1 746.0M571.3 747.0L576.5 758.0M757.6 734.3L770.0 731.9M757.6 734.3L744.8 737.2M596.5 779.4L602.0 791.4M596.5 779.4L590.4 768.5M621.7 811.8L626.7 823.7M643.3 826.5L649.0 837.1M737.6 829.0L724.7 831.9M683.1 838.1L686.5 850.7M683.1 838.1L679.4 825.6M686.4 855.9L690.7 866.9M686.4 855.9L682.3 843.5M707.9 870.5L711.7 882.4M707.9 870.5L703.9 857.9M783.7 876.1L786.4 888.4M783.7 876.1L781.0 863.9"/>
<path stroke="#ffff28" d="M676.7 400.5L682.5 389.4M676.7 400.5L671.1 410.8M657.9 403.5L652.0 414.8M661.2 421.2L666.8 410.3M661.2 421.2L655.6 431.7M623.5 427.3L629.4 416.9M626.9 445.0L633.7 433.6M626.9 445.0L620.7 456.0M630.3 462.8L637.2 452.1M611.6 465.8L605.4 477.1M633.7 480.5L640.3 470.2M615.0 483.5L621.6 472.6M615.0 483.5L609.3 494.6M588.0 542.8L597.0 534.1M572.9 563.6L574.5 550.5M539.4 587.4L541.5 575.5M528.1 625.9L529.0 613.6M586.9 634.5L598.5 631.5M586.9 634.5L574.1 637.9M224.0 713.0L234.8 706.7M564.2 711.5L567.8 723.8M571.3 747.0L583.9 748.3M621.7 811.8L616.9 800.9M737.6 829.0L749.3 827.5M668.3 858.9L673.3 870.8M668.3 858.9L662.9 847.5M689.8 873.6L694.1 884.8M689.8 873.6L685.7 861.0M747.5 882.2L745.8 869.7"/>
</g>
<path fill="#000" shape-rendering="crispEdges" d="M689 579h4v4h-4zM578 597h4v4h-4zM559 600h4v4h-4zM674 600h4v4h-4zM655 603h4v4h-4zM637 606h4v4h-4zM618 609h4v4h-4zM581 615h4v4h-4zM677 617h4v4h-4zM603 629h4v4h-4zM736 626h4v4h-4zM681 635h4v4h-4zM662 638h4v4h-4zM644 641h4v4h-4zM588 650h4v4h-4zM739 644h4v4h-4zM647 659h4v4h-4zM610 665h4v4h-4zM592 668h4v4h-4zM706 667h4v4h-4zM614 683h4v4h-4zM709 685h4v4h-4zM691 688h4v4h-4zM672 691h4v4h-4zM599 703h4v4h-4zM749 697h4v4h-4zM676 709h4v4h-4zM657 712h4v4h-4zM752 715h4v4h-4zM734 718h4v4h-4zM697 724h4v4h-4zM624 736h4v4h-4zM588 742h4v4h-4zM756 732h4v4h-4zM737 735h4v4h-4zM682 744h4v4h-4zM646 751h4v4h-4zM686 762h4v4h-4zM667 765h4v4h-4zM744 771h4v4h-4zM707 777h4v4h-4zM671 783h4v4h-4zM634 789h4v4h-4zM765 785h4v4h-4zM729 792h4v4h-4zM692 798h4v4h-4zM638 807h4v4h-4zM769 803h4v4h-4zM750 806h4v4h-4zM714 812h4v4h-4zM696 815h4v4h-4zM659 821h4v4h-4zM772 821h4v4h-4zM757 842h4v4h-4z"/>
<path d="M979.8,102.3 977.7,104.5 975.9,107.3 974.8,110.4 968.8,110.4 965.6,114.4 961.7,118.3 953.9,118.6 947.6,118.3 944.1,115.9 941.3,114.8 937.4,115.1 934.2,113.6 931.9,112.8 926.4,112.3 921.6,113.9 918.5,111.2 915.4,111.2 913.0,113.6 913.8,116.7 916.9,120.6 917.7,125.4 920.9,127.4 925.6,128.5 929.5,131.6 935.0,134.8 938.9,139.5 942.1,142.6 950.7,146.3 955.4,150.0 958.3,150.5 960.1,154.4 960.1,163.1 963.3,166.2 969.6,170.9 972.7,170.9 978.2,174.5 982.1,172.5 987.6,172.5 991.6,175.6 993.9,179.6 997.1,182.7 1001.0,187.4 1006.5,185.1 1012.8,186.2 1017.5,190.6 1020.6,196.9 1026.9,201.3 1032.4,206.3 1039.5,206.3 1041.1,201.9 1044.2,198.4 1048.1,200.5 1053.6,201.9 1059.1,205.5 1065.4,210.2 1070.9,210.7 1074.9,214.9 1079.6,218.9 1083.5,221.7 1089.0,223.3 1093.7,228.3 1096.9,231.4 1106.3,239.1 1112.3,239.5 1120.9,242.6 1126.9,241.7 1130.3,246.0 1131.1,254.6 1134.6,258.9 1139.7,261.4 1144.0,268.3 1149.1,280.3 1150.3,292.3 1150.3,311.1 1147.4,318.0 1145.7,324.9 1146.6,327.1 1142.3,335.7 1141.4,341.7 1137.1,351.1 1133.7,357.1 1137.1,360.6 1141.4,362.3 1144.9,361.4 1145.7,366.6 1144.0,370.0 1149.1,375.1 1150.9,380.3 1154.3,383.4 1162.0,384.6 1167.1,387.1 1174.0,389.7 1177.4,394.0 1180.9,395.4 1184.6,399.5 1189.4,394.5 1196.3,394.9 1201.4,397.4 1210.0,402.6 1216.9,406.3 1225.4,410.3 1229.7,412.9 1235.7,414.9 1240.9,419.7 1245.1,426.6 1251.1,429.1 1258.9,434.3 1266.6,443.7 1270.0,447.1 1276.9,451.4 1287.1,454.0 1294.0,459.1 1298.3,469.4 1305.1,477.1 1308.6,486.6 1310.3,498.6 1315.4,507.1 1318.9,514.0M900.4,111.2 904.4,108.1 908.3,110.4 911.4,113.6 910.6,117.5 908.3,119.1 905.9,118.3 903.6,115.1 900.4,111.2M900.4,102.9 904.4,103.8 908.3,103.2M1105.1,102.9 1104.1,114.0 1108.9,123.4 1115.7,129.4 1121.7,130.3 1126.9,134.6 1132.9,136.3 1138.9,141.4 1139.4,151.7 1144.9,160.3 1147.4,165.4 1150.3,166.8 1149.1,162.0 1152.6,158.6 1156.0,159.4 1158.2,163.7 1157.7,168.9 1163.7,170.6 1168.9,175.7 1167.1,179.1 1162.0,180.0 1160.6,182.6 1165.4,187.7 1169.7,192.0 1173.1,186.9 1176.6,188.6 1186.0,195.4 1192.9,199.7 1198.9,203.1 1199.2,216.0 1203.1,217.7 1208.3,221.1 1205.2,227.1 1212.6,235.7 1212.6,242.6 1216.0,251.1 1217.7,254.6 1216.9,261.4 1215.1,266.6 1217.7,273.4 1222.9,280.3 1225.4,285.4 1228.9,294.0 1232.3,295.7 1237.4,296.6 1241.7,300.0 1242.6,307.7 1247.7,316.3 1251.1,324.9 1248.6,317.7 1251.1,327.1 1255.4,333.1 1261.4,335.7 1262.3,332.3 1264.9,331.9 1270.0,336.6 1274.3,337.4 1278.6,341.7 1279.4,348.6 1282.0,351.1 1277.7,359.7 1273.4,356.3 1270.0,351.1 1269.1,361.4 1266.6,365.7 1264.9,370.0 1265.2,380.3 1269.1,386.3 1269.1,394.0 1276.0,399.1 1282.0,403.4 1295.7,403.4 1295.7,399.1 1293.1,394.0 1298.3,390.2 1303.4,390.6 1309.4,397.4 1314.6,403.9 1318.9,404.6M1261.4,335.7 1264.0,342.6 1269.1,350.3 1270.0,351.1M1203.1,210.0 1205.2,206.9 1208.6,206.9 1211.4,210.0 1210.9,214.3 1207.9,216.0 1204.9,214.3 1203.1,210.0M1217.7,252.0 1220.3,249.4 1223.4,252.0 1222.0,261.4 1222.3,270.0 1220.6,272.1 1219.9,261.4 1217.7,254.6 1217.7,252.0M1223.7,257.1 1227.1,254.6 1234.9,253.7 1237.1,257.1 1237.1,268.3 1232.3,270.0 1229.7,275.1 1227.1,280.3 1223.7,280.3 1222.0,275.1 1222.9,264.9 1223.7,257.1M1231.4,286.3 1234.9,282.9 1240.0,284.6 1242.6,288.9 1240.9,294.0 1237.1,294.9 1233.7,292.3 1231.4,286.3M1233.7,284.6 1237.4,289.7 1238.8,294.0M1251.5,287.1 1253.7,283.7 1258.0,284.1 1261.1,289.7 1260.6,295.7 1257.1,298.3 1253.7,295.7 1251.5,287.1M1259.7,318.0 1261.4,314.6 1268.3,314.9 1269.7,318.9 1266.6,321.8 1269.1,324.5 1268.3,327.9 1265.2,328.6 1262.8,324.9 1260.6,321.4 1259.7,318.0M1274.3,335.2 1276.0,331.4 1279.4,331.4 1281.7,335.2 1279.4,338.8 1276.0,338.8 1274.3,335.2M1288.9,371.4 1293.1,374.3 1300.0,381.1 1300.9,385.4 1294.9,391.9 1289.7,388.0 1285.4,378.6 1285.4,374.3 1288.9,371.4M1223.7,102.9 1228.9,107.1 1233.1,110.6 1237.4,109.7 1240.0,107.1 1242.6,112.3 1250.3,117.4 1253.7,115.7 1255.4,112.3 1266.6,112.3 1270.9,115.7 1270.3,126.0 1266.6,128.6 1269.1,136.3 1272.6,143.1 1271.7,148.3 1269.1,150.9 1270.0,156.9 1274.3,160.3 1285.4,162.0 1289.7,166.3 1295.7,172.3 1306.0,174.9 1316.3,177.4M946.7,875.5 945.8,878.0 943.2,879.8 939.7,880.5 936.2,879.8 933.6,878.0 932.7,875.5 933.6,873.0 936.2,871.2 939.7,870.5 943.2,871.2 945.8,873.0 946.7,875.5M1251.4,839.7 1250.1,844.5 1246.4,847.9 1241.4,849.2 1236.4,847.9 1232.7,844.5 1231.4,839.7 1232.7,835.0 1236.4,831.5 1241.4,830.2 1246.4,831.5 1250.1,835.0 1251.4,839.7M1255.5,791.5 1262.0,798.0 1255.5,804.5 1249.0,798.0 1255.5,791.5" fill="none" stroke="#6b6b6b" stroke-width="2" stroke-linejoin="round" stroke-linecap="butt"/>
<g shape-rendering="crispEdges" fill="#000"><rect x="278" y="101" width="1" height="1121"/><rect x="198" y="181" width="1121" height="1"/><rect x="358" y="101" width="1" height="1121"/><rect x="198" y="261" width="1121" height="1"/><rect x="438" y="101" width="1" height="1121"/><rect x="198" y="341" width="1121" height="1"/><rect x="518" y="101" width="1" height="1121"/><rect x="198" y="421" width="1121" height="1"/><rect x="598" y="101" width="1" height="1121"/><rect x="198" y="501" width="1121" height="1"/><rect x="678" y="101" width="1" height="1121"/><rect x="198" y="581" width="1121" height="1"/><rect x="758" y="101" width="1" height="1121"/><rect x="198" y="661" width="1121" height="1"/><rect x="838" y="101" width="1" height="1121"/><rect x="198" y="741" width="1121" height="1"/><rect x="918" y="101" width="1" height="1121"/><rect x="198" y="821" width="1121" height="1"/><rect x="998" y="101" width="1" height="1121"/><rect x="198" y="901" width="1121" height="1"/><rect x="1078" y="101" width="1" height="1121"/><rect x="198" y="981" width="1121" height="1"/><rect x="1158" y="101" width="1" height="1121"/><rect x="198" y="1061" width="1121" height="1"/><rect x="1238" y="101" width="1" height="1121"/><rect x="198" y="1141" width="1121" height="1"/><rect x="196" y="100" width="3" height="1081"/><rect x="197" y="1181" width="3" height="42"/><rect x="1316" y="100" width="3" height="760"/><rect x="1317" y="860" width="3" height="363"/><rect x="196" y="100" width="1124" height="3"/><rect x="197" y="1220" width="1123" height="3"/><rect x="4" y="1395" width="2" height="1" fill="#0000ff"/><rect x="197" y="71" width="3" height="30"/><rect x="198" y="70" width="1" height="1"/><rect x="197" y="1222" width="3" height="31"/><rect x="198" y="1253" width="1" height="1"/><rect x="167" y="100" width="30" height="3"/><rect x="166" y="101" width="1" height="1"/><rect x="1319" y="100" width="30" height="3"/><rect x="1349" y="101" width="1" height="1"/><rect x="277" y="71" width="3" height="30"/><rect x="278" y="70" width="1" height="1"/><rect x="277" y="1222" width="3" height="31"/><rect x="278" y="1253" width="1" height="1"/><rect x="167" y="180" width="30" height="3"/><rect x="166" y="181" width="1" height="1"/><rect x="1319" y="180" width="30" height="3"/><rect x="1349" y="181" width="1" height="1"/><rect x="357" y="71" width="3" height="30"/><rect x="358" y="70" width="1" height="1"/><rect x="357" y="1222" width="3" height="31"/><rect x="358" y="1253" width="1" height="1"/><rect x="167" y="260" width="30" height="3"/><rect x="166" y="261" width="1" height="1"/><rect x="1319" y="260" width="30" height="3"/><rect x="1349" y="261" width="1" height="1"/><rect x="437" y="71" width="3" height="30"/><rect x="438" y="70" width="1" height="1"/><rect x="437" y="1222" width="3" height="31"/><rect x="438" y="1253" width="1" height="1"/><rect x="167" y="340" width="30" height="3"/><rect x="166" y="341" width="1" height="1"/><rect x="1319" y="340" width="30" height="3"/><rect x="1349" y="341" width="1" height="1"/><rect x="517" y="71" width="3" height="30"/><rect x="518" y="70" width="1" height="1"/><rect x="517" y="1222" width="3" height="31"/><rect x="518" y="1253" width="1" height="1"/><rect x="167" y="420" width="30" height="3"/><rect x="166" y="421" width="1" height="1"/><rect x="1319" y="420" width="30" height="3"/><rect x="1349" y="421" width="1" height="1"/><rect x="597" y="71" width="3" height="30"/><rect x="598" y="70" width="1" height="1"/><rect x="597" y="1222" width="3" height="31"/><rect x="598" y="1253" width="1" height="1"/><rect x="167" y="500" width="30" height="3"/><rect x="166" y="501" width="1" height="1"/><rect x="1319" y="500" width="30" height="3"/><rect x="1349" y="501" width="1" height="1"/><rect x="677" y="71" width="3" height="30"/><rect x="678" y="70" width="1" height="1"/><rect x="677" y="1222" width="3" height="31"/><rect x="678" y="1253" width="1" height="1"/><rect x="167" y="580" width="30" height="3"/><rect x="166" y="581" width="1" height="1"/><rect x="1319" y="580" width="30" height="3"/><rect x="1349" y="581" width="1" height="1"/><rect x="757" y="71" width="3" height="30"/><rect x="758" y="70" width="1" height="1"/><rect x="757" y="1222" width="3" height="31"/><rect x="758" y="1253" width="1" height="1"/><rect x="167" y="660" width="30" height="3"/><rect x="166" y="661" width="1" height="1"/><rect x="1319" y="660" width="30" height="3"/><rect x="1349" y="661" width="1" height="1"/><rect x="837" y="71" width="3" height="30"/><rect x="838" y="70" width="1" height="1"/><rect x="837" y="1222" width="3" height="31"/><rect x="838" y="1253" width="1" height="1"/><rect x="167" y="740" width="30" height="3"/><rect x="166" y="741" width="1" height="1"/><rect x="1319" y="740" width="30" height="3"/><rect x="1349" y="741" width="1" height="1"/><rect x="917" y="71" width="3" height="30"/><rect x="918" y="70" width="1" height="1"/><rect x="917" y="1222" width="3" height="31"/><rect x="918" y="1253" width="1" height="1"/><rect x="167" y="820" width="30" height="3"/><rect x="166" y="821" width="1" height="1"/><rect x="1319" y="820" width="30" height="3"/><rect x="1349" y="821" width="1" height="1"/><rect x="997" y="71" width="3" height="30"/><rect x="998" y="70" width="1" height="1"/><rect x="997" y="1222" width="3" height="31"/><rect x="998" y="1253" width="1" height="1"/><rect x="167" y="900" width="30" height="3"/><rect x="166" y="901" width="1" height="1"/><rect x="1319" y="900" width="30" height="3"/><rect x="1349" y="901" width="1" height="1"/><rect x="1077" y="71" width="3" height="30"/><rect x="1078" y="70" width="1" height="1"/><rect x="1077" y="1222" width="3" height="31"/><rect x="1078" y="1253" width="1" height="1"/><rect x="167" y="980" width="30" height="3"/><rect x="166" y="981" width="1" height="1"/><rect x="1319" y="980" width="30" height="3"/><rect x="1349" y="981" width="1" height="1"/><rect x="1157" y="71" width="3" height="30"/><rect x="1158" y="70" width="1" height="1"/><rect x="1157" y="1222" width="3" height="31"/><rect x="1158" y="1253" width="1" height="1"/><rect x="167" y="1060" width="30" height="3"/><rect x="166" y="1061" width="1" height="1"/><rect x="1319" y="1060" width="30" height="3"/><rect x="1349" y="1061" width="1" height="1"/><rect x="1237" y="71" width="3" height="30"/><rect x="1238" y="70" width="1" height="1"/><rect x="1237" y="1222" width="3" height="31"/><rect x="1238" y="1253" width="1" height="1"/><rect x="167" y="1140" width="30" height="3"/><rect x="166" y="1141" width="1" height="1"/><rect x="1319" y="1140" width="30" height="3"/><rect x="1349" y="1141" width="1" height="1"/><rect x="1317" y="71" width="3" height="30"/><rect x="1318" y="70" width="1" height="1"/><rect x="1317" y="1222" width="3" height="31"/><rect x="1318" y="1253" width="1" height="1"/><rect x="167" y="1220" width="30" height="3"/><rect x="166" y="1221" width="1" height="1"/><rect x="1319" y="1220" width="30" height="3"/><rect x="1349" y="1221" width="1" height="1"/></g>
</svg>
<div id="cb"></div>
<div class="t cl" style="left:64px;top:1186.0px">0</div>
<div class="t cl" style="left:64px;top:1086.0px">5</div>
<div class="t cl" style="left:64px;top:986.0px">10</div>
<div class="t cl" style="left:64px;top:892.0px">15</div>
<div class="t cl" style="left:64px;top:790.0px">20</div>
<div class="t cl" style="left:64px;top:696.5px">25</div>
<div class="t cl" style="left:64px;top:601.0px">30</div>
<div class="t cl" style="left:64px;top:499.0px">35</div>
<div class="t cl" style="left:64px;top:400.0px">40</div>
<div class="t cl" style="left:64px;top:301.0px">45</div>
<div class="t cl" style="left:64px;top:211.6px">&gt;50</div>
<div class="t xl" style="left:100.5px;top:1241.3px"><span class="m">-</span>124</div>
<div class="t xl" style="left:180.5px;top:1241.3px"><span class="m">-</span>123</div>
<div class="t xl" style="left:260.5px;top:1241.3px"><span class="m">-</span>122</div>
<div class="t xl" style="left:340.5px;top:1241.3px"><span class="m">-</span>121</div>
<div class="t xl" style="left:420.5px;top:1241.3px"><span class="m">-</span>120</div>
<div class="t xl" style="left:500.5px;top:1241.3px"><span class="m">-</span>119</div>
<div class="t xl" style="left:580.5px;top:1241.3px"><span class="m">-</span>118</div>
<div class="t xl" style="left:660.5px;top:1241.3px"><span class="m">-</span>117</div>
<div class="t xl" style="left:740.5px;top:1241.3px"><span class="m">-</span>116</div>
<div class="t xl" style="left:820.5px;top:1241.3px"><span class="m">-</span>115</div>
<div class="t xl" style="left:900.5px;top:1241.3px"><span class="m">-</span>114</div>
<div class="t xl" style="left:980.5px;top:1241.3px"><span class="m">-</span>113</div>
<div class="t xl" style="left:1060.5px;top:1241.3px"><span class="m">-</span>112</div>
<div class="t xl" style="left:1140.5px;top:1241.3px"><span class="m">-</span>111</div>
<div class="t xl" style="left:1220.5px;top:1241.3px"><span class="m">-</span>110</div>
<div class="t yl" style="left:128.5px;top:85.3px">28</div>
<div class="t yl" style="left:128.5px;top:165.3px">27</div>
<div class="t yl" style="left:128.5px;top:245.3px">26</div>
<div class="t yl" style="left:128.5px;top:325.3px">25</div>
<div class="t yl" style="left:128.5px;top:405.3px">24</div>
<div class="t yl" style="left:128.5px;top:485.3px">23</div>
<div class="t yl" style="left:128.5px;top:565.3px">22</div>
<div class="t yl" style="left:128.5px;top:645.3px">21</div>
<div class="t yl" style="left:128.5px;top:725.3px">20</div>
<div class="t yl" style="left:128.5px;top:805.3px">19</div>
<div class="t yl" style="left:128.5px;top:885.3px">18</div>
<div class="t yl" style="left:128.5px;top:965.3px">17</div>
<div class="t yl" style="left:128.5px;top:1045.3px">16</div>
<div class="t yl" style="left:128.5px;top:1125.3px">15</div>
<div class="t yl" style="left:128.5px;top:1205.3px">14</div>
<div class="t" id="lon">Longitude</div>
<div class="t" id="lat">Latitude</div>
<div class="t" id="kn">knots</div>
<div class="t th" id="l1">Date: 07<span class="sl">/</span>27<span class="sl">/</span>01 &nbsp; Time: 14:03:32</div>
<div class="t th" id="l2">Storm Name: DALILA &nbsp; Storm Number: 5</div>
<div class="t" id="ttl">BYU QS<span class="u">_</span>S2B<span class="d">10959.20012111845</span></div>
</body></html>
